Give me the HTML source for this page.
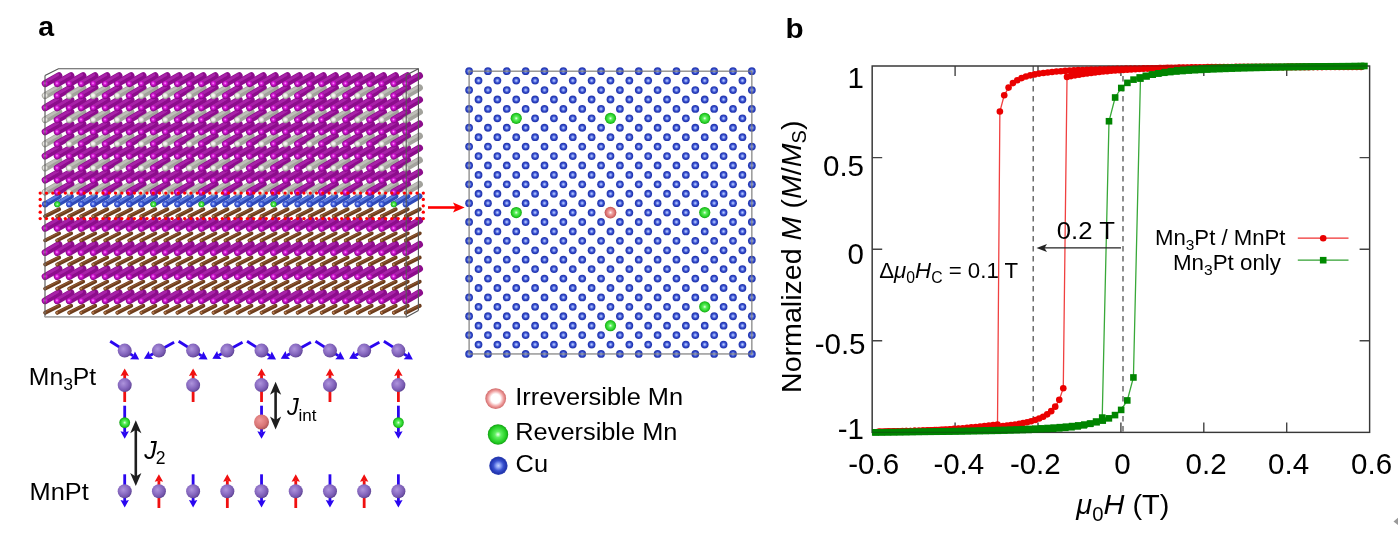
<!DOCTYPE html><html><head><meta charset="utf-8"><title>Figure</title><style>html,body{margin:0;padding:0;background:#fff;width:1398px;height:544px;overflow:hidden}svg{display:block;will-change:transform}text{font-family:"Liberation Sans",Arial,sans-serif}</style></head><body><svg width="1398" height="544" viewBox="0 0 1398 544" font-family="Liberation Sans, Arial, sans-serif"><defs>
<radialGradient id="gMn" cx="0.45" cy="0.45" r="0.6"><stop offset="0" stop-color="#ffa8ff"/><stop offset="0.4" stop-color="#d81cd8"/><stop offset="1" stop-color="#960096"/></radialGradient>
<radialGradient id="gPt" cx="0.45" cy="0.45" r="0.6"><stop offset="0" stop-color="#ffffff"/><stop offset="0.5" stop-color="#e6e6e0"/><stop offset="1" stop-color="#a0a098"/></radialGradient>
<radialGradient id="gCuR" cx="0.45" cy="0.45" r="0.6"><stop offset="0" stop-color="#c8d4ff"/><stop offset="0.45" stop-color="#4060e0"/><stop offset="1" stop-color="#2030a0"/></radialGradient>
<radialGradient id="gBr" cx="0.45" cy="0.45" r="0.6"><stop offset="0" stop-color="#d09060"/><stop offset="1" stop-color="#5a3010"/></radialGradient>
<radialGradient id="gCu" cx="0.5" cy="0.5" r="0.5"><stop offset="0" stop-color="#c4d4ff"/><stop offset="0.25" stop-color="#8aa0f4"/><stop offset="0.55" stop-color="#3a52d0"/><stop offset="0.85" stop-color="#2236b0"/><stop offset="1" stop-color="#3446b4"/></radialGradient>
<radialGradient id="gGr" cx="0.5" cy="0.5" r="0.5"><stop offset="0" stop-color="#f0fff0"/><stop offset="0.3" stop-color="#60f060"/><stop offset="0.8" stop-color="#22cc22"/><stop offset="1" stop-color="#14a014"/></radialGradient>
<radialGradient id="gPk" cx="0.5" cy="0.5" r="0.5"><stop offset="0" stop-color="#ffffff"/><stop offset="0.3" stop-color="#f0a8a8"/><stop offset="0.8" stop-color="#d86a6a"/><stop offset="1" stop-color="#b85050"/></radialGradient>
<radialGradient id="gPkL" cx="0.5" cy="0.5" r="0.5"><stop offset="0" stop-color="#ffffff"/><stop offset="0.45" stop-color="#ffffff"/><stop offset="0.75" stop-color="#f0a0a0"/><stop offset="1" stop-color="#d06868"/></radialGradient>
<radialGradient id="gSp" cx="0.4" cy="0.38" r="0.62"><stop offset="0" stop-color="#ae94dc"/><stop offset="0.55" stop-color="#8a6cc2"/><stop offset="0.85" stop-color="#7456ac"/><stop offset="1" stop-color="#5e4494"/></radialGradient>
<radialGradient id="gSpk" cx="0.4" cy="0.38" r="0.62"><stop offset="0" stop-color="#f09a9a"/><stop offset="0.7" stop-color="#d87474"/><stop offset="1" stop-color="#b05858"/></radialGradient>
<filter id="bl" x="-2%" y="-2%" width="104%" height="104%"><feGaussianBlur stdDeviation="0.5"/></filter>
</defs><text transform="matrix(1 0 0 1 38.2 35.9)" font-size="28.5" font-weight="bold">a</text><text transform="matrix(1.060 0 0 1 785.5 38.3)" font-size="28" font-weight="bold">b</text><g filter="url(#bl)"><g stroke-linecap="round"><line x1="45.2" y1="312.74" x2="59.2" y2="305.74" stroke="#6c3c1c" stroke-width="3.8"/><line x1="46.23" y1="311.44" x2="58.44" y2="305.34" stroke="#8c5630" stroke-width="1.4"/><line x1="57.22" y1="312.74" x2="71.22" y2="305.74" stroke="#6c3c1c" stroke-width="3.8"/><line x1="58.25" y1="311.44" x2="70.46" y2="305.34" stroke="#8c5630" stroke-width="1.4"/><line x1="69.24" y1="312.74" x2="83.24" y2="305.74" stroke="#6c3c1c" stroke-width="3.8"/><line x1="70.27" y1="311.44" x2="82.48" y2="305.34" stroke="#8c5630" stroke-width="1.4"/><line x1="81.26" y1="312.74" x2="95.26" y2="305.74" stroke="#6c3c1c" stroke-width="3.8"/><line x1="82.29" y1="311.44" x2="94.5" y2="305.34" stroke="#8c5630" stroke-width="1.4"/><line x1="93.28" y1="312.74" x2="107.28" y2="305.74" stroke="#6c3c1c" stroke-width="3.8"/><line x1="94.31" y1="311.44" x2="106.52" y2="305.34" stroke="#8c5630" stroke-width="1.4"/><line x1="105.3" y1="312.74" x2="119.3" y2="305.74" stroke="#6c3c1c" stroke-width="3.8"/><line x1="106.33" y1="311.44" x2="118.54" y2="305.34" stroke="#8c5630" stroke-width="1.4"/><line x1="117.32" y1="312.74" x2="131.32" y2="305.74" stroke="#6c3c1c" stroke-width="3.8"/><line x1="118.35" y1="311.44" x2="130.56" y2="305.34" stroke="#8c5630" stroke-width="1.4"/><line x1="129.34" y1="312.74" x2="143.34" y2="305.74" stroke="#6c3c1c" stroke-width="3.8"/><line x1="130.37" y1="311.44" x2="142.58" y2="305.34" stroke="#8c5630" stroke-width="1.4"/><line x1="141.36" y1="312.74" x2="155.36" y2="305.74" stroke="#6c3c1c" stroke-width="3.8"/><line x1="142.39" y1="311.44" x2="154.6" y2="305.34" stroke="#8c5630" stroke-width="1.4"/><line x1="153.38" y1="312.74" x2="167.38" y2="305.74" stroke="#6c3c1c" stroke-width="3.8"/><line x1="154.41" y1="311.44" x2="166.62" y2="305.34" stroke="#8c5630" stroke-width="1.4"/><line x1="165.4" y1="312.74" x2="179.4" y2="305.74" stroke="#6c3c1c" stroke-width="3.8"/><line x1="166.43" y1="311.44" x2="178.64" y2="305.34" stroke="#8c5630" stroke-width="1.4"/><line x1="177.42" y1="312.74" x2="191.42" y2="305.74" stroke="#6c3c1c" stroke-width="3.8"/><line x1="178.45" y1="311.44" x2="190.66" y2="305.34" stroke="#8c5630" stroke-width="1.4"/><line x1="189.44" y1="312.74" x2="203.44" y2="305.74" stroke="#6c3c1c" stroke-width="3.8"/><line x1="190.47" y1="311.44" x2="202.68" y2="305.34" stroke="#8c5630" stroke-width="1.4"/><line x1="201.46" y1="312.74" x2="215.46" y2="305.74" stroke="#6c3c1c" stroke-width="3.8"/><line x1="202.49" y1="311.44" x2="214.7" y2="305.34" stroke="#8c5630" stroke-width="1.4"/><line x1="213.48" y1="312.74" x2="227.48" y2="305.74" stroke="#6c3c1c" stroke-width="3.8"/><line x1="214.51" y1="311.44" x2="226.72" y2="305.34" stroke="#8c5630" stroke-width="1.4"/><line x1="225.5" y1="312.74" x2="239.5" y2="305.74" stroke="#6c3c1c" stroke-width="3.8"/><line x1="226.53" y1="311.44" x2="238.74" y2="305.34" stroke="#8c5630" stroke-width="1.4"/><line x1="237.52" y1="312.74" x2="251.52" y2="305.74" stroke="#6c3c1c" stroke-width="3.8"/><line x1="238.55" y1="311.44" x2="250.76" y2="305.34" stroke="#8c5630" stroke-width="1.4"/><line x1="249.54" y1="312.74" x2="263.54" y2="305.74" stroke="#6c3c1c" stroke-width="3.8"/><line x1="250.57" y1="311.44" x2="262.78" y2="305.34" stroke="#8c5630" stroke-width="1.4"/><line x1="261.56" y1="312.74" x2="275.56" y2="305.74" stroke="#6c3c1c" stroke-width="3.8"/><line x1="262.59" y1="311.44" x2="274.8" y2="305.34" stroke="#8c5630" stroke-width="1.4"/><line x1="273.58" y1="312.74" x2="287.58" y2="305.74" stroke="#6c3c1c" stroke-width="3.8"/><line x1="274.61" y1="311.44" x2="286.82" y2="305.34" stroke="#8c5630" stroke-width="1.4"/><line x1="285.6" y1="312.74" x2="299.6" y2="305.74" stroke="#6c3c1c" stroke-width="3.8"/><line x1="286.63" y1="311.44" x2="298.84" y2="305.34" stroke="#8c5630" stroke-width="1.4"/><line x1="297.62" y1="312.74" x2="311.62" y2="305.74" stroke="#6c3c1c" stroke-width="3.8"/><line x1="298.65" y1="311.44" x2="310.86" y2="305.34" stroke="#8c5630" stroke-width="1.4"/><line x1="309.64" y1="312.74" x2="323.64" y2="305.74" stroke="#6c3c1c" stroke-width="3.8"/><line x1="310.67" y1="311.44" x2="322.88" y2="305.34" stroke="#8c5630" stroke-width="1.4"/><line x1="321.66" y1="312.74" x2="335.66" y2="305.74" stroke="#6c3c1c" stroke-width="3.8"/><line x1="322.69" y1="311.44" x2="334.9" y2="305.34" stroke="#8c5630" stroke-width="1.4"/><line x1="333.68" y1="312.74" x2="347.68" y2="305.74" stroke="#6c3c1c" stroke-width="3.8"/><line x1="334.71" y1="311.44" x2="346.92" y2="305.34" stroke="#8c5630" stroke-width="1.4"/><line x1="345.7" y1="312.74" x2="359.7" y2="305.74" stroke="#6c3c1c" stroke-width="3.8"/><line x1="346.73" y1="311.44" x2="358.94" y2="305.34" stroke="#8c5630" stroke-width="1.4"/><line x1="357.72" y1="312.74" x2="371.72" y2="305.74" stroke="#6c3c1c" stroke-width="3.8"/><line x1="358.75" y1="311.44" x2="370.96" y2="305.34" stroke="#8c5630" stroke-width="1.4"/><line x1="369.74" y1="312.74" x2="383.74" y2="305.74" stroke="#6c3c1c" stroke-width="3.8"/><line x1="370.77" y1="311.44" x2="382.98" y2="305.34" stroke="#8c5630" stroke-width="1.4"/><line x1="381.76" y1="312.74" x2="395.76" y2="305.74" stroke="#6c3c1c" stroke-width="3.8"/><line x1="382.79" y1="311.44" x2="395" y2="305.34" stroke="#8c5630" stroke-width="1.4"/><line x1="393.78" y1="312.74" x2="407.78" y2="305.74" stroke="#6c3c1c" stroke-width="3.8"/><line x1="394.81" y1="311.44" x2="407.02" y2="305.34" stroke="#8c5630" stroke-width="1.4"/><line x1="405.8" y1="312.74" x2="419.8" y2="305.74" stroke="#6c3c1c" stroke-width="3.8"/><line x1="406.83" y1="311.44" x2="419.04" y2="305.34" stroke="#8c5630" stroke-width="1.4"/><line x1="45.2" y1="300.68" x2="58.9" y2="292.78" stroke="#8c0a8c" stroke-width="7.0"/><line x1="45.8" y1="298.72" x2="57.77" y2="291.82" stroke="#a824a8" stroke-width="2.8"/><line x1="57.22" y1="300.68" x2="70.92" y2="292.78" stroke="#8c0a8c" stroke-width="7.0"/><line x1="57.82" y1="298.72" x2="69.79" y2="291.82" stroke="#a824a8" stroke-width="2.8"/><line x1="69.24" y1="300.68" x2="82.94" y2="292.78" stroke="#8c0a8c" stroke-width="7.0"/><line x1="69.84" y1="298.72" x2="81.81" y2="291.82" stroke="#a824a8" stroke-width="2.8"/><line x1="81.26" y1="300.68" x2="94.96" y2="292.78" stroke="#8c0a8c" stroke-width="7.0"/><line x1="81.86" y1="298.72" x2="93.83" y2="291.82" stroke="#a824a8" stroke-width="2.8"/><line x1="93.28" y1="300.68" x2="106.98" y2="292.78" stroke="#8c0a8c" stroke-width="7.0"/><line x1="93.88" y1="298.72" x2="105.85" y2="291.82" stroke="#a824a8" stroke-width="2.8"/><line x1="105.3" y1="300.68" x2="119" y2="292.78" stroke="#8c0a8c" stroke-width="7.0"/><line x1="105.9" y1="298.72" x2="117.87" y2="291.82" stroke="#a824a8" stroke-width="2.8"/><line x1="117.32" y1="300.68" x2="131.02" y2="292.78" stroke="#8c0a8c" stroke-width="7.0"/><line x1="117.92" y1="298.72" x2="129.89" y2="291.82" stroke="#a824a8" stroke-width="2.8"/><line x1="129.34" y1="300.68" x2="143.04" y2="292.78" stroke="#8c0a8c" stroke-width="7.0"/><line x1="129.94" y1="298.72" x2="141.91" y2="291.82" stroke="#a824a8" stroke-width="2.8"/><line x1="141.36" y1="300.68" x2="155.06" y2="292.78" stroke="#8c0a8c" stroke-width="7.0"/><line x1="141.96" y1="298.72" x2="153.93" y2="291.82" stroke="#a824a8" stroke-width="2.8"/><line x1="153.38" y1="300.68" x2="167.08" y2="292.78" stroke="#8c0a8c" stroke-width="7.0"/><line x1="153.98" y1="298.72" x2="165.95" y2="291.82" stroke="#a824a8" stroke-width="2.8"/><line x1="165.4" y1="300.68" x2="179.1" y2="292.78" stroke="#8c0a8c" stroke-width="7.0"/><line x1="166" y1="298.72" x2="177.97" y2="291.82" stroke="#a824a8" stroke-width="2.8"/><line x1="177.42" y1="300.68" x2="191.12" y2="292.78" stroke="#8c0a8c" stroke-width="7.0"/><line x1="178.02" y1="298.72" x2="189.99" y2="291.82" stroke="#a824a8" stroke-width="2.8"/><line x1="189.44" y1="300.68" x2="203.14" y2="292.78" stroke="#8c0a8c" stroke-width="7.0"/><line x1="190.04" y1="298.72" x2="202.01" y2="291.82" stroke="#a824a8" stroke-width="2.8"/><line x1="201.46" y1="300.68" x2="215.16" y2="292.78" stroke="#8c0a8c" stroke-width="7.0"/><line x1="202.06" y1="298.72" x2="214.03" y2="291.82" stroke="#a824a8" stroke-width="2.8"/><line x1="213.48" y1="300.68" x2="227.18" y2="292.78" stroke="#8c0a8c" stroke-width="7.0"/><line x1="214.08" y1="298.72" x2="226.05" y2="291.82" stroke="#a824a8" stroke-width="2.8"/><line x1="225.5" y1="300.68" x2="239.2" y2="292.78" stroke="#8c0a8c" stroke-width="7.0"/><line x1="226.1" y1="298.72" x2="238.07" y2="291.82" stroke="#a824a8" stroke-width="2.8"/><line x1="237.52" y1="300.68" x2="251.22" y2="292.78" stroke="#8c0a8c" stroke-width="7.0"/><line x1="238.12" y1="298.72" x2="250.09" y2="291.82" stroke="#a824a8" stroke-width="2.8"/><line x1="249.54" y1="300.68" x2="263.24" y2="292.78" stroke="#8c0a8c" stroke-width="7.0"/><line x1="250.14" y1="298.72" x2="262.11" y2="291.82" stroke="#a824a8" stroke-width="2.8"/><line x1="261.56" y1="300.68" x2="275.26" y2="292.78" stroke="#8c0a8c" stroke-width="7.0"/><line x1="262.16" y1="298.72" x2="274.13" y2="291.82" stroke="#a824a8" stroke-width="2.8"/><line x1="273.58" y1="300.68" x2="287.28" y2="292.78" stroke="#8c0a8c" stroke-width="7.0"/><line x1="274.18" y1="298.72" x2="286.15" y2="291.82" stroke="#a824a8" stroke-width="2.8"/><line x1="285.6" y1="300.68" x2="299.3" y2="292.78" stroke="#8c0a8c" stroke-width="7.0"/><line x1="286.2" y1="298.72" x2="298.17" y2="291.82" stroke="#a824a8" stroke-width="2.8"/><line x1="297.62" y1="300.68" x2="311.32" y2="292.78" stroke="#8c0a8c" stroke-width="7.0"/><line x1="298.22" y1="298.72" x2="310.19" y2="291.82" stroke="#a824a8" stroke-width="2.8"/><line x1="309.64" y1="300.68" x2="323.34" y2="292.78" stroke="#8c0a8c" stroke-width="7.0"/><line x1="310.24" y1="298.72" x2="322.21" y2="291.82" stroke="#a824a8" stroke-width="2.8"/><line x1="321.66" y1="300.68" x2="335.36" y2="292.78" stroke="#8c0a8c" stroke-width="7.0"/><line x1="322.26" y1="298.72" x2="334.23" y2="291.82" stroke="#a824a8" stroke-width="2.8"/><line x1="333.68" y1="300.68" x2="347.38" y2="292.78" stroke="#8c0a8c" stroke-width="7.0"/><line x1="334.28" y1="298.72" x2="346.25" y2="291.82" stroke="#a824a8" stroke-width="2.8"/><line x1="345.7" y1="300.68" x2="359.4" y2="292.78" stroke="#8c0a8c" stroke-width="7.0"/><line x1="346.3" y1="298.72" x2="358.27" y2="291.82" stroke="#a824a8" stroke-width="2.8"/><line x1="357.72" y1="300.68" x2="371.42" y2="292.78" stroke="#8c0a8c" stroke-width="7.0"/><line x1="358.32" y1="298.72" x2="370.29" y2="291.82" stroke="#a824a8" stroke-width="2.8"/><line x1="369.74" y1="300.68" x2="383.44" y2="292.78" stroke="#8c0a8c" stroke-width="7.0"/><line x1="370.34" y1="298.72" x2="382.31" y2="291.82" stroke="#a824a8" stroke-width="2.8"/><line x1="381.76" y1="300.68" x2="395.46" y2="292.78" stroke="#8c0a8c" stroke-width="7.0"/><line x1="382.36" y1="298.72" x2="394.33" y2="291.82" stroke="#a824a8" stroke-width="2.8"/><line x1="393.78" y1="300.68" x2="407.48" y2="292.78" stroke="#8c0a8c" stroke-width="7.0"/><line x1="394.38" y1="298.72" x2="406.35" y2="291.82" stroke="#a824a8" stroke-width="2.8"/><line x1="405.8" y1="300.68" x2="419.5" y2="292.78" stroke="#8c0a8c" stroke-width="7.0"/><line x1="406.4" y1="298.72" x2="418.37" y2="291.82" stroke="#a824a8" stroke-width="2.8"/><line x1="45.2" y1="288.62" x2="59.2" y2="281.62" stroke="#6c3c1c" stroke-width="3.8"/><line x1="46.23" y1="287.32" x2="58.44" y2="281.22" stroke="#8c5630" stroke-width="1.4"/><line x1="57.22" y1="288.62" x2="71.22" y2="281.62" stroke="#6c3c1c" stroke-width="3.8"/><line x1="58.25" y1="287.32" x2="70.46" y2="281.22" stroke="#8c5630" stroke-width="1.4"/><line x1="69.24" y1="288.62" x2="83.24" y2="281.62" stroke="#6c3c1c" stroke-width="3.8"/><line x1="70.27" y1="287.32" x2="82.48" y2="281.22" stroke="#8c5630" stroke-width="1.4"/><line x1="81.26" y1="288.62" x2="95.26" y2="281.62" stroke="#6c3c1c" stroke-width="3.8"/><line x1="82.29" y1="287.32" x2="94.5" y2="281.22" stroke="#8c5630" stroke-width="1.4"/><line x1="93.28" y1="288.62" x2="107.28" y2="281.62" stroke="#6c3c1c" stroke-width="3.8"/><line x1="94.31" y1="287.32" x2="106.52" y2="281.22" stroke="#8c5630" stroke-width="1.4"/><line x1="105.3" y1="288.62" x2="119.3" y2="281.62" stroke="#6c3c1c" stroke-width="3.8"/><line x1="106.33" y1="287.32" x2="118.54" y2="281.22" stroke="#8c5630" stroke-width="1.4"/><line x1="117.32" y1="288.62" x2="131.32" y2="281.62" stroke="#6c3c1c" stroke-width="3.8"/><line x1="118.35" y1="287.32" x2="130.56" y2="281.22" stroke="#8c5630" stroke-width="1.4"/><line x1="129.34" y1="288.62" x2="143.34" y2="281.62" stroke="#6c3c1c" stroke-width="3.8"/><line x1="130.37" y1="287.32" x2="142.58" y2="281.22" stroke="#8c5630" stroke-width="1.4"/><line x1="141.36" y1="288.62" x2="155.36" y2="281.62" stroke="#6c3c1c" stroke-width="3.8"/><line x1="142.39" y1="287.32" x2="154.6" y2="281.22" stroke="#8c5630" stroke-width="1.4"/><line x1="153.38" y1="288.62" x2="167.38" y2="281.62" stroke="#6c3c1c" stroke-width="3.8"/><line x1="154.41" y1="287.32" x2="166.62" y2="281.22" stroke="#8c5630" stroke-width="1.4"/><line x1="165.4" y1="288.62" x2="179.4" y2="281.62" stroke="#6c3c1c" stroke-width="3.8"/><line x1="166.43" y1="287.32" x2="178.64" y2="281.22" stroke="#8c5630" stroke-width="1.4"/><line x1="177.42" y1="288.62" x2="191.42" y2="281.62" stroke="#6c3c1c" stroke-width="3.8"/><line x1="178.45" y1="287.32" x2="190.66" y2="281.22" stroke="#8c5630" stroke-width="1.4"/><line x1="189.44" y1="288.62" x2="203.44" y2="281.62" stroke="#6c3c1c" stroke-width="3.8"/><line x1="190.47" y1="287.32" x2="202.68" y2="281.22" stroke="#8c5630" stroke-width="1.4"/><line x1="201.46" y1="288.62" x2="215.46" y2="281.62" stroke="#6c3c1c" stroke-width="3.8"/><line x1="202.49" y1="287.32" x2="214.7" y2="281.22" stroke="#8c5630" stroke-width="1.4"/><line x1="213.48" y1="288.62" x2="227.48" y2="281.62" stroke="#6c3c1c" stroke-width="3.8"/><line x1="214.51" y1="287.32" x2="226.72" y2="281.22" stroke="#8c5630" stroke-width="1.4"/><line x1="225.5" y1="288.62" x2="239.5" y2="281.62" stroke="#6c3c1c" stroke-width="3.8"/><line x1="226.53" y1="287.32" x2="238.74" y2="281.22" stroke="#8c5630" stroke-width="1.4"/><line x1="237.52" y1="288.62" x2="251.52" y2="281.62" stroke="#6c3c1c" stroke-width="3.8"/><line x1="238.55" y1="287.32" x2="250.76" y2="281.22" stroke="#8c5630" stroke-width="1.4"/><line x1="249.54" y1="288.62" x2="263.54" y2="281.62" stroke="#6c3c1c" stroke-width="3.8"/><line x1="250.57" y1="287.32" x2="262.78" y2="281.22" stroke="#8c5630" stroke-width="1.4"/><line x1="261.56" y1="288.62" x2="275.56" y2="281.62" stroke="#6c3c1c" stroke-width="3.8"/><line x1="262.59" y1="287.32" x2="274.8" y2="281.22" stroke="#8c5630" stroke-width="1.4"/><line x1="273.58" y1="288.62" x2="287.58" y2="281.62" stroke="#6c3c1c" stroke-width="3.8"/><line x1="274.61" y1="287.32" x2="286.82" y2="281.22" stroke="#8c5630" stroke-width="1.4"/><line x1="285.6" y1="288.62" x2="299.6" y2="281.62" stroke="#6c3c1c" stroke-width="3.8"/><line x1="286.63" y1="287.32" x2="298.84" y2="281.22" stroke="#8c5630" stroke-width="1.4"/><line x1="297.62" y1="288.62" x2="311.62" y2="281.62" stroke="#6c3c1c" stroke-width="3.8"/><line x1="298.65" y1="287.32" x2="310.86" y2="281.22" stroke="#8c5630" stroke-width="1.4"/><line x1="309.64" y1="288.62" x2="323.64" y2="281.62" stroke="#6c3c1c" stroke-width="3.8"/><line x1="310.67" y1="287.32" x2="322.88" y2="281.22" stroke="#8c5630" stroke-width="1.4"/><line x1="321.66" y1="288.62" x2="335.66" y2="281.62" stroke="#6c3c1c" stroke-width="3.8"/><line x1="322.69" y1="287.32" x2="334.9" y2="281.22" stroke="#8c5630" stroke-width="1.4"/><line x1="333.68" y1="288.62" x2="347.68" y2="281.62" stroke="#6c3c1c" stroke-width="3.8"/><line x1="334.71" y1="287.32" x2="346.92" y2="281.22" stroke="#8c5630" stroke-width="1.4"/><line x1="345.7" y1="288.62" x2="359.7" y2="281.62" stroke="#6c3c1c" stroke-width="3.8"/><line x1="346.73" y1="287.32" x2="358.94" y2="281.22" stroke="#8c5630" stroke-width="1.4"/><line x1="357.72" y1="288.62" x2="371.72" y2="281.62" stroke="#6c3c1c" stroke-width="3.8"/><line x1="358.75" y1="287.32" x2="370.96" y2="281.22" stroke="#8c5630" stroke-width="1.4"/><line x1="369.74" y1="288.62" x2="383.74" y2="281.62" stroke="#6c3c1c" stroke-width="3.8"/><line x1="370.77" y1="287.32" x2="382.98" y2="281.22" stroke="#8c5630" stroke-width="1.4"/><line x1="381.76" y1="288.62" x2="395.76" y2="281.62" stroke="#6c3c1c" stroke-width="3.8"/><line x1="382.79" y1="287.32" x2="395" y2="281.22" stroke="#8c5630" stroke-width="1.4"/><line x1="393.78" y1="288.62" x2="407.78" y2="281.62" stroke="#6c3c1c" stroke-width="3.8"/><line x1="394.81" y1="287.32" x2="407.02" y2="281.22" stroke="#8c5630" stroke-width="1.4"/><line x1="405.8" y1="288.62" x2="419.8" y2="281.62" stroke="#6c3c1c" stroke-width="3.8"/><line x1="406.83" y1="287.32" x2="419.04" y2="281.22" stroke="#8c5630" stroke-width="1.4"/><line x1="45.2" y1="276.56" x2="58.9" y2="268.66" stroke="#8c0a8c" stroke-width="7.0"/><line x1="45.8" y1="274.6" x2="57.77" y2="267.7" stroke="#a824a8" stroke-width="2.8"/><line x1="57.22" y1="276.56" x2="70.92" y2="268.66" stroke="#8c0a8c" stroke-width="7.0"/><line x1="57.82" y1="274.6" x2="69.79" y2="267.7" stroke="#a824a8" stroke-width="2.8"/><line x1="69.24" y1="276.56" x2="82.94" y2="268.66" stroke="#8c0a8c" stroke-width="7.0"/><line x1="69.84" y1="274.6" x2="81.81" y2="267.7" stroke="#a824a8" stroke-width="2.8"/><line x1="81.26" y1="276.56" x2="94.96" y2="268.66" stroke="#8c0a8c" stroke-width="7.0"/><line x1="81.86" y1="274.6" x2="93.83" y2="267.7" stroke="#a824a8" stroke-width="2.8"/><line x1="93.28" y1="276.56" x2="106.98" y2="268.66" stroke="#8c0a8c" stroke-width="7.0"/><line x1="93.88" y1="274.6" x2="105.85" y2="267.7" stroke="#a824a8" stroke-width="2.8"/><line x1="105.3" y1="276.56" x2="119" y2="268.66" stroke="#8c0a8c" stroke-width="7.0"/><line x1="105.9" y1="274.6" x2="117.87" y2="267.7" stroke="#a824a8" stroke-width="2.8"/><line x1="117.32" y1="276.56" x2="131.02" y2="268.66" stroke="#8c0a8c" stroke-width="7.0"/><line x1="117.92" y1="274.6" x2="129.89" y2="267.7" stroke="#a824a8" stroke-width="2.8"/><line x1="129.34" y1="276.56" x2="143.04" y2="268.66" stroke="#8c0a8c" stroke-width="7.0"/><line x1="129.94" y1="274.6" x2="141.91" y2="267.7" stroke="#a824a8" stroke-width="2.8"/><line x1="141.36" y1="276.56" x2="155.06" y2="268.66" stroke="#8c0a8c" stroke-width="7.0"/><line x1="141.96" y1="274.6" x2="153.93" y2="267.7" stroke="#a824a8" stroke-width="2.8"/><line x1="153.38" y1="276.56" x2="167.08" y2="268.66" stroke="#8c0a8c" stroke-width="7.0"/><line x1="153.98" y1="274.6" x2="165.95" y2="267.7" stroke="#a824a8" stroke-width="2.8"/><line x1="165.4" y1="276.56" x2="179.1" y2="268.66" stroke="#8c0a8c" stroke-width="7.0"/><line x1="166" y1="274.6" x2="177.97" y2="267.7" stroke="#a824a8" stroke-width="2.8"/><line x1="177.42" y1="276.56" x2="191.12" y2="268.66" stroke="#8c0a8c" stroke-width="7.0"/><line x1="178.02" y1="274.6" x2="189.99" y2="267.7" stroke="#a824a8" stroke-width="2.8"/><line x1="189.44" y1="276.56" x2="203.14" y2="268.66" stroke="#8c0a8c" stroke-width="7.0"/><line x1="190.04" y1="274.6" x2="202.01" y2="267.7" stroke="#a824a8" stroke-width="2.8"/><line x1="201.46" y1="276.56" x2="215.16" y2="268.66" stroke="#8c0a8c" stroke-width="7.0"/><line x1="202.06" y1="274.6" x2="214.03" y2="267.7" stroke="#a824a8" stroke-width="2.8"/><line x1="213.48" y1="276.56" x2="227.18" y2="268.66" stroke="#8c0a8c" stroke-width="7.0"/><line x1="214.08" y1="274.6" x2="226.05" y2="267.7" stroke="#a824a8" stroke-width="2.8"/><line x1="225.5" y1="276.56" x2="239.2" y2="268.66" stroke="#8c0a8c" stroke-width="7.0"/><line x1="226.1" y1="274.6" x2="238.07" y2="267.7" stroke="#a824a8" stroke-width="2.8"/><line x1="237.52" y1="276.56" x2="251.22" y2="268.66" stroke="#8c0a8c" stroke-width="7.0"/><line x1="238.12" y1="274.6" x2="250.09" y2="267.7" stroke="#a824a8" stroke-width="2.8"/><line x1="249.54" y1="276.56" x2="263.24" y2="268.66" stroke="#8c0a8c" stroke-width="7.0"/><line x1="250.14" y1="274.6" x2="262.11" y2="267.7" stroke="#a824a8" stroke-width="2.8"/><line x1="261.56" y1="276.56" x2="275.26" y2="268.66" stroke="#8c0a8c" stroke-width="7.0"/><line x1="262.16" y1="274.6" x2="274.13" y2="267.7" stroke="#a824a8" stroke-width="2.8"/><line x1="273.58" y1="276.56" x2="287.28" y2="268.66" stroke="#8c0a8c" stroke-width="7.0"/><line x1="274.18" y1="274.6" x2="286.15" y2="267.7" stroke="#a824a8" stroke-width="2.8"/><line x1="285.6" y1="276.56" x2="299.3" y2="268.66" stroke="#8c0a8c" stroke-width="7.0"/><line x1="286.2" y1="274.6" x2="298.17" y2="267.7" stroke="#a824a8" stroke-width="2.8"/><line x1="297.62" y1="276.56" x2="311.32" y2="268.66" stroke="#8c0a8c" stroke-width="7.0"/><line x1="298.22" y1="274.6" x2="310.19" y2="267.7" stroke="#a824a8" stroke-width="2.8"/><line x1="309.64" y1="276.56" x2="323.34" y2="268.66" stroke="#8c0a8c" stroke-width="7.0"/><line x1="310.24" y1="274.6" x2="322.21" y2="267.7" stroke="#a824a8" stroke-width="2.8"/><line x1="321.66" y1="276.56" x2="335.36" y2="268.66" stroke="#8c0a8c" stroke-width="7.0"/><line x1="322.26" y1="274.6" x2="334.23" y2="267.7" stroke="#a824a8" stroke-width="2.8"/><line x1="333.68" y1="276.56" x2="347.38" y2="268.66" stroke="#8c0a8c" stroke-width="7.0"/><line x1="334.28" y1="274.6" x2="346.25" y2="267.7" stroke="#a824a8" stroke-width="2.8"/><line x1="345.7" y1="276.56" x2="359.4" y2="268.66" stroke="#8c0a8c" stroke-width="7.0"/><line x1="346.3" y1="274.6" x2="358.27" y2="267.7" stroke="#a824a8" stroke-width="2.8"/><line x1="357.72" y1="276.56" x2="371.42" y2="268.66" stroke="#8c0a8c" stroke-width="7.0"/><line x1="358.32" y1="274.6" x2="370.29" y2="267.7" stroke="#a824a8" stroke-width="2.8"/><line x1="369.74" y1="276.56" x2="383.44" y2="268.66" stroke="#8c0a8c" stroke-width="7.0"/><line x1="370.34" y1="274.6" x2="382.31" y2="267.7" stroke="#a824a8" stroke-width="2.8"/><line x1="381.76" y1="276.56" x2="395.46" y2="268.66" stroke="#8c0a8c" stroke-width="7.0"/><line x1="382.36" y1="274.6" x2="394.33" y2="267.7" stroke="#a824a8" stroke-width="2.8"/><line x1="393.78" y1="276.56" x2="407.48" y2="268.66" stroke="#8c0a8c" stroke-width="7.0"/><line x1="394.38" y1="274.6" x2="406.35" y2="267.7" stroke="#a824a8" stroke-width="2.8"/><line x1="405.8" y1="276.56" x2="419.5" y2="268.66" stroke="#8c0a8c" stroke-width="7.0"/><line x1="406.4" y1="274.6" x2="418.37" y2="267.7" stroke="#a824a8" stroke-width="2.8"/><line x1="45.2" y1="264.5" x2="59.2" y2="257.5" stroke="#6c3c1c" stroke-width="3.8"/><line x1="46.23" y1="263.2" x2="58.44" y2="257.1" stroke="#8c5630" stroke-width="1.4"/><line x1="57.22" y1="264.5" x2="71.22" y2="257.5" stroke="#6c3c1c" stroke-width="3.8"/><line x1="58.25" y1="263.2" x2="70.46" y2="257.1" stroke="#8c5630" stroke-width="1.4"/><line x1="69.24" y1="264.5" x2="83.24" y2="257.5" stroke="#6c3c1c" stroke-width="3.8"/><line x1="70.27" y1="263.2" x2="82.48" y2="257.1" stroke="#8c5630" stroke-width="1.4"/><line x1="81.26" y1="264.5" x2="95.26" y2="257.5" stroke="#6c3c1c" stroke-width="3.8"/><line x1="82.29" y1="263.2" x2="94.5" y2="257.1" stroke="#8c5630" stroke-width="1.4"/><line x1="93.28" y1="264.5" x2="107.28" y2="257.5" stroke="#6c3c1c" stroke-width="3.8"/><line x1="94.31" y1="263.2" x2="106.52" y2="257.1" stroke="#8c5630" stroke-width="1.4"/><line x1="105.3" y1="264.5" x2="119.3" y2="257.5" stroke="#6c3c1c" stroke-width="3.8"/><line x1="106.33" y1="263.2" x2="118.54" y2="257.1" stroke="#8c5630" stroke-width="1.4"/><line x1="117.32" y1="264.5" x2="131.32" y2="257.5" stroke="#6c3c1c" stroke-width="3.8"/><line x1="118.35" y1="263.2" x2="130.56" y2="257.1" stroke="#8c5630" stroke-width="1.4"/><line x1="129.34" y1="264.5" x2="143.34" y2="257.5" stroke="#6c3c1c" stroke-width="3.8"/><line x1="130.37" y1="263.2" x2="142.58" y2="257.1" stroke="#8c5630" stroke-width="1.4"/><line x1="141.36" y1="264.5" x2="155.36" y2="257.5" stroke="#6c3c1c" stroke-width="3.8"/><line x1="142.39" y1="263.2" x2="154.6" y2="257.1" stroke="#8c5630" stroke-width="1.4"/><line x1="153.38" y1="264.5" x2="167.38" y2="257.5" stroke="#6c3c1c" stroke-width="3.8"/><line x1="154.41" y1="263.2" x2="166.62" y2="257.1" stroke="#8c5630" stroke-width="1.4"/><line x1="165.4" y1="264.5" x2="179.4" y2="257.5" stroke="#6c3c1c" stroke-width="3.8"/><line x1="166.43" y1="263.2" x2="178.64" y2="257.1" stroke="#8c5630" stroke-width="1.4"/><line x1="177.42" y1="264.5" x2="191.42" y2="257.5" stroke="#6c3c1c" stroke-width="3.8"/><line x1="178.45" y1="263.2" x2="190.66" y2="257.1" stroke="#8c5630" stroke-width="1.4"/><line x1="189.44" y1="264.5" x2="203.44" y2="257.5" stroke="#6c3c1c" stroke-width="3.8"/><line x1="190.47" y1="263.2" x2="202.68" y2="257.1" stroke="#8c5630" stroke-width="1.4"/><line x1="201.46" y1="264.5" x2="215.46" y2="257.5" stroke="#6c3c1c" stroke-width="3.8"/><line x1="202.49" y1="263.2" x2="214.7" y2="257.1" stroke="#8c5630" stroke-width="1.4"/><line x1="213.48" y1="264.5" x2="227.48" y2="257.5" stroke="#6c3c1c" stroke-width="3.8"/><line x1="214.51" y1="263.2" x2="226.72" y2="257.1" stroke="#8c5630" stroke-width="1.4"/><line x1="225.5" y1="264.5" x2="239.5" y2="257.5" stroke="#6c3c1c" stroke-width="3.8"/><line x1="226.53" y1="263.2" x2="238.74" y2="257.1" stroke="#8c5630" stroke-width="1.4"/><line x1="237.52" y1="264.5" x2="251.52" y2="257.5" stroke="#6c3c1c" stroke-width="3.8"/><line x1="238.55" y1="263.2" x2="250.76" y2="257.1" stroke="#8c5630" stroke-width="1.4"/><line x1="249.54" y1="264.5" x2="263.54" y2="257.5" stroke="#6c3c1c" stroke-width="3.8"/><line x1="250.57" y1="263.2" x2="262.78" y2="257.1" stroke="#8c5630" stroke-width="1.4"/><line x1="261.56" y1="264.5" x2="275.56" y2="257.5" stroke="#6c3c1c" stroke-width="3.8"/><line x1="262.59" y1="263.2" x2="274.8" y2="257.1" stroke="#8c5630" stroke-width="1.4"/><line x1="273.58" y1="264.5" x2="287.58" y2="257.5" stroke="#6c3c1c" stroke-width="3.8"/><line x1="274.61" y1="263.2" x2="286.82" y2="257.1" stroke="#8c5630" stroke-width="1.4"/><line x1="285.6" y1="264.5" x2="299.6" y2="257.5" stroke="#6c3c1c" stroke-width="3.8"/><line x1="286.63" y1="263.2" x2="298.84" y2="257.1" stroke="#8c5630" stroke-width="1.4"/><line x1="297.62" y1="264.5" x2="311.62" y2="257.5" stroke="#6c3c1c" stroke-width="3.8"/><line x1="298.65" y1="263.2" x2="310.86" y2="257.1" stroke="#8c5630" stroke-width="1.4"/><line x1="309.64" y1="264.5" x2="323.64" y2="257.5" stroke="#6c3c1c" stroke-width="3.8"/><line x1="310.67" y1="263.2" x2="322.88" y2="257.1" stroke="#8c5630" stroke-width="1.4"/><line x1="321.66" y1="264.5" x2="335.66" y2="257.5" stroke="#6c3c1c" stroke-width="3.8"/><line x1="322.69" y1="263.2" x2="334.9" y2="257.1" stroke="#8c5630" stroke-width="1.4"/><line x1="333.68" y1="264.5" x2="347.68" y2="257.5" stroke="#6c3c1c" stroke-width="3.8"/><line x1="334.71" y1="263.2" x2="346.92" y2="257.1" stroke="#8c5630" stroke-width="1.4"/><line x1="345.7" y1="264.5" x2="359.7" y2="257.5" stroke="#6c3c1c" stroke-width="3.8"/><line x1="346.73" y1="263.2" x2="358.94" y2="257.1" stroke="#8c5630" stroke-width="1.4"/><line x1="357.72" y1="264.5" x2="371.72" y2="257.5" stroke="#6c3c1c" stroke-width="3.8"/><line x1="358.75" y1="263.2" x2="370.96" y2="257.1" stroke="#8c5630" stroke-width="1.4"/><line x1="369.74" y1="264.5" x2="383.74" y2="257.5" stroke="#6c3c1c" stroke-width="3.8"/><line x1="370.77" y1="263.2" x2="382.98" y2="257.1" stroke="#8c5630" stroke-width="1.4"/><line x1="381.76" y1="264.5" x2="395.76" y2="257.5" stroke="#6c3c1c" stroke-width="3.8"/><line x1="382.79" y1="263.2" x2="395" y2="257.1" stroke="#8c5630" stroke-width="1.4"/><line x1="393.78" y1="264.5" x2="407.78" y2="257.5" stroke="#6c3c1c" stroke-width="3.8"/><line x1="394.81" y1="263.2" x2="407.02" y2="257.1" stroke="#8c5630" stroke-width="1.4"/><line x1="405.8" y1="264.5" x2="419.8" y2="257.5" stroke="#6c3c1c" stroke-width="3.8"/><line x1="406.83" y1="263.2" x2="419.04" y2="257.1" stroke="#8c5630" stroke-width="1.4"/><line x1="45.2" y1="252.44" x2="58.9" y2="244.54" stroke="#8c0a8c" stroke-width="7.0"/><line x1="45.8" y1="250.48" x2="57.77" y2="243.58" stroke="#a824a8" stroke-width="2.8"/><line x1="57.22" y1="252.44" x2="70.92" y2="244.54" stroke="#8c0a8c" stroke-width="7.0"/><line x1="57.82" y1="250.48" x2="69.79" y2="243.58" stroke="#a824a8" stroke-width="2.8"/><line x1="69.24" y1="252.44" x2="82.94" y2="244.54" stroke="#8c0a8c" stroke-width="7.0"/><line x1="69.84" y1="250.48" x2="81.81" y2="243.58" stroke="#a824a8" stroke-width="2.8"/><line x1="81.26" y1="252.44" x2="94.96" y2="244.54" stroke="#8c0a8c" stroke-width="7.0"/><line x1="81.86" y1="250.48" x2="93.83" y2="243.58" stroke="#a824a8" stroke-width="2.8"/><line x1="93.28" y1="252.44" x2="106.98" y2="244.54" stroke="#8c0a8c" stroke-width="7.0"/><line x1="93.88" y1="250.48" x2="105.85" y2="243.58" stroke="#a824a8" stroke-width="2.8"/><line x1="105.3" y1="252.44" x2="119" y2="244.54" stroke="#8c0a8c" stroke-width="7.0"/><line x1="105.9" y1="250.48" x2="117.87" y2="243.58" stroke="#a824a8" stroke-width="2.8"/><line x1="117.32" y1="252.44" x2="131.02" y2="244.54" stroke="#8c0a8c" stroke-width="7.0"/><line x1="117.92" y1="250.48" x2="129.89" y2="243.58" stroke="#a824a8" stroke-width="2.8"/><line x1="129.34" y1="252.44" x2="143.04" y2="244.54" stroke="#8c0a8c" stroke-width="7.0"/><line x1="129.94" y1="250.48" x2="141.91" y2="243.58" stroke="#a824a8" stroke-width="2.8"/><line x1="141.36" y1="252.44" x2="155.06" y2="244.54" stroke="#8c0a8c" stroke-width="7.0"/><line x1="141.96" y1="250.48" x2="153.93" y2="243.58" stroke="#a824a8" stroke-width="2.8"/><line x1="153.38" y1="252.44" x2="167.08" y2="244.54" stroke="#8c0a8c" stroke-width="7.0"/><line x1="153.98" y1="250.48" x2="165.95" y2="243.58" stroke="#a824a8" stroke-width="2.8"/><line x1="165.4" y1="252.44" x2="179.1" y2="244.54" stroke="#8c0a8c" stroke-width="7.0"/><line x1="166" y1="250.48" x2="177.97" y2="243.58" stroke="#a824a8" stroke-width="2.8"/><line x1="177.42" y1="252.44" x2="191.12" y2="244.54" stroke="#8c0a8c" stroke-width="7.0"/><line x1="178.02" y1="250.48" x2="189.99" y2="243.58" stroke="#a824a8" stroke-width="2.8"/><line x1="189.44" y1="252.44" x2="203.14" y2="244.54" stroke="#8c0a8c" stroke-width="7.0"/><line x1="190.04" y1="250.48" x2="202.01" y2="243.58" stroke="#a824a8" stroke-width="2.8"/><line x1="201.46" y1="252.44" x2="215.16" y2="244.54" stroke="#8c0a8c" stroke-width="7.0"/><line x1="202.06" y1="250.48" x2="214.03" y2="243.58" stroke="#a824a8" stroke-width="2.8"/><line x1="213.48" y1="252.44" x2="227.18" y2="244.54" stroke="#8c0a8c" stroke-width="7.0"/><line x1="214.08" y1="250.48" x2="226.05" y2="243.58" stroke="#a824a8" stroke-width="2.8"/><line x1="225.5" y1="252.44" x2="239.2" y2="244.54" stroke="#8c0a8c" stroke-width="7.0"/><line x1="226.1" y1="250.48" x2="238.07" y2="243.58" stroke="#a824a8" stroke-width="2.8"/><line x1="237.52" y1="252.44" x2="251.22" y2="244.54" stroke="#8c0a8c" stroke-width="7.0"/><line x1="238.12" y1="250.48" x2="250.09" y2="243.58" stroke="#a824a8" stroke-width="2.8"/><line x1="249.54" y1="252.44" x2="263.24" y2="244.54" stroke="#8c0a8c" stroke-width="7.0"/><line x1="250.14" y1="250.48" x2="262.11" y2="243.58" stroke="#a824a8" stroke-width="2.8"/><line x1="261.56" y1="252.44" x2="275.26" y2="244.54" stroke="#8c0a8c" stroke-width="7.0"/><line x1="262.16" y1="250.48" x2="274.13" y2="243.58" stroke="#a824a8" stroke-width="2.8"/><line x1="273.58" y1="252.44" x2="287.28" y2="244.54" stroke="#8c0a8c" stroke-width="7.0"/><line x1="274.18" y1="250.48" x2="286.15" y2="243.58" stroke="#a824a8" stroke-width="2.8"/><line x1="285.6" y1="252.44" x2="299.3" y2="244.54" stroke="#8c0a8c" stroke-width="7.0"/><line x1="286.2" y1="250.48" x2="298.17" y2="243.58" stroke="#a824a8" stroke-width="2.8"/><line x1="297.62" y1="252.44" x2="311.32" y2="244.54" stroke="#8c0a8c" stroke-width="7.0"/><line x1="298.22" y1="250.48" x2="310.19" y2="243.58" stroke="#a824a8" stroke-width="2.8"/><line x1="309.64" y1="252.44" x2="323.34" y2="244.54" stroke="#8c0a8c" stroke-width="7.0"/><line x1="310.24" y1="250.48" x2="322.21" y2="243.58" stroke="#a824a8" stroke-width="2.8"/><line x1="321.66" y1="252.44" x2="335.36" y2="244.54" stroke="#8c0a8c" stroke-width="7.0"/><line x1="322.26" y1="250.48" x2="334.23" y2="243.58" stroke="#a824a8" stroke-width="2.8"/><line x1="333.68" y1="252.44" x2="347.38" y2="244.54" stroke="#8c0a8c" stroke-width="7.0"/><line x1="334.28" y1="250.48" x2="346.25" y2="243.58" stroke="#a824a8" stroke-width="2.8"/><line x1="345.7" y1="252.44" x2="359.4" y2="244.54" stroke="#8c0a8c" stroke-width="7.0"/><line x1="346.3" y1="250.48" x2="358.27" y2="243.58" stroke="#a824a8" stroke-width="2.8"/><line x1="357.72" y1="252.44" x2="371.42" y2="244.54" stroke="#8c0a8c" stroke-width="7.0"/><line x1="358.32" y1="250.48" x2="370.29" y2="243.58" stroke="#a824a8" stroke-width="2.8"/><line x1="369.74" y1="252.44" x2="383.44" y2="244.54" stroke="#8c0a8c" stroke-width="7.0"/><line x1="370.34" y1="250.48" x2="382.31" y2="243.58" stroke="#a824a8" stroke-width="2.8"/><line x1="381.76" y1="252.44" x2="395.46" y2="244.54" stroke="#8c0a8c" stroke-width="7.0"/><line x1="382.36" y1="250.48" x2="394.33" y2="243.58" stroke="#a824a8" stroke-width="2.8"/><line x1="393.78" y1="252.44" x2="407.48" y2="244.54" stroke="#8c0a8c" stroke-width="7.0"/><line x1="394.38" y1="250.48" x2="406.35" y2="243.58" stroke="#a824a8" stroke-width="2.8"/><line x1="405.8" y1="252.44" x2="419.5" y2="244.54" stroke="#8c0a8c" stroke-width="7.0"/><line x1="406.4" y1="250.48" x2="418.37" y2="243.58" stroke="#a824a8" stroke-width="2.8"/><line x1="45.2" y1="240.38" x2="59.2" y2="233.38" stroke="#6c3c1c" stroke-width="3.8"/><line x1="46.23" y1="239.08" x2="58.44" y2="232.98" stroke="#8c5630" stroke-width="1.4"/><line x1="57.22" y1="240.38" x2="71.22" y2="233.38" stroke="#6c3c1c" stroke-width="3.8"/><line x1="58.25" y1="239.08" x2="70.46" y2="232.98" stroke="#8c5630" stroke-width="1.4"/><line x1="69.24" y1="240.38" x2="83.24" y2="233.38" stroke="#6c3c1c" stroke-width="3.8"/><line x1="70.27" y1="239.08" x2="82.48" y2="232.98" stroke="#8c5630" stroke-width="1.4"/><line x1="81.26" y1="240.38" x2="95.26" y2="233.38" stroke="#6c3c1c" stroke-width="3.8"/><line x1="82.29" y1="239.08" x2="94.5" y2="232.98" stroke="#8c5630" stroke-width="1.4"/><line x1="93.28" y1="240.38" x2="107.28" y2="233.38" stroke="#6c3c1c" stroke-width="3.8"/><line x1="94.31" y1="239.08" x2="106.52" y2="232.98" stroke="#8c5630" stroke-width="1.4"/><line x1="105.3" y1="240.38" x2="119.3" y2="233.38" stroke="#6c3c1c" stroke-width="3.8"/><line x1="106.33" y1="239.08" x2="118.54" y2="232.98" stroke="#8c5630" stroke-width="1.4"/><line x1="117.32" y1="240.38" x2="131.32" y2="233.38" stroke="#6c3c1c" stroke-width="3.8"/><line x1="118.35" y1="239.08" x2="130.56" y2="232.98" stroke="#8c5630" stroke-width="1.4"/><line x1="129.34" y1="240.38" x2="143.34" y2="233.38" stroke="#6c3c1c" stroke-width="3.8"/><line x1="130.37" y1="239.08" x2="142.58" y2="232.98" stroke="#8c5630" stroke-width="1.4"/><line x1="141.36" y1="240.38" x2="155.36" y2="233.38" stroke="#6c3c1c" stroke-width="3.8"/><line x1="142.39" y1="239.08" x2="154.6" y2="232.98" stroke="#8c5630" stroke-width="1.4"/><line x1="153.38" y1="240.38" x2="167.38" y2="233.38" stroke="#6c3c1c" stroke-width="3.8"/><line x1="154.41" y1="239.08" x2="166.62" y2="232.98" stroke="#8c5630" stroke-width="1.4"/><line x1="165.4" y1="240.38" x2="179.4" y2="233.38" stroke="#6c3c1c" stroke-width="3.8"/><line x1="166.43" y1="239.08" x2="178.64" y2="232.98" stroke="#8c5630" stroke-width="1.4"/><line x1="177.42" y1="240.38" x2="191.42" y2="233.38" stroke="#6c3c1c" stroke-width="3.8"/><line x1="178.45" y1="239.08" x2="190.66" y2="232.98" stroke="#8c5630" stroke-width="1.4"/><line x1="189.44" y1="240.38" x2="203.44" y2="233.38" stroke="#6c3c1c" stroke-width="3.8"/><line x1="190.47" y1="239.08" x2="202.68" y2="232.98" stroke="#8c5630" stroke-width="1.4"/><line x1="201.46" y1="240.38" x2="215.46" y2="233.38" stroke="#6c3c1c" stroke-width="3.8"/><line x1="202.49" y1="239.08" x2="214.7" y2="232.98" stroke="#8c5630" stroke-width="1.4"/><line x1="213.48" y1="240.38" x2="227.48" y2="233.38" stroke="#6c3c1c" stroke-width="3.8"/><line x1="214.51" y1="239.08" x2="226.72" y2="232.98" stroke="#8c5630" stroke-width="1.4"/><line x1="225.5" y1="240.38" x2="239.5" y2="233.38" stroke="#6c3c1c" stroke-width="3.8"/><line x1="226.53" y1="239.08" x2="238.74" y2="232.98" stroke="#8c5630" stroke-width="1.4"/><line x1="237.52" y1="240.38" x2="251.52" y2="233.38" stroke="#6c3c1c" stroke-width="3.8"/><line x1="238.55" y1="239.08" x2="250.76" y2="232.98" stroke="#8c5630" stroke-width="1.4"/><line x1="249.54" y1="240.38" x2="263.54" y2="233.38" stroke="#6c3c1c" stroke-width="3.8"/><line x1="250.57" y1="239.08" x2="262.78" y2="232.98" stroke="#8c5630" stroke-width="1.4"/><line x1="261.56" y1="240.38" x2="275.56" y2="233.38" stroke="#6c3c1c" stroke-width="3.8"/><line x1="262.59" y1="239.08" x2="274.8" y2="232.98" stroke="#8c5630" stroke-width="1.4"/><line x1="273.58" y1="240.38" x2="287.58" y2="233.38" stroke="#6c3c1c" stroke-width="3.8"/><line x1="274.61" y1="239.08" x2="286.82" y2="232.98" stroke="#8c5630" stroke-width="1.4"/><line x1="285.6" y1="240.38" x2="299.6" y2="233.38" stroke="#6c3c1c" stroke-width="3.8"/><line x1="286.63" y1="239.08" x2="298.84" y2="232.98" stroke="#8c5630" stroke-width="1.4"/><line x1="297.62" y1="240.38" x2="311.62" y2="233.38" stroke="#6c3c1c" stroke-width="3.8"/><line x1="298.65" y1="239.08" x2="310.86" y2="232.98" stroke="#8c5630" stroke-width="1.4"/><line x1="309.64" y1="240.38" x2="323.64" y2="233.38" stroke="#6c3c1c" stroke-width="3.8"/><line x1="310.67" y1="239.08" x2="322.88" y2="232.98" stroke="#8c5630" stroke-width="1.4"/><line x1="321.66" y1="240.38" x2="335.66" y2="233.38" stroke="#6c3c1c" stroke-width="3.8"/><line x1="322.69" y1="239.08" x2="334.9" y2="232.98" stroke="#8c5630" stroke-width="1.4"/><line x1="333.68" y1="240.38" x2="347.68" y2="233.38" stroke="#6c3c1c" stroke-width="3.8"/><line x1="334.71" y1="239.08" x2="346.92" y2="232.98" stroke="#8c5630" stroke-width="1.4"/><line x1="345.7" y1="240.38" x2="359.7" y2="233.38" stroke="#6c3c1c" stroke-width="3.8"/><line x1="346.73" y1="239.08" x2="358.94" y2="232.98" stroke="#8c5630" stroke-width="1.4"/><line x1="357.72" y1="240.38" x2="371.72" y2="233.38" stroke="#6c3c1c" stroke-width="3.8"/><line x1="358.75" y1="239.08" x2="370.96" y2="232.98" stroke="#8c5630" stroke-width="1.4"/><line x1="369.74" y1="240.38" x2="383.74" y2="233.38" stroke="#6c3c1c" stroke-width="3.8"/><line x1="370.77" y1="239.08" x2="382.98" y2="232.98" stroke="#8c5630" stroke-width="1.4"/><line x1="381.76" y1="240.38" x2="395.76" y2="233.38" stroke="#6c3c1c" stroke-width="3.8"/><line x1="382.79" y1="239.08" x2="395" y2="232.98" stroke="#8c5630" stroke-width="1.4"/><line x1="393.78" y1="240.38" x2="407.78" y2="233.38" stroke="#6c3c1c" stroke-width="3.8"/><line x1="394.81" y1="239.08" x2="407.02" y2="232.98" stroke="#8c5630" stroke-width="1.4"/><line x1="405.8" y1="240.38" x2="419.8" y2="233.38" stroke="#6c3c1c" stroke-width="3.8"/><line x1="406.83" y1="239.08" x2="419.04" y2="232.98" stroke="#8c5630" stroke-width="1.4"/><line x1="45.2" y1="228.32" x2="58.9" y2="220.42" stroke="#8c0a8c" stroke-width="7.0"/><line x1="45.8" y1="226.36" x2="57.77" y2="219.46" stroke="#a824a8" stroke-width="2.8"/><line x1="57.22" y1="228.32" x2="70.92" y2="220.42" stroke="#8c0a8c" stroke-width="7.0"/><line x1="57.82" y1="226.36" x2="69.79" y2="219.46" stroke="#a824a8" stroke-width="2.8"/><line x1="69.24" y1="228.32" x2="82.94" y2="220.42" stroke="#8c0a8c" stroke-width="7.0"/><line x1="69.84" y1="226.36" x2="81.81" y2="219.46" stroke="#a824a8" stroke-width="2.8"/><line x1="81.26" y1="228.32" x2="94.96" y2="220.42" stroke="#8c0a8c" stroke-width="7.0"/><line x1="81.86" y1="226.36" x2="93.83" y2="219.46" stroke="#a824a8" stroke-width="2.8"/><line x1="93.28" y1="228.32" x2="106.98" y2="220.42" stroke="#8c0a8c" stroke-width="7.0"/><line x1="93.88" y1="226.36" x2="105.85" y2="219.46" stroke="#a824a8" stroke-width="2.8"/><line x1="105.3" y1="228.32" x2="119" y2="220.42" stroke="#8c0a8c" stroke-width="7.0"/><line x1="105.9" y1="226.36" x2="117.87" y2="219.46" stroke="#a824a8" stroke-width="2.8"/><line x1="117.32" y1="228.32" x2="131.02" y2="220.42" stroke="#8c0a8c" stroke-width="7.0"/><line x1="117.92" y1="226.36" x2="129.89" y2="219.46" stroke="#a824a8" stroke-width="2.8"/><line x1="129.34" y1="228.32" x2="143.04" y2="220.42" stroke="#8c0a8c" stroke-width="7.0"/><line x1="129.94" y1="226.36" x2="141.91" y2="219.46" stroke="#a824a8" stroke-width="2.8"/><line x1="141.36" y1="228.32" x2="155.06" y2="220.42" stroke="#8c0a8c" stroke-width="7.0"/><line x1="141.96" y1="226.36" x2="153.93" y2="219.46" stroke="#a824a8" stroke-width="2.8"/><line x1="153.38" y1="228.32" x2="167.08" y2="220.42" stroke="#8c0a8c" stroke-width="7.0"/><line x1="153.98" y1="226.36" x2="165.95" y2="219.46" stroke="#a824a8" stroke-width="2.8"/><line x1="165.4" y1="228.32" x2="179.1" y2="220.42" stroke="#8c0a8c" stroke-width="7.0"/><line x1="166" y1="226.36" x2="177.97" y2="219.46" stroke="#a824a8" stroke-width="2.8"/><line x1="177.42" y1="228.32" x2="191.12" y2="220.42" stroke="#8c0a8c" stroke-width="7.0"/><line x1="178.02" y1="226.36" x2="189.99" y2="219.46" stroke="#a824a8" stroke-width="2.8"/><line x1="189.44" y1="228.32" x2="203.14" y2="220.42" stroke="#8c0a8c" stroke-width="7.0"/><line x1="190.04" y1="226.36" x2="202.01" y2="219.46" stroke="#a824a8" stroke-width="2.8"/><line x1="201.46" y1="228.32" x2="215.16" y2="220.42" stroke="#8c0a8c" stroke-width="7.0"/><line x1="202.06" y1="226.36" x2="214.03" y2="219.46" stroke="#a824a8" stroke-width="2.8"/><line x1="213.48" y1="228.32" x2="227.18" y2="220.42" stroke="#8c0a8c" stroke-width="7.0"/><line x1="214.08" y1="226.36" x2="226.05" y2="219.46" stroke="#a824a8" stroke-width="2.8"/><line x1="225.5" y1="228.32" x2="239.2" y2="220.42" stroke="#8c0a8c" stroke-width="7.0"/><line x1="226.1" y1="226.36" x2="238.07" y2="219.46" stroke="#a824a8" stroke-width="2.8"/><line x1="237.52" y1="228.32" x2="251.22" y2="220.42" stroke="#8c0a8c" stroke-width="7.0"/><line x1="238.12" y1="226.36" x2="250.09" y2="219.46" stroke="#a824a8" stroke-width="2.8"/><line x1="249.54" y1="228.32" x2="263.24" y2="220.42" stroke="#8c0a8c" stroke-width="7.0"/><line x1="250.14" y1="226.36" x2="262.11" y2="219.46" stroke="#a824a8" stroke-width="2.8"/><line x1="261.56" y1="228.32" x2="275.26" y2="220.42" stroke="#8c0a8c" stroke-width="7.0"/><line x1="262.16" y1="226.36" x2="274.13" y2="219.46" stroke="#a824a8" stroke-width="2.8"/><line x1="273.58" y1="228.32" x2="287.28" y2="220.42" stroke="#8c0a8c" stroke-width="7.0"/><line x1="274.18" y1="226.36" x2="286.15" y2="219.46" stroke="#a824a8" stroke-width="2.8"/><line x1="285.6" y1="228.32" x2="299.3" y2="220.42" stroke="#8c0a8c" stroke-width="7.0"/><line x1="286.2" y1="226.36" x2="298.17" y2="219.46" stroke="#a824a8" stroke-width="2.8"/><line x1="297.62" y1="228.32" x2="311.32" y2="220.42" stroke="#8c0a8c" stroke-width="7.0"/><line x1="298.22" y1="226.36" x2="310.19" y2="219.46" stroke="#a824a8" stroke-width="2.8"/><line x1="309.64" y1="228.32" x2="323.34" y2="220.42" stroke="#8c0a8c" stroke-width="7.0"/><line x1="310.24" y1="226.36" x2="322.21" y2="219.46" stroke="#a824a8" stroke-width="2.8"/><line x1="321.66" y1="228.32" x2="335.36" y2="220.42" stroke="#8c0a8c" stroke-width="7.0"/><line x1="322.26" y1="226.36" x2="334.23" y2="219.46" stroke="#a824a8" stroke-width="2.8"/><line x1="333.68" y1="228.32" x2="347.38" y2="220.42" stroke="#8c0a8c" stroke-width="7.0"/><line x1="334.28" y1="226.36" x2="346.25" y2="219.46" stroke="#a824a8" stroke-width="2.8"/><line x1="345.7" y1="228.32" x2="359.4" y2="220.42" stroke="#8c0a8c" stroke-width="7.0"/><line x1="346.3" y1="226.36" x2="358.27" y2="219.46" stroke="#a824a8" stroke-width="2.8"/><line x1="357.72" y1="228.32" x2="371.42" y2="220.42" stroke="#8c0a8c" stroke-width="7.0"/><line x1="358.32" y1="226.36" x2="370.29" y2="219.46" stroke="#a824a8" stroke-width="2.8"/><line x1="369.74" y1="228.32" x2="383.44" y2="220.42" stroke="#8c0a8c" stroke-width="7.0"/><line x1="370.34" y1="226.36" x2="382.31" y2="219.46" stroke="#a824a8" stroke-width="2.8"/><line x1="381.76" y1="228.32" x2="395.46" y2="220.42" stroke="#8c0a8c" stroke-width="7.0"/><line x1="382.36" y1="226.36" x2="394.33" y2="219.46" stroke="#a824a8" stroke-width="2.8"/><line x1="393.78" y1="228.32" x2="407.48" y2="220.42" stroke="#8c0a8c" stroke-width="7.0"/><line x1="394.38" y1="226.36" x2="406.35" y2="219.46" stroke="#a824a8" stroke-width="2.8"/><line x1="405.8" y1="228.32" x2="419.5" y2="220.42" stroke="#8c0a8c" stroke-width="7.0"/><line x1="406.4" y1="226.36" x2="418.37" y2="219.46" stroke="#a824a8" stroke-width="2.8"/><line x1="45.2" y1="216.26" x2="59.2" y2="209.26" stroke="#6c3c1c" stroke-width="3.8"/><line x1="46.23" y1="214.96" x2="58.44" y2="208.86" stroke="#8c5630" stroke-width="1.4"/><line x1="57.22" y1="216.26" x2="71.22" y2="209.26" stroke="#6c3c1c" stroke-width="3.8"/><line x1="58.25" y1="214.96" x2="70.46" y2="208.86" stroke="#8c5630" stroke-width="1.4"/><line x1="69.24" y1="216.26" x2="83.24" y2="209.26" stroke="#6c3c1c" stroke-width="3.8"/><line x1="70.27" y1="214.96" x2="82.48" y2="208.86" stroke="#8c5630" stroke-width="1.4"/><line x1="81.26" y1="216.26" x2="95.26" y2="209.26" stroke="#6c3c1c" stroke-width="3.8"/><line x1="82.29" y1="214.96" x2="94.5" y2="208.86" stroke="#8c5630" stroke-width="1.4"/><line x1="93.28" y1="216.26" x2="107.28" y2="209.26" stroke="#6c3c1c" stroke-width="3.8"/><line x1="94.31" y1="214.96" x2="106.52" y2="208.86" stroke="#8c5630" stroke-width="1.4"/><line x1="105.3" y1="216.26" x2="119.3" y2="209.26" stroke="#6c3c1c" stroke-width="3.8"/><line x1="106.33" y1="214.96" x2="118.54" y2="208.86" stroke="#8c5630" stroke-width="1.4"/><line x1="117.32" y1="216.26" x2="131.32" y2="209.26" stroke="#6c3c1c" stroke-width="3.8"/><line x1="118.35" y1="214.96" x2="130.56" y2="208.86" stroke="#8c5630" stroke-width="1.4"/><line x1="129.34" y1="216.26" x2="143.34" y2="209.26" stroke="#6c3c1c" stroke-width="3.8"/><line x1="130.37" y1="214.96" x2="142.58" y2="208.86" stroke="#8c5630" stroke-width="1.4"/><line x1="141.36" y1="216.26" x2="155.36" y2="209.26" stroke="#6c3c1c" stroke-width="3.8"/><line x1="142.39" y1="214.96" x2="154.6" y2="208.86" stroke="#8c5630" stroke-width="1.4"/><line x1="153.38" y1="216.26" x2="167.38" y2="209.26" stroke="#6c3c1c" stroke-width="3.8"/><line x1="154.41" y1="214.96" x2="166.62" y2="208.86" stroke="#8c5630" stroke-width="1.4"/><line x1="165.4" y1="216.26" x2="179.4" y2="209.26" stroke="#6c3c1c" stroke-width="3.8"/><line x1="166.43" y1="214.96" x2="178.64" y2="208.86" stroke="#8c5630" stroke-width="1.4"/><line x1="177.42" y1="216.26" x2="191.42" y2="209.26" stroke="#6c3c1c" stroke-width="3.8"/><line x1="178.45" y1="214.96" x2="190.66" y2="208.86" stroke="#8c5630" stroke-width="1.4"/><line x1="189.44" y1="216.26" x2="203.44" y2="209.26" stroke="#6c3c1c" stroke-width="3.8"/><line x1="190.47" y1="214.96" x2="202.68" y2="208.86" stroke="#8c5630" stroke-width="1.4"/><line x1="201.46" y1="216.26" x2="215.46" y2="209.26" stroke="#6c3c1c" stroke-width="3.8"/><line x1="202.49" y1="214.96" x2="214.7" y2="208.86" stroke="#8c5630" stroke-width="1.4"/><line x1="213.48" y1="216.26" x2="227.48" y2="209.26" stroke="#6c3c1c" stroke-width="3.8"/><line x1="214.51" y1="214.96" x2="226.72" y2="208.86" stroke="#8c5630" stroke-width="1.4"/><line x1="225.5" y1="216.26" x2="239.5" y2="209.26" stroke="#6c3c1c" stroke-width="3.8"/><line x1="226.53" y1="214.96" x2="238.74" y2="208.86" stroke="#8c5630" stroke-width="1.4"/><line x1="237.52" y1="216.26" x2="251.52" y2="209.26" stroke="#6c3c1c" stroke-width="3.8"/><line x1="238.55" y1="214.96" x2="250.76" y2="208.86" stroke="#8c5630" stroke-width="1.4"/><line x1="249.54" y1="216.26" x2="263.54" y2="209.26" stroke="#6c3c1c" stroke-width="3.8"/><line x1="250.57" y1="214.96" x2="262.78" y2="208.86" stroke="#8c5630" stroke-width="1.4"/><line x1="261.56" y1="216.26" x2="275.56" y2="209.26" stroke="#6c3c1c" stroke-width="3.8"/><line x1="262.59" y1="214.96" x2="274.8" y2="208.86" stroke="#8c5630" stroke-width="1.4"/><line x1="273.58" y1="216.26" x2="287.58" y2="209.26" stroke="#6c3c1c" stroke-width="3.8"/><line x1="274.61" y1="214.96" x2="286.82" y2="208.86" stroke="#8c5630" stroke-width="1.4"/><line x1="285.6" y1="216.26" x2="299.6" y2="209.26" stroke="#6c3c1c" stroke-width="3.8"/><line x1="286.63" y1="214.96" x2="298.84" y2="208.86" stroke="#8c5630" stroke-width="1.4"/><line x1="297.62" y1="216.26" x2="311.62" y2="209.26" stroke="#6c3c1c" stroke-width="3.8"/><line x1="298.65" y1="214.96" x2="310.86" y2="208.86" stroke="#8c5630" stroke-width="1.4"/><line x1="309.64" y1="216.26" x2="323.64" y2="209.26" stroke="#6c3c1c" stroke-width="3.8"/><line x1="310.67" y1="214.96" x2="322.88" y2="208.86" stroke="#8c5630" stroke-width="1.4"/><line x1="321.66" y1="216.26" x2="335.66" y2="209.26" stroke="#6c3c1c" stroke-width="3.8"/><line x1="322.69" y1="214.96" x2="334.9" y2="208.86" stroke="#8c5630" stroke-width="1.4"/><line x1="333.68" y1="216.26" x2="347.68" y2="209.26" stroke="#6c3c1c" stroke-width="3.8"/><line x1="334.71" y1="214.96" x2="346.92" y2="208.86" stroke="#8c5630" stroke-width="1.4"/><line x1="345.7" y1="216.26" x2="359.7" y2="209.26" stroke="#6c3c1c" stroke-width="3.8"/><line x1="346.73" y1="214.96" x2="358.94" y2="208.86" stroke="#8c5630" stroke-width="1.4"/><line x1="357.72" y1="216.26" x2="371.72" y2="209.26" stroke="#6c3c1c" stroke-width="3.8"/><line x1="358.75" y1="214.96" x2="370.96" y2="208.86" stroke="#8c5630" stroke-width="1.4"/><line x1="369.74" y1="216.26" x2="383.74" y2="209.26" stroke="#6c3c1c" stroke-width="3.8"/><line x1="370.77" y1="214.96" x2="382.98" y2="208.86" stroke="#8c5630" stroke-width="1.4"/><line x1="381.76" y1="216.26" x2="395.76" y2="209.26" stroke="#6c3c1c" stroke-width="3.8"/><line x1="382.79" y1="214.96" x2="395" y2="208.86" stroke="#8c5630" stroke-width="1.4"/><line x1="393.78" y1="216.26" x2="407.78" y2="209.26" stroke="#6c3c1c" stroke-width="3.8"/><line x1="394.81" y1="214.96" x2="407.02" y2="208.86" stroke="#8c5630" stroke-width="1.4"/><line x1="405.8" y1="216.26" x2="419.8" y2="209.26" stroke="#6c3c1c" stroke-width="3.8"/><line x1="406.83" y1="214.96" x2="419.04" y2="208.86" stroke="#8c5630" stroke-width="1.4"/><line x1="45.2" y1="204.2" x2="58.9" y2="196.3" stroke="#2e4ab8" stroke-width="5.8"/><line x1="45.9" y1="202.41" x2="57.87" y2="195.51" stroke="#5c7ade" stroke-width="2.4"/><line x1="57.22" y1="204.2" x2="70.92" y2="196.3" stroke="#2e4ab8" stroke-width="5.8"/><line x1="57.92" y1="202.41" x2="69.89" y2="195.51" stroke="#5c7ade" stroke-width="2.4"/><line x1="69.24" y1="204.2" x2="82.94" y2="196.3" stroke="#2e4ab8" stroke-width="5.8"/><line x1="69.94" y1="202.41" x2="81.91" y2="195.51" stroke="#5c7ade" stroke-width="2.4"/><line x1="81.26" y1="204.2" x2="94.96" y2="196.3" stroke="#2e4ab8" stroke-width="5.8"/><line x1="81.96" y1="202.41" x2="93.93" y2="195.51" stroke="#5c7ade" stroke-width="2.4"/><line x1="93.28" y1="204.2" x2="106.98" y2="196.3" stroke="#2e4ab8" stroke-width="5.8"/><line x1="93.98" y1="202.41" x2="105.95" y2="195.51" stroke="#5c7ade" stroke-width="2.4"/><line x1="105.3" y1="204.2" x2="119" y2="196.3" stroke="#2e4ab8" stroke-width="5.8"/><line x1="106" y1="202.41" x2="117.97" y2="195.51" stroke="#5c7ade" stroke-width="2.4"/><line x1="117.32" y1="204.2" x2="131.02" y2="196.3" stroke="#2e4ab8" stroke-width="5.8"/><line x1="118.02" y1="202.41" x2="129.99" y2="195.51" stroke="#5c7ade" stroke-width="2.4"/><line x1="129.34" y1="204.2" x2="143.04" y2="196.3" stroke="#2e4ab8" stroke-width="5.8"/><line x1="130.04" y1="202.41" x2="142.01" y2="195.51" stroke="#5c7ade" stroke-width="2.4"/><line x1="141.36" y1="204.2" x2="155.06" y2="196.3" stroke="#2e4ab8" stroke-width="5.8"/><line x1="142.06" y1="202.41" x2="154.03" y2="195.51" stroke="#5c7ade" stroke-width="2.4"/><line x1="153.38" y1="204.2" x2="167.08" y2="196.3" stroke="#2e4ab8" stroke-width="5.8"/><line x1="154.08" y1="202.41" x2="166.05" y2="195.51" stroke="#5c7ade" stroke-width="2.4"/><line x1="165.4" y1="204.2" x2="179.1" y2="196.3" stroke="#2e4ab8" stroke-width="5.8"/><line x1="166.1" y1="202.41" x2="178.07" y2="195.51" stroke="#5c7ade" stroke-width="2.4"/><line x1="177.42" y1="204.2" x2="191.12" y2="196.3" stroke="#2e4ab8" stroke-width="5.8"/><line x1="178.12" y1="202.41" x2="190.09" y2="195.51" stroke="#5c7ade" stroke-width="2.4"/><line x1="189.44" y1="204.2" x2="203.14" y2="196.3" stroke="#2e4ab8" stroke-width="5.8"/><line x1="190.14" y1="202.41" x2="202.11" y2="195.51" stroke="#5c7ade" stroke-width="2.4"/><line x1="201.46" y1="204.2" x2="215.16" y2="196.3" stroke="#2e4ab8" stroke-width="5.8"/><line x1="202.16" y1="202.41" x2="214.13" y2="195.51" stroke="#5c7ade" stroke-width="2.4"/><line x1="213.48" y1="204.2" x2="227.18" y2="196.3" stroke="#2e4ab8" stroke-width="5.8"/><line x1="214.18" y1="202.41" x2="226.15" y2="195.51" stroke="#5c7ade" stroke-width="2.4"/><line x1="225.5" y1="204.2" x2="239.2" y2="196.3" stroke="#2e4ab8" stroke-width="5.8"/><line x1="226.2" y1="202.41" x2="238.17" y2="195.51" stroke="#5c7ade" stroke-width="2.4"/><line x1="237.52" y1="204.2" x2="251.22" y2="196.3" stroke="#2e4ab8" stroke-width="5.8"/><line x1="238.22" y1="202.41" x2="250.19" y2="195.51" stroke="#5c7ade" stroke-width="2.4"/><line x1="249.54" y1="204.2" x2="263.24" y2="196.3" stroke="#2e4ab8" stroke-width="5.8"/><line x1="250.24" y1="202.41" x2="262.21" y2="195.51" stroke="#5c7ade" stroke-width="2.4"/><line x1="261.56" y1="204.2" x2="275.26" y2="196.3" stroke="#2e4ab8" stroke-width="5.8"/><line x1="262.26" y1="202.41" x2="274.23" y2="195.51" stroke="#5c7ade" stroke-width="2.4"/><line x1="273.58" y1="204.2" x2="287.28" y2="196.3" stroke="#2e4ab8" stroke-width="5.8"/><line x1="274.28" y1="202.41" x2="286.25" y2="195.51" stroke="#5c7ade" stroke-width="2.4"/><line x1="285.6" y1="204.2" x2="299.3" y2="196.3" stroke="#2e4ab8" stroke-width="5.8"/><line x1="286.3" y1="202.41" x2="298.27" y2="195.51" stroke="#5c7ade" stroke-width="2.4"/><line x1="297.62" y1="204.2" x2="311.32" y2="196.3" stroke="#2e4ab8" stroke-width="5.8"/><line x1="298.32" y1="202.41" x2="310.29" y2="195.51" stroke="#5c7ade" stroke-width="2.4"/><line x1="309.64" y1="204.2" x2="323.34" y2="196.3" stroke="#2e4ab8" stroke-width="5.8"/><line x1="310.34" y1="202.41" x2="322.31" y2="195.51" stroke="#5c7ade" stroke-width="2.4"/><line x1="321.66" y1="204.2" x2="335.36" y2="196.3" stroke="#2e4ab8" stroke-width="5.8"/><line x1="322.36" y1="202.41" x2="334.33" y2="195.51" stroke="#5c7ade" stroke-width="2.4"/><line x1="333.68" y1="204.2" x2="347.38" y2="196.3" stroke="#2e4ab8" stroke-width="5.8"/><line x1="334.38" y1="202.41" x2="346.35" y2="195.51" stroke="#5c7ade" stroke-width="2.4"/><line x1="345.7" y1="204.2" x2="359.4" y2="196.3" stroke="#2e4ab8" stroke-width="5.8"/><line x1="346.4" y1="202.41" x2="358.37" y2="195.51" stroke="#5c7ade" stroke-width="2.4"/><line x1="357.72" y1="204.2" x2="371.42" y2="196.3" stroke="#2e4ab8" stroke-width="5.8"/><line x1="358.42" y1="202.41" x2="370.39" y2="195.51" stroke="#5c7ade" stroke-width="2.4"/><line x1="369.74" y1="204.2" x2="383.44" y2="196.3" stroke="#2e4ab8" stroke-width="5.8"/><line x1="370.44" y1="202.41" x2="382.41" y2="195.51" stroke="#5c7ade" stroke-width="2.4"/><line x1="381.76" y1="204.2" x2="395.46" y2="196.3" stroke="#2e4ab8" stroke-width="5.8"/><line x1="382.46" y1="202.41" x2="394.43" y2="195.51" stroke="#5c7ade" stroke-width="2.4"/><line x1="393.78" y1="204.2" x2="407.48" y2="196.3" stroke="#2e4ab8" stroke-width="5.8"/><line x1="394.48" y1="202.41" x2="406.45" y2="195.51" stroke="#5c7ade" stroke-width="2.4"/><line x1="405.8" y1="204.2" x2="419.5" y2="196.3" stroke="#2e4ab8" stroke-width="5.8"/><line x1="406.5" y1="202.41" x2="418.47" y2="195.51" stroke="#5c7ade" stroke-width="2.4"/><line x1="45.2" y1="192.14" x2="58.9" y2="184.24" stroke="#a2a29c" stroke-width="6.8"/><line x1="45.8" y1="190.18" x2="57.77" y2="183.28" stroke="#bebeb8" stroke-width="2.6"/><line x1="57.22" y1="192.14" x2="70.92" y2="184.24" stroke="#8c0a8c" stroke-width="7.0"/><line x1="57.82" y1="190.18" x2="69.79" y2="183.28" stroke="#a824a8" stroke-width="2.8"/><line x1="69.24" y1="192.14" x2="82.94" y2="184.24" stroke="#a2a29c" stroke-width="6.8"/><line x1="69.84" y1="190.18" x2="81.81" y2="183.28" stroke="#bebeb8" stroke-width="2.6"/><line x1="81.26" y1="192.14" x2="94.96" y2="184.24" stroke="#8c0a8c" stroke-width="7.0"/><line x1="81.86" y1="190.18" x2="93.83" y2="183.28" stroke="#a824a8" stroke-width="2.8"/><line x1="93.28" y1="192.14" x2="106.98" y2="184.24" stroke="#a2a29c" stroke-width="6.8"/><line x1="93.88" y1="190.18" x2="105.85" y2="183.28" stroke="#bebeb8" stroke-width="2.6"/><line x1="105.3" y1="192.14" x2="119" y2="184.24" stroke="#8c0a8c" stroke-width="7.0"/><line x1="105.9" y1="190.18" x2="117.87" y2="183.28" stroke="#a824a8" stroke-width="2.8"/><line x1="117.32" y1="192.14" x2="131.02" y2="184.24" stroke="#a2a29c" stroke-width="6.8"/><line x1="117.92" y1="190.18" x2="129.89" y2="183.28" stroke="#bebeb8" stroke-width="2.6"/><line x1="129.34" y1="192.14" x2="143.04" y2="184.24" stroke="#8c0a8c" stroke-width="7.0"/><line x1="129.94" y1="190.18" x2="141.91" y2="183.28" stroke="#a824a8" stroke-width="2.8"/><line x1="141.36" y1="192.14" x2="155.06" y2="184.24" stroke="#a2a29c" stroke-width="6.8"/><line x1="141.96" y1="190.18" x2="153.93" y2="183.28" stroke="#bebeb8" stroke-width="2.6"/><line x1="153.38" y1="192.14" x2="167.08" y2="184.24" stroke="#8c0a8c" stroke-width="7.0"/><line x1="153.98" y1="190.18" x2="165.95" y2="183.28" stroke="#a824a8" stroke-width="2.8"/><line x1="165.4" y1="192.14" x2="179.1" y2="184.24" stroke="#a2a29c" stroke-width="6.8"/><line x1="166" y1="190.18" x2="177.97" y2="183.28" stroke="#bebeb8" stroke-width="2.6"/><line x1="177.42" y1="192.14" x2="191.12" y2="184.24" stroke="#8c0a8c" stroke-width="7.0"/><line x1="178.02" y1="190.18" x2="189.99" y2="183.28" stroke="#a824a8" stroke-width="2.8"/><line x1="189.44" y1="192.14" x2="203.14" y2="184.24" stroke="#a2a29c" stroke-width="6.8"/><line x1="190.04" y1="190.18" x2="202.01" y2="183.28" stroke="#bebeb8" stroke-width="2.6"/><line x1="201.46" y1="192.14" x2="215.16" y2="184.24" stroke="#8c0a8c" stroke-width="7.0"/><line x1="202.06" y1="190.18" x2="214.03" y2="183.28" stroke="#a824a8" stroke-width="2.8"/><line x1="213.48" y1="192.14" x2="227.18" y2="184.24" stroke="#a2a29c" stroke-width="6.8"/><line x1="214.08" y1="190.18" x2="226.05" y2="183.28" stroke="#bebeb8" stroke-width="2.6"/><line x1="225.5" y1="192.14" x2="239.2" y2="184.24" stroke="#8c0a8c" stroke-width="7.0"/><line x1="226.1" y1="190.18" x2="238.07" y2="183.28" stroke="#a824a8" stroke-width="2.8"/><line x1="237.52" y1="192.14" x2="251.22" y2="184.24" stroke="#a2a29c" stroke-width="6.8"/><line x1="238.12" y1="190.18" x2="250.09" y2="183.28" stroke="#bebeb8" stroke-width="2.6"/><line x1="249.54" y1="192.14" x2="263.24" y2="184.24" stroke="#8c0a8c" stroke-width="7.0"/><line x1="250.14" y1="190.18" x2="262.11" y2="183.28" stroke="#a824a8" stroke-width="2.8"/><line x1="261.56" y1="192.14" x2="275.26" y2="184.24" stroke="#a2a29c" stroke-width="6.8"/><line x1="262.16" y1="190.18" x2="274.13" y2="183.28" stroke="#bebeb8" stroke-width="2.6"/><line x1="273.58" y1="192.14" x2="287.28" y2="184.24" stroke="#8c0a8c" stroke-width="7.0"/><line x1="274.18" y1="190.18" x2="286.15" y2="183.28" stroke="#a824a8" stroke-width="2.8"/><line x1="285.6" y1="192.14" x2="299.3" y2="184.24" stroke="#a2a29c" stroke-width="6.8"/><line x1="286.2" y1="190.18" x2="298.17" y2="183.28" stroke="#bebeb8" stroke-width="2.6"/><line x1="297.62" y1="192.14" x2="311.32" y2="184.24" stroke="#8c0a8c" stroke-width="7.0"/><line x1="298.22" y1="190.18" x2="310.19" y2="183.28" stroke="#a824a8" stroke-width="2.8"/><line x1="309.64" y1="192.14" x2="323.34" y2="184.24" stroke="#a2a29c" stroke-width="6.8"/><line x1="310.24" y1="190.18" x2="322.21" y2="183.28" stroke="#bebeb8" stroke-width="2.6"/><line x1="321.66" y1="192.14" x2="335.36" y2="184.24" stroke="#8c0a8c" stroke-width="7.0"/><line x1="322.26" y1="190.18" x2="334.23" y2="183.28" stroke="#a824a8" stroke-width="2.8"/><line x1="333.68" y1="192.14" x2="347.38" y2="184.24" stroke="#a2a29c" stroke-width="6.8"/><line x1="334.28" y1="190.18" x2="346.25" y2="183.28" stroke="#bebeb8" stroke-width="2.6"/><line x1="345.7" y1="192.14" x2="359.4" y2="184.24" stroke="#8c0a8c" stroke-width="7.0"/><line x1="346.3" y1="190.18" x2="358.27" y2="183.28" stroke="#a824a8" stroke-width="2.8"/><line x1="357.72" y1="192.14" x2="371.42" y2="184.24" stroke="#a2a29c" stroke-width="6.8"/><line x1="358.32" y1="190.18" x2="370.29" y2="183.28" stroke="#bebeb8" stroke-width="2.6"/><line x1="369.74" y1="192.14" x2="383.44" y2="184.24" stroke="#8c0a8c" stroke-width="7.0"/><line x1="370.34" y1="190.18" x2="382.31" y2="183.28" stroke="#a824a8" stroke-width="2.8"/><line x1="381.76" y1="192.14" x2="395.46" y2="184.24" stroke="#a2a29c" stroke-width="6.8"/><line x1="382.36" y1="190.18" x2="394.33" y2="183.28" stroke="#bebeb8" stroke-width="2.6"/><line x1="393.78" y1="192.14" x2="407.48" y2="184.24" stroke="#8c0a8c" stroke-width="7.0"/><line x1="394.38" y1="190.18" x2="406.35" y2="183.28" stroke="#a824a8" stroke-width="2.8"/><line x1="405.8" y1="192.14" x2="419.5" y2="184.24" stroke="#a2a29c" stroke-width="6.8"/><line x1="406.4" y1="190.18" x2="418.37" y2="183.28" stroke="#bebeb8" stroke-width="2.6"/><line x1="45.2" y1="180.08" x2="58.9" y2="172.18" stroke="#8c0a8c" stroke-width="7.0"/><line x1="45.8" y1="178.12" x2="57.77" y2="171.22" stroke="#a824a8" stroke-width="2.8"/><line x1="57.22" y1="180.08" x2="70.92" y2="172.18" stroke="#8c0a8c" stroke-width="7.0"/><line x1="57.82" y1="178.12" x2="69.79" y2="171.22" stroke="#a824a8" stroke-width="2.8"/><line x1="69.24" y1="180.08" x2="82.94" y2="172.18" stroke="#8c0a8c" stroke-width="7.0"/><line x1="69.84" y1="178.12" x2="81.81" y2="171.22" stroke="#a824a8" stroke-width="2.8"/><line x1="81.26" y1="180.08" x2="94.96" y2="172.18" stroke="#8c0a8c" stroke-width="7.0"/><line x1="81.86" y1="178.12" x2="93.83" y2="171.22" stroke="#a824a8" stroke-width="2.8"/><line x1="93.28" y1="180.08" x2="106.98" y2="172.18" stroke="#8c0a8c" stroke-width="7.0"/><line x1="93.88" y1="178.12" x2="105.85" y2="171.22" stroke="#a824a8" stroke-width="2.8"/><line x1="105.3" y1="180.08" x2="119" y2="172.18" stroke="#8c0a8c" stroke-width="7.0"/><line x1="105.9" y1="178.12" x2="117.87" y2="171.22" stroke="#a824a8" stroke-width="2.8"/><line x1="117.32" y1="180.08" x2="131.02" y2="172.18" stroke="#8c0a8c" stroke-width="7.0"/><line x1="117.92" y1="178.12" x2="129.89" y2="171.22" stroke="#a824a8" stroke-width="2.8"/><line x1="129.34" y1="180.08" x2="143.04" y2="172.18" stroke="#8c0a8c" stroke-width="7.0"/><line x1="129.94" y1="178.12" x2="141.91" y2="171.22" stroke="#a824a8" stroke-width="2.8"/><line x1="141.36" y1="180.08" x2="155.06" y2="172.18" stroke="#8c0a8c" stroke-width="7.0"/><line x1="141.96" y1="178.12" x2="153.93" y2="171.22" stroke="#a824a8" stroke-width="2.8"/><line x1="153.38" y1="180.08" x2="167.08" y2="172.18" stroke="#8c0a8c" stroke-width="7.0"/><line x1="153.98" y1="178.12" x2="165.95" y2="171.22" stroke="#a824a8" stroke-width="2.8"/><line x1="165.4" y1="180.08" x2="179.1" y2="172.18" stroke="#8c0a8c" stroke-width="7.0"/><line x1="166" y1="178.12" x2="177.97" y2="171.22" stroke="#a824a8" stroke-width="2.8"/><line x1="177.42" y1="180.08" x2="191.12" y2="172.18" stroke="#8c0a8c" stroke-width="7.0"/><line x1="178.02" y1="178.12" x2="189.99" y2="171.22" stroke="#a824a8" stroke-width="2.8"/><line x1="189.44" y1="180.08" x2="203.14" y2="172.18" stroke="#8c0a8c" stroke-width="7.0"/><line x1="190.04" y1="178.12" x2="202.01" y2="171.22" stroke="#a824a8" stroke-width="2.8"/><line x1="201.46" y1="180.08" x2="215.16" y2="172.18" stroke="#8c0a8c" stroke-width="7.0"/><line x1="202.06" y1="178.12" x2="214.03" y2="171.22" stroke="#a824a8" stroke-width="2.8"/><line x1="213.48" y1="180.08" x2="227.18" y2="172.18" stroke="#8c0a8c" stroke-width="7.0"/><line x1="214.08" y1="178.12" x2="226.05" y2="171.22" stroke="#a824a8" stroke-width="2.8"/><line x1="225.5" y1="180.08" x2="239.2" y2="172.18" stroke="#8c0a8c" stroke-width="7.0"/><line x1="226.1" y1="178.12" x2="238.07" y2="171.22" stroke="#a824a8" stroke-width="2.8"/><line x1="237.52" y1="180.08" x2="251.22" y2="172.18" stroke="#8c0a8c" stroke-width="7.0"/><line x1="238.12" y1="178.12" x2="250.09" y2="171.22" stroke="#a824a8" stroke-width="2.8"/><line x1="249.54" y1="180.08" x2="263.24" y2="172.18" stroke="#8c0a8c" stroke-width="7.0"/><line x1="250.14" y1="178.12" x2="262.11" y2="171.22" stroke="#a824a8" stroke-width="2.8"/><line x1="261.56" y1="180.08" x2="275.26" y2="172.18" stroke="#8c0a8c" stroke-width="7.0"/><line x1="262.16" y1="178.12" x2="274.13" y2="171.22" stroke="#a824a8" stroke-width="2.8"/><line x1="273.58" y1="180.08" x2="287.28" y2="172.18" stroke="#8c0a8c" stroke-width="7.0"/><line x1="274.18" y1="178.12" x2="286.15" y2="171.22" stroke="#a824a8" stroke-width="2.8"/><line x1="285.6" y1="180.08" x2="299.3" y2="172.18" stroke="#8c0a8c" stroke-width="7.0"/><line x1="286.2" y1="178.12" x2="298.17" y2="171.22" stroke="#a824a8" stroke-width="2.8"/><line x1="297.62" y1="180.08" x2="311.32" y2="172.18" stroke="#8c0a8c" stroke-width="7.0"/><line x1="298.22" y1="178.12" x2="310.19" y2="171.22" stroke="#a824a8" stroke-width="2.8"/><line x1="309.64" y1="180.08" x2="323.34" y2="172.18" stroke="#8c0a8c" stroke-width="7.0"/><line x1="310.24" y1="178.12" x2="322.21" y2="171.22" stroke="#a824a8" stroke-width="2.8"/><line x1="321.66" y1="180.08" x2="335.36" y2="172.18" stroke="#8c0a8c" stroke-width="7.0"/><line x1="322.26" y1="178.12" x2="334.23" y2="171.22" stroke="#a824a8" stroke-width="2.8"/><line x1="333.68" y1="180.08" x2="347.38" y2="172.18" stroke="#8c0a8c" stroke-width="7.0"/><line x1="334.28" y1="178.12" x2="346.25" y2="171.22" stroke="#a824a8" stroke-width="2.8"/><line x1="345.7" y1="180.08" x2="359.4" y2="172.18" stroke="#8c0a8c" stroke-width="7.0"/><line x1="346.3" y1="178.12" x2="358.27" y2="171.22" stroke="#a824a8" stroke-width="2.8"/><line x1="357.72" y1="180.08" x2="371.42" y2="172.18" stroke="#8c0a8c" stroke-width="7.0"/><line x1="358.32" y1="178.12" x2="370.29" y2="171.22" stroke="#a824a8" stroke-width="2.8"/><line x1="369.74" y1="180.08" x2="383.44" y2="172.18" stroke="#8c0a8c" stroke-width="7.0"/><line x1="370.34" y1="178.12" x2="382.31" y2="171.22" stroke="#a824a8" stroke-width="2.8"/><line x1="381.76" y1="180.08" x2="395.46" y2="172.18" stroke="#8c0a8c" stroke-width="7.0"/><line x1="382.36" y1="178.12" x2="394.33" y2="171.22" stroke="#a824a8" stroke-width="2.8"/><line x1="393.78" y1="180.08" x2="407.48" y2="172.18" stroke="#8c0a8c" stroke-width="7.0"/><line x1="394.38" y1="178.12" x2="406.35" y2="171.22" stroke="#a824a8" stroke-width="2.8"/><line x1="405.8" y1="180.08" x2="419.5" y2="172.18" stroke="#8c0a8c" stroke-width="7.0"/><line x1="406.4" y1="178.12" x2="418.37" y2="171.22" stroke="#a824a8" stroke-width="2.8"/><line x1="45.2" y1="168.02" x2="58.9" y2="160.12" stroke="#a2a29c" stroke-width="6.8"/><line x1="45.8" y1="166.06" x2="57.77" y2="159.16" stroke="#bebeb8" stroke-width="2.6"/><line x1="57.22" y1="168.02" x2="70.92" y2="160.12" stroke="#8c0a8c" stroke-width="7.0"/><line x1="57.82" y1="166.06" x2="69.79" y2="159.16" stroke="#a824a8" stroke-width="2.8"/><line x1="69.24" y1="168.02" x2="82.94" y2="160.12" stroke="#a2a29c" stroke-width="6.8"/><line x1="69.84" y1="166.06" x2="81.81" y2="159.16" stroke="#bebeb8" stroke-width="2.6"/><line x1="81.26" y1="168.02" x2="94.96" y2="160.12" stroke="#8c0a8c" stroke-width="7.0"/><line x1="81.86" y1="166.06" x2="93.83" y2="159.16" stroke="#a824a8" stroke-width="2.8"/><line x1="93.28" y1="168.02" x2="106.98" y2="160.12" stroke="#a2a29c" stroke-width="6.8"/><line x1="93.88" y1="166.06" x2="105.85" y2="159.16" stroke="#bebeb8" stroke-width="2.6"/><line x1="105.3" y1="168.02" x2="119" y2="160.12" stroke="#8c0a8c" stroke-width="7.0"/><line x1="105.9" y1="166.06" x2="117.87" y2="159.16" stroke="#a824a8" stroke-width="2.8"/><line x1="117.32" y1="168.02" x2="131.02" y2="160.12" stroke="#a2a29c" stroke-width="6.8"/><line x1="117.92" y1="166.06" x2="129.89" y2="159.16" stroke="#bebeb8" stroke-width="2.6"/><line x1="129.34" y1="168.02" x2="143.04" y2="160.12" stroke="#8c0a8c" stroke-width="7.0"/><line x1="129.94" y1="166.06" x2="141.91" y2="159.16" stroke="#a824a8" stroke-width="2.8"/><line x1="141.36" y1="168.02" x2="155.06" y2="160.12" stroke="#a2a29c" stroke-width="6.8"/><line x1="141.96" y1="166.06" x2="153.93" y2="159.16" stroke="#bebeb8" stroke-width="2.6"/><line x1="153.38" y1="168.02" x2="167.08" y2="160.12" stroke="#8c0a8c" stroke-width="7.0"/><line x1="153.98" y1="166.06" x2="165.95" y2="159.16" stroke="#a824a8" stroke-width="2.8"/><line x1="165.4" y1="168.02" x2="179.1" y2="160.12" stroke="#a2a29c" stroke-width="6.8"/><line x1="166" y1="166.06" x2="177.97" y2="159.16" stroke="#bebeb8" stroke-width="2.6"/><line x1="177.42" y1="168.02" x2="191.12" y2="160.12" stroke="#8c0a8c" stroke-width="7.0"/><line x1="178.02" y1="166.06" x2="189.99" y2="159.16" stroke="#a824a8" stroke-width="2.8"/><line x1="189.44" y1="168.02" x2="203.14" y2="160.12" stroke="#a2a29c" stroke-width="6.8"/><line x1="190.04" y1="166.06" x2="202.01" y2="159.16" stroke="#bebeb8" stroke-width="2.6"/><line x1="201.46" y1="168.02" x2="215.16" y2="160.12" stroke="#8c0a8c" stroke-width="7.0"/><line x1="202.06" y1="166.06" x2="214.03" y2="159.16" stroke="#a824a8" stroke-width="2.8"/><line x1="213.48" y1="168.02" x2="227.18" y2="160.12" stroke="#a2a29c" stroke-width="6.8"/><line x1="214.08" y1="166.06" x2="226.05" y2="159.16" stroke="#bebeb8" stroke-width="2.6"/><line x1="225.5" y1="168.02" x2="239.2" y2="160.12" stroke="#8c0a8c" stroke-width="7.0"/><line x1="226.1" y1="166.06" x2="238.07" y2="159.16" stroke="#a824a8" stroke-width="2.8"/><line x1="237.52" y1="168.02" x2="251.22" y2="160.12" stroke="#a2a29c" stroke-width="6.8"/><line x1="238.12" y1="166.06" x2="250.09" y2="159.16" stroke="#bebeb8" stroke-width="2.6"/><line x1="249.54" y1="168.02" x2="263.24" y2="160.12" stroke="#8c0a8c" stroke-width="7.0"/><line x1="250.14" y1="166.06" x2="262.11" y2="159.16" stroke="#a824a8" stroke-width="2.8"/><line x1="261.56" y1="168.02" x2="275.26" y2="160.12" stroke="#a2a29c" stroke-width="6.8"/><line x1="262.16" y1="166.06" x2="274.13" y2="159.16" stroke="#bebeb8" stroke-width="2.6"/><line x1="273.58" y1="168.02" x2="287.28" y2="160.12" stroke="#8c0a8c" stroke-width="7.0"/><line x1="274.18" y1="166.06" x2="286.15" y2="159.16" stroke="#a824a8" stroke-width="2.8"/><line x1="285.6" y1="168.02" x2="299.3" y2="160.12" stroke="#a2a29c" stroke-width="6.8"/><line x1="286.2" y1="166.06" x2="298.17" y2="159.16" stroke="#bebeb8" stroke-width="2.6"/><line x1="297.62" y1="168.02" x2="311.32" y2="160.12" stroke="#8c0a8c" stroke-width="7.0"/><line x1="298.22" y1="166.06" x2="310.19" y2="159.16" stroke="#a824a8" stroke-width="2.8"/><line x1="309.64" y1="168.02" x2="323.34" y2="160.12" stroke="#a2a29c" stroke-width="6.8"/><line x1="310.24" y1="166.06" x2="322.21" y2="159.16" stroke="#bebeb8" stroke-width="2.6"/><line x1="321.66" y1="168.02" x2="335.36" y2="160.12" stroke="#8c0a8c" stroke-width="7.0"/><line x1="322.26" y1="166.06" x2="334.23" y2="159.16" stroke="#a824a8" stroke-width="2.8"/><line x1="333.68" y1="168.02" x2="347.38" y2="160.12" stroke="#a2a29c" stroke-width="6.8"/><line x1="334.28" y1="166.06" x2="346.25" y2="159.16" stroke="#bebeb8" stroke-width="2.6"/><line x1="345.7" y1="168.02" x2="359.4" y2="160.12" stroke="#8c0a8c" stroke-width="7.0"/><line x1="346.3" y1="166.06" x2="358.27" y2="159.16" stroke="#a824a8" stroke-width="2.8"/><line x1="357.72" y1="168.02" x2="371.42" y2="160.12" stroke="#a2a29c" stroke-width="6.8"/><line x1="358.32" y1="166.06" x2="370.29" y2="159.16" stroke="#bebeb8" stroke-width="2.6"/><line x1="369.74" y1="168.02" x2="383.44" y2="160.12" stroke="#8c0a8c" stroke-width="7.0"/><line x1="370.34" y1="166.06" x2="382.31" y2="159.16" stroke="#a824a8" stroke-width="2.8"/><line x1="381.76" y1="168.02" x2="395.46" y2="160.12" stroke="#a2a29c" stroke-width="6.8"/><line x1="382.36" y1="166.06" x2="394.33" y2="159.16" stroke="#bebeb8" stroke-width="2.6"/><line x1="393.78" y1="168.02" x2="407.48" y2="160.12" stroke="#8c0a8c" stroke-width="7.0"/><line x1="394.38" y1="166.06" x2="406.35" y2="159.16" stroke="#a824a8" stroke-width="2.8"/><line x1="405.8" y1="168.02" x2="419.5" y2="160.12" stroke="#a2a29c" stroke-width="6.8"/><line x1="406.4" y1="166.06" x2="418.37" y2="159.16" stroke="#bebeb8" stroke-width="2.6"/><line x1="45.2" y1="155.96" x2="58.9" y2="148.06" stroke="#8c0a8c" stroke-width="7.0"/><line x1="45.8" y1="154" x2="57.77" y2="147.1" stroke="#a824a8" stroke-width="2.8"/><line x1="57.22" y1="155.96" x2="70.92" y2="148.06" stroke="#8c0a8c" stroke-width="7.0"/><line x1="57.82" y1="154" x2="69.79" y2="147.1" stroke="#a824a8" stroke-width="2.8"/><line x1="69.24" y1="155.96" x2="82.94" y2="148.06" stroke="#8c0a8c" stroke-width="7.0"/><line x1="69.84" y1="154" x2="81.81" y2="147.1" stroke="#a824a8" stroke-width="2.8"/><line x1="81.26" y1="155.96" x2="94.96" y2="148.06" stroke="#8c0a8c" stroke-width="7.0"/><line x1="81.86" y1="154" x2="93.83" y2="147.1" stroke="#a824a8" stroke-width="2.8"/><line x1="93.28" y1="155.96" x2="106.98" y2="148.06" stroke="#8c0a8c" stroke-width="7.0"/><line x1="93.88" y1="154" x2="105.85" y2="147.1" stroke="#a824a8" stroke-width="2.8"/><line x1="105.3" y1="155.96" x2="119" y2="148.06" stroke="#8c0a8c" stroke-width="7.0"/><line x1="105.9" y1="154" x2="117.87" y2="147.1" stroke="#a824a8" stroke-width="2.8"/><line x1="117.32" y1="155.96" x2="131.02" y2="148.06" stroke="#8c0a8c" stroke-width="7.0"/><line x1="117.92" y1="154" x2="129.89" y2="147.1" stroke="#a824a8" stroke-width="2.8"/><line x1="129.34" y1="155.96" x2="143.04" y2="148.06" stroke="#8c0a8c" stroke-width="7.0"/><line x1="129.94" y1="154" x2="141.91" y2="147.1" stroke="#a824a8" stroke-width="2.8"/><line x1="141.36" y1="155.96" x2="155.06" y2="148.06" stroke="#8c0a8c" stroke-width="7.0"/><line x1="141.96" y1="154" x2="153.93" y2="147.1" stroke="#a824a8" stroke-width="2.8"/><line x1="153.38" y1="155.96" x2="167.08" y2="148.06" stroke="#8c0a8c" stroke-width="7.0"/><line x1="153.98" y1="154" x2="165.95" y2="147.1" stroke="#a824a8" stroke-width="2.8"/><line x1="165.4" y1="155.96" x2="179.1" y2="148.06" stroke="#8c0a8c" stroke-width="7.0"/><line x1="166" y1="154" x2="177.97" y2="147.1" stroke="#a824a8" stroke-width="2.8"/><line x1="177.42" y1="155.96" x2="191.12" y2="148.06" stroke="#8c0a8c" stroke-width="7.0"/><line x1="178.02" y1="154" x2="189.99" y2="147.1" stroke="#a824a8" stroke-width="2.8"/><line x1="189.44" y1="155.96" x2="203.14" y2="148.06" stroke="#8c0a8c" stroke-width="7.0"/><line x1="190.04" y1="154" x2="202.01" y2="147.1" stroke="#a824a8" stroke-width="2.8"/><line x1="201.46" y1="155.96" x2="215.16" y2="148.06" stroke="#8c0a8c" stroke-width="7.0"/><line x1="202.06" y1="154" x2="214.03" y2="147.1" stroke="#a824a8" stroke-width="2.8"/><line x1="213.48" y1="155.96" x2="227.18" y2="148.06" stroke="#8c0a8c" stroke-width="7.0"/><line x1="214.08" y1="154" x2="226.05" y2="147.1" stroke="#a824a8" stroke-width="2.8"/><line x1="225.5" y1="155.96" x2="239.2" y2="148.06" stroke="#8c0a8c" stroke-width="7.0"/><line x1="226.1" y1="154" x2="238.07" y2="147.1" stroke="#a824a8" stroke-width="2.8"/><line x1="237.52" y1="155.96" x2="251.22" y2="148.06" stroke="#8c0a8c" stroke-width="7.0"/><line x1="238.12" y1="154" x2="250.09" y2="147.1" stroke="#a824a8" stroke-width="2.8"/><line x1="249.54" y1="155.96" x2="263.24" y2="148.06" stroke="#8c0a8c" stroke-width="7.0"/><line x1="250.14" y1="154" x2="262.11" y2="147.1" stroke="#a824a8" stroke-width="2.8"/><line x1="261.56" y1="155.96" x2="275.26" y2="148.06" stroke="#8c0a8c" stroke-width="7.0"/><line x1="262.16" y1="154" x2="274.13" y2="147.1" stroke="#a824a8" stroke-width="2.8"/><line x1="273.58" y1="155.96" x2="287.28" y2="148.06" stroke="#8c0a8c" stroke-width="7.0"/><line x1="274.18" y1="154" x2="286.15" y2="147.1" stroke="#a824a8" stroke-width="2.8"/><line x1="285.6" y1="155.96" x2="299.3" y2="148.06" stroke="#8c0a8c" stroke-width="7.0"/><line x1="286.2" y1="154" x2="298.17" y2="147.1" stroke="#a824a8" stroke-width="2.8"/><line x1="297.62" y1="155.96" x2="311.32" y2="148.06" stroke="#8c0a8c" stroke-width="7.0"/><line x1="298.22" y1="154" x2="310.19" y2="147.1" stroke="#a824a8" stroke-width="2.8"/><line x1="309.64" y1="155.96" x2="323.34" y2="148.06" stroke="#8c0a8c" stroke-width="7.0"/><line x1="310.24" y1="154" x2="322.21" y2="147.1" stroke="#a824a8" stroke-width="2.8"/><line x1="321.66" y1="155.96" x2="335.36" y2="148.06" stroke="#8c0a8c" stroke-width="7.0"/><line x1="322.26" y1="154" x2="334.23" y2="147.1" stroke="#a824a8" stroke-width="2.8"/><line x1="333.68" y1="155.96" x2="347.38" y2="148.06" stroke="#8c0a8c" stroke-width="7.0"/><line x1="334.28" y1="154" x2="346.25" y2="147.1" stroke="#a824a8" stroke-width="2.8"/><line x1="345.7" y1="155.96" x2="359.4" y2="148.06" stroke="#8c0a8c" stroke-width="7.0"/><line x1="346.3" y1="154" x2="358.27" y2="147.1" stroke="#a824a8" stroke-width="2.8"/><line x1="357.72" y1="155.96" x2="371.42" y2="148.06" stroke="#8c0a8c" stroke-width="7.0"/><line x1="358.32" y1="154" x2="370.29" y2="147.1" stroke="#a824a8" stroke-width="2.8"/><line x1="369.74" y1="155.96" x2="383.44" y2="148.06" stroke="#8c0a8c" stroke-width="7.0"/><line x1="370.34" y1="154" x2="382.31" y2="147.1" stroke="#a824a8" stroke-width="2.8"/><line x1="381.76" y1="155.96" x2="395.46" y2="148.06" stroke="#8c0a8c" stroke-width="7.0"/><line x1="382.36" y1="154" x2="394.33" y2="147.1" stroke="#a824a8" stroke-width="2.8"/><line x1="393.78" y1="155.96" x2="407.48" y2="148.06" stroke="#8c0a8c" stroke-width="7.0"/><line x1="394.38" y1="154" x2="406.35" y2="147.1" stroke="#a824a8" stroke-width="2.8"/><line x1="405.8" y1="155.96" x2="419.5" y2="148.06" stroke="#8c0a8c" stroke-width="7.0"/><line x1="406.4" y1="154" x2="418.37" y2="147.1" stroke="#a824a8" stroke-width="2.8"/><line x1="45.2" y1="143.9" x2="58.9" y2="136" stroke="#a2a29c" stroke-width="6.8"/><line x1="45.8" y1="141.94" x2="57.77" y2="135.04" stroke="#bebeb8" stroke-width="2.6"/><line x1="57.22" y1="143.9" x2="70.92" y2="136" stroke="#8c0a8c" stroke-width="7.0"/><line x1="57.82" y1="141.94" x2="69.79" y2="135.04" stroke="#a824a8" stroke-width="2.8"/><line x1="69.24" y1="143.9" x2="82.94" y2="136" stroke="#a2a29c" stroke-width="6.8"/><line x1="69.84" y1="141.94" x2="81.81" y2="135.04" stroke="#bebeb8" stroke-width="2.6"/><line x1="81.26" y1="143.9" x2="94.96" y2="136" stroke="#8c0a8c" stroke-width="7.0"/><line x1="81.86" y1="141.94" x2="93.83" y2="135.04" stroke="#a824a8" stroke-width="2.8"/><line x1="93.28" y1="143.9" x2="106.98" y2="136" stroke="#a2a29c" stroke-width="6.8"/><line x1="93.88" y1="141.94" x2="105.85" y2="135.04" stroke="#bebeb8" stroke-width="2.6"/><line x1="105.3" y1="143.9" x2="119" y2="136" stroke="#8c0a8c" stroke-width="7.0"/><line x1="105.9" y1="141.94" x2="117.87" y2="135.04" stroke="#a824a8" stroke-width="2.8"/><line x1="117.32" y1="143.9" x2="131.02" y2="136" stroke="#a2a29c" stroke-width="6.8"/><line x1="117.92" y1="141.94" x2="129.89" y2="135.04" stroke="#bebeb8" stroke-width="2.6"/><line x1="129.34" y1="143.9" x2="143.04" y2="136" stroke="#8c0a8c" stroke-width="7.0"/><line x1="129.94" y1="141.94" x2="141.91" y2="135.04" stroke="#a824a8" stroke-width="2.8"/><line x1="141.36" y1="143.9" x2="155.06" y2="136" stroke="#a2a29c" stroke-width="6.8"/><line x1="141.96" y1="141.94" x2="153.93" y2="135.04" stroke="#bebeb8" stroke-width="2.6"/><line x1="153.38" y1="143.9" x2="167.08" y2="136" stroke="#8c0a8c" stroke-width="7.0"/><line x1="153.98" y1="141.94" x2="165.95" y2="135.04" stroke="#a824a8" stroke-width="2.8"/><line x1="165.4" y1="143.9" x2="179.1" y2="136" stroke="#a2a29c" stroke-width="6.8"/><line x1="166" y1="141.94" x2="177.97" y2="135.04" stroke="#bebeb8" stroke-width="2.6"/><line x1="177.42" y1="143.9" x2="191.12" y2="136" stroke="#8c0a8c" stroke-width="7.0"/><line x1="178.02" y1="141.94" x2="189.99" y2="135.04" stroke="#a824a8" stroke-width="2.8"/><line x1="189.44" y1="143.9" x2="203.14" y2="136" stroke="#a2a29c" stroke-width="6.8"/><line x1="190.04" y1="141.94" x2="202.01" y2="135.04" stroke="#bebeb8" stroke-width="2.6"/><line x1="201.46" y1="143.9" x2="215.16" y2="136" stroke="#8c0a8c" stroke-width="7.0"/><line x1="202.06" y1="141.94" x2="214.03" y2="135.04" stroke="#a824a8" stroke-width="2.8"/><line x1="213.48" y1="143.9" x2="227.18" y2="136" stroke="#a2a29c" stroke-width="6.8"/><line x1="214.08" y1="141.94" x2="226.05" y2="135.04" stroke="#bebeb8" stroke-width="2.6"/><line x1="225.5" y1="143.9" x2="239.2" y2="136" stroke="#8c0a8c" stroke-width="7.0"/><line x1="226.1" y1="141.94" x2="238.07" y2="135.04" stroke="#a824a8" stroke-width="2.8"/><line x1="237.52" y1="143.9" x2="251.22" y2="136" stroke="#a2a29c" stroke-width="6.8"/><line x1="238.12" y1="141.94" x2="250.09" y2="135.04" stroke="#bebeb8" stroke-width="2.6"/><line x1="249.54" y1="143.9" x2="263.24" y2="136" stroke="#8c0a8c" stroke-width="7.0"/><line x1="250.14" y1="141.94" x2="262.11" y2="135.04" stroke="#a824a8" stroke-width="2.8"/><line x1="261.56" y1="143.9" x2="275.26" y2="136" stroke="#a2a29c" stroke-width="6.8"/><line x1="262.16" y1="141.94" x2="274.13" y2="135.04" stroke="#bebeb8" stroke-width="2.6"/><line x1="273.58" y1="143.9" x2="287.28" y2="136" stroke="#8c0a8c" stroke-width="7.0"/><line x1="274.18" y1="141.94" x2="286.15" y2="135.04" stroke="#a824a8" stroke-width="2.8"/><line x1="285.6" y1="143.9" x2="299.3" y2="136" stroke="#a2a29c" stroke-width="6.8"/><line x1="286.2" y1="141.94" x2="298.17" y2="135.04" stroke="#bebeb8" stroke-width="2.6"/><line x1="297.62" y1="143.9" x2="311.32" y2="136" stroke="#8c0a8c" stroke-width="7.0"/><line x1="298.22" y1="141.94" x2="310.19" y2="135.04" stroke="#a824a8" stroke-width="2.8"/><line x1="309.64" y1="143.9" x2="323.34" y2="136" stroke="#a2a29c" stroke-width="6.8"/><line x1="310.24" y1="141.94" x2="322.21" y2="135.04" stroke="#bebeb8" stroke-width="2.6"/><line x1="321.66" y1="143.9" x2="335.36" y2="136" stroke="#8c0a8c" stroke-width="7.0"/><line x1="322.26" y1="141.94" x2="334.23" y2="135.04" stroke="#a824a8" stroke-width="2.8"/><line x1="333.68" y1="143.9" x2="347.38" y2="136" stroke="#a2a29c" stroke-width="6.8"/><line x1="334.28" y1="141.94" x2="346.25" y2="135.04" stroke="#bebeb8" stroke-width="2.6"/><line x1="345.7" y1="143.9" x2="359.4" y2="136" stroke="#8c0a8c" stroke-width="7.0"/><line x1="346.3" y1="141.94" x2="358.27" y2="135.04" stroke="#a824a8" stroke-width="2.8"/><line x1="357.72" y1="143.9" x2="371.42" y2="136" stroke="#a2a29c" stroke-width="6.8"/><line x1="358.32" y1="141.94" x2="370.29" y2="135.04" stroke="#bebeb8" stroke-width="2.6"/><line x1="369.74" y1="143.9" x2="383.44" y2="136" stroke="#8c0a8c" stroke-width="7.0"/><line x1="370.34" y1="141.94" x2="382.31" y2="135.04" stroke="#a824a8" stroke-width="2.8"/><line x1="381.76" y1="143.9" x2="395.46" y2="136" stroke="#a2a29c" stroke-width="6.8"/><line x1="382.36" y1="141.94" x2="394.33" y2="135.04" stroke="#bebeb8" stroke-width="2.6"/><line x1="393.78" y1="143.9" x2="407.48" y2="136" stroke="#8c0a8c" stroke-width="7.0"/><line x1="394.38" y1="141.94" x2="406.35" y2="135.04" stroke="#a824a8" stroke-width="2.8"/><line x1="405.8" y1="143.9" x2="419.5" y2="136" stroke="#a2a29c" stroke-width="6.8"/><line x1="406.4" y1="141.94" x2="418.37" y2="135.04" stroke="#bebeb8" stroke-width="2.6"/><line x1="45.2" y1="131.84" x2="58.9" y2="123.94" stroke="#8c0a8c" stroke-width="7.0"/><line x1="45.8" y1="129.88" x2="57.77" y2="122.98" stroke="#a824a8" stroke-width="2.8"/><line x1="57.22" y1="131.84" x2="70.92" y2="123.94" stroke="#8c0a8c" stroke-width="7.0"/><line x1="57.82" y1="129.88" x2="69.79" y2="122.98" stroke="#a824a8" stroke-width="2.8"/><line x1="69.24" y1="131.84" x2="82.94" y2="123.94" stroke="#8c0a8c" stroke-width="7.0"/><line x1="69.84" y1="129.88" x2="81.81" y2="122.98" stroke="#a824a8" stroke-width="2.8"/><line x1="81.26" y1="131.84" x2="94.96" y2="123.94" stroke="#8c0a8c" stroke-width="7.0"/><line x1="81.86" y1="129.88" x2="93.83" y2="122.98" stroke="#a824a8" stroke-width="2.8"/><line x1="93.28" y1="131.84" x2="106.98" y2="123.94" stroke="#8c0a8c" stroke-width="7.0"/><line x1="93.88" y1="129.88" x2="105.85" y2="122.98" stroke="#a824a8" stroke-width="2.8"/><line x1="105.3" y1="131.84" x2="119" y2="123.94" stroke="#8c0a8c" stroke-width="7.0"/><line x1="105.9" y1="129.88" x2="117.87" y2="122.98" stroke="#a824a8" stroke-width="2.8"/><line x1="117.32" y1="131.84" x2="131.02" y2="123.94" stroke="#8c0a8c" stroke-width="7.0"/><line x1="117.92" y1="129.88" x2="129.89" y2="122.98" stroke="#a824a8" stroke-width="2.8"/><line x1="129.34" y1="131.84" x2="143.04" y2="123.94" stroke="#8c0a8c" stroke-width="7.0"/><line x1="129.94" y1="129.88" x2="141.91" y2="122.98" stroke="#a824a8" stroke-width="2.8"/><line x1="141.36" y1="131.84" x2="155.06" y2="123.94" stroke="#8c0a8c" stroke-width="7.0"/><line x1="141.96" y1="129.88" x2="153.93" y2="122.98" stroke="#a824a8" stroke-width="2.8"/><line x1="153.38" y1="131.84" x2="167.08" y2="123.94" stroke="#8c0a8c" stroke-width="7.0"/><line x1="153.98" y1="129.88" x2="165.95" y2="122.98" stroke="#a824a8" stroke-width="2.8"/><line x1="165.4" y1="131.84" x2="179.1" y2="123.94" stroke="#8c0a8c" stroke-width="7.0"/><line x1="166" y1="129.88" x2="177.97" y2="122.98" stroke="#a824a8" stroke-width="2.8"/><line x1="177.42" y1="131.84" x2="191.12" y2="123.94" stroke="#8c0a8c" stroke-width="7.0"/><line x1="178.02" y1="129.88" x2="189.99" y2="122.98" stroke="#a824a8" stroke-width="2.8"/><line x1="189.44" y1="131.84" x2="203.14" y2="123.94" stroke="#8c0a8c" stroke-width="7.0"/><line x1="190.04" y1="129.88" x2="202.01" y2="122.98" stroke="#a824a8" stroke-width="2.8"/><line x1="201.46" y1="131.84" x2="215.16" y2="123.94" stroke="#8c0a8c" stroke-width="7.0"/><line x1="202.06" y1="129.88" x2="214.03" y2="122.98" stroke="#a824a8" stroke-width="2.8"/><line x1="213.48" y1="131.84" x2="227.18" y2="123.94" stroke="#8c0a8c" stroke-width="7.0"/><line x1="214.08" y1="129.88" x2="226.05" y2="122.98" stroke="#a824a8" stroke-width="2.8"/><line x1="225.5" y1="131.84" x2="239.2" y2="123.94" stroke="#8c0a8c" stroke-width="7.0"/><line x1="226.1" y1="129.88" x2="238.07" y2="122.98" stroke="#a824a8" stroke-width="2.8"/><line x1="237.52" y1="131.84" x2="251.22" y2="123.94" stroke="#8c0a8c" stroke-width="7.0"/><line x1="238.12" y1="129.88" x2="250.09" y2="122.98" stroke="#a824a8" stroke-width="2.8"/><line x1="249.54" y1="131.84" x2="263.24" y2="123.94" stroke="#8c0a8c" stroke-width="7.0"/><line x1="250.14" y1="129.88" x2="262.11" y2="122.98" stroke="#a824a8" stroke-width="2.8"/><line x1="261.56" y1="131.84" x2="275.26" y2="123.94" stroke="#8c0a8c" stroke-width="7.0"/><line x1="262.16" y1="129.88" x2="274.13" y2="122.98" stroke="#a824a8" stroke-width="2.8"/><line x1="273.58" y1="131.84" x2="287.28" y2="123.94" stroke="#8c0a8c" stroke-width="7.0"/><line x1="274.18" y1="129.88" x2="286.15" y2="122.98" stroke="#a824a8" stroke-width="2.8"/><line x1="285.6" y1="131.84" x2="299.3" y2="123.94" stroke="#8c0a8c" stroke-width="7.0"/><line x1="286.2" y1="129.88" x2="298.17" y2="122.98" stroke="#a824a8" stroke-width="2.8"/><line x1="297.62" y1="131.84" x2="311.32" y2="123.94" stroke="#8c0a8c" stroke-width="7.0"/><line x1="298.22" y1="129.88" x2="310.19" y2="122.98" stroke="#a824a8" stroke-width="2.8"/><line x1="309.64" y1="131.84" x2="323.34" y2="123.94" stroke="#8c0a8c" stroke-width="7.0"/><line x1="310.24" y1="129.88" x2="322.21" y2="122.98" stroke="#a824a8" stroke-width="2.8"/><line x1="321.66" y1="131.84" x2="335.36" y2="123.94" stroke="#8c0a8c" stroke-width="7.0"/><line x1="322.26" y1="129.88" x2="334.23" y2="122.98" stroke="#a824a8" stroke-width="2.8"/><line x1="333.68" y1="131.84" x2="347.38" y2="123.94" stroke="#8c0a8c" stroke-width="7.0"/><line x1="334.28" y1="129.88" x2="346.25" y2="122.98" stroke="#a824a8" stroke-width="2.8"/><line x1="345.7" y1="131.84" x2="359.4" y2="123.94" stroke="#8c0a8c" stroke-width="7.0"/><line x1="346.3" y1="129.88" x2="358.27" y2="122.98" stroke="#a824a8" stroke-width="2.8"/><line x1="357.72" y1="131.84" x2="371.42" y2="123.94" stroke="#8c0a8c" stroke-width="7.0"/><line x1="358.32" y1="129.88" x2="370.29" y2="122.98" stroke="#a824a8" stroke-width="2.8"/><line x1="369.74" y1="131.84" x2="383.44" y2="123.94" stroke="#8c0a8c" stroke-width="7.0"/><line x1="370.34" y1="129.88" x2="382.31" y2="122.98" stroke="#a824a8" stroke-width="2.8"/><line x1="381.76" y1="131.84" x2="395.46" y2="123.94" stroke="#8c0a8c" stroke-width="7.0"/><line x1="382.36" y1="129.88" x2="394.33" y2="122.98" stroke="#a824a8" stroke-width="2.8"/><line x1="393.78" y1="131.84" x2="407.48" y2="123.94" stroke="#8c0a8c" stroke-width="7.0"/><line x1="394.38" y1="129.88" x2="406.35" y2="122.98" stroke="#a824a8" stroke-width="2.8"/><line x1="405.8" y1="131.84" x2="419.5" y2="123.94" stroke="#8c0a8c" stroke-width="7.0"/><line x1="406.4" y1="129.88" x2="418.37" y2="122.98" stroke="#a824a8" stroke-width="2.8"/><line x1="45.2" y1="119.78" x2="58.9" y2="111.88" stroke="#a2a29c" stroke-width="6.8"/><line x1="45.8" y1="117.82" x2="57.77" y2="110.92" stroke="#bebeb8" stroke-width="2.6"/><line x1="57.22" y1="119.78" x2="70.92" y2="111.88" stroke="#8c0a8c" stroke-width="7.0"/><line x1="57.82" y1="117.82" x2="69.79" y2="110.92" stroke="#a824a8" stroke-width="2.8"/><line x1="69.24" y1="119.78" x2="82.94" y2="111.88" stroke="#a2a29c" stroke-width="6.8"/><line x1="69.84" y1="117.82" x2="81.81" y2="110.92" stroke="#bebeb8" stroke-width="2.6"/><line x1="81.26" y1="119.78" x2="94.96" y2="111.88" stroke="#8c0a8c" stroke-width="7.0"/><line x1="81.86" y1="117.82" x2="93.83" y2="110.92" stroke="#a824a8" stroke-width="2.8"/><line x1="93.28" y1="119.78" x2="106.98" y2="111.88" stroke="#a2a29c" stroke-width="6.8"/><line x1="93.88" y1="117.82" x2="105.85" y2="110.92" stroke="#bebeb8" stroke-width="2.6"/><line x1="105.3" y1="119.78" x2="119" y2="111.88" stroke="#8c0a8c" stroke-width="7.0"/><line x1="105.9" y1="117.82" x2="117.87" y2="110.92" stroke="#a824a8" stroke-width="2.8"/><line x1="117.32" y1="119.78" x2="131.02" y2="111.88" stroke="#a2a29c" stroke-width="6.8"/><line x1="117.92" y1="117.82" x2="129.89" y2="110.92" stroke="#bebeb8" stroke-width="2.6"/><line x1="129.34" y1="119.78" x2="143.04" y2="111.88" stroke="#8c0a8c" stroke-width="7.0"/><line x1="129.94" y1="117.82" x2="141.91" y2="110.92" stroke="#a824a8" stroke-width="2.8"/><line x1="141.36" y1="119.78" x2="155.06" y2="111.88" stroke="#a2a29c" stroke-width="6.8"/><line x1="141.96" y1="117.82" x2="153.93" y2="110.92" stroke="#bebeb8" stroke-width="2.6"/><line x1="153.38" y1="119.78" x2="167.08" y2="111.88" stroke="#8c0a8c" stroke-width="7.0"/><line x1="153.98" y1="117.82" x2="165.95" y2="110.92" stroke="#a824a8" stroke-width="2.8"/><line x1="165.4" y1="119.78" x2="179.1" y2="111.88" stroke="#a2a29c" stroke-width="6.8"/><line x1="166" y1="117.82" x2="177.97" y2="110.92" stroke="#bebeb8" stroke-width="2.6"/><line x1="177.42" y1="119.78" x2="191.12" y2="111.88" stroke="#8c0a8c" stroke-width="7.0"/><line x1="178.02" y1="117.82" x2="189.99" y2="110.92" stroke="#a824a8" stroke-width="2.8"/><line x1="189.44" y1="119.78" x2="203.14" y2="111.88" stroke="#a2a29c" stroke-width="6.8"/><line x1="190.04" y1="117.82" x2="202.01" y2="110.92" stroke="#bebeb8" stroke-width="2.6"/><line x1="201.46" y1="119.78" x2="215.16" y2="111.88" stroke="#8c0a8c" stroke-width="7.0"/><line x1="202.06" y1="117.82" x2="214.03" y2="110.92" stroke="#a824a8" stroke-width="2.8"/><line x1="213.48" y1="119.78" x2="227.18" y2="111.88" stroke="#a2a29c" stroke-width="6.8"/><line x1="214.08" y1="117.82" x2="226.05" y2="110.92" stroke="#bebeb8" stroke-width="2.6"/><line x1="225.5" y1="119.78" x2="239.2" y2="111.88" stroke="#8c0a8c" stroke-width="7.0"/><line x1="226.1" y1="117.82" x2="238.07" y2="110.92" stroke="#a824a8" stroke-width="2.8"/><line x1="237.52" y1="119.78" x2="251.22" y2="111.88" stroke="#a2a29c" stroke-width="6.8"/><line x1="238.12" y1="117.82" x2="250.09" y2="110.92" stroke="#bebeb8" stroke-width="2.6"/><line x1="249.54" y1="119.78" x2="263.24" y2="111.88" stroke="#8c0a8c" stroke-width="7.0"/><line x1="250.14" y1="117.82" x2="262.11" y2="110.92" stroke="#a824a8" stroke-width="2.8"/><line x1="261.56" y1="119.78" x2="275.26" y2="111.88" stroke="#a2a29c" stroke-width="6.8"/><line x1="262.16" y1="117.82" x2="274.13" y2="110.92" stroke="#bebeb8" stroke-width="2.6"/><line x1="273.58" y1="119.78" x2="287.28" y2="111.88" stroke="#8c0a8c" stroke-width="7.0"/><line x1="274.18" y1="117.82" x2="286.15" y2="110.92" stroke="#a824a8" stroke-width="2.8"/><line x1="285.6" y1="119.78" x2="299.3" y2="111.88" stroke="#a2a29c" stroke-width="6.8"/><line x1="286.2" y1="117.82" x2="298.17" y2="110.92" stroke="#bebeb8" stroke-width="2.6"/><line x1="297.62" y1="119.78" x2="311.32" y2="111.88" stroke="#8c0a8c" stroke-width="7.0"/><line x1="298.22" y1="117.82" x2="310.19" y2="110.92" stroke="#a824a8" stroke-width="2.8"/><line x1="309.64" y1="119.78" x2="323.34" y2="111.88" stroke="#a2a29c" stroke-width="6.8"/><line x1="310.24" y1="117.82" x2="322.21" y2="110.92" stroke="#bebeb8" stroke-width="2.6"/><line x1="321.66" y1="119.78" x2="335.36" y2="111.88" stroke="#8c0a8c" stroke-width="7.0"/><line x1="322.26" y1="117.82" x2="334.23" y2="110.92" stroke="#a824a8" stroke-width="2.8"/><line x1="333.68" y1="119.78" x2="347.38" y2="111.88" stroke="#a2a29c" stroke-width="6.8"/><line x1="334.28" y1="117.82" x2="346.25" y2="110.92" stroke="#bebeb8" stroke-width="2.6"/><line x1="345.7" y1="119.78" x2="359.4" y2="111.88" stroke="#8c0a8c" stroke-width="7.0"/><line x1="346.3" y1="117.82" x2="358.27" y2="110.92" stroke="#a824a8" stroke-width="2.8"/><line x1="357.72" y1="119.78" x2="371.42" y2="111.88" stroke="#a2a29c" stroke-width="6.8"/><line x1="358.32" y1="117.82" x2="370.29" y2="110.92" stroke="#bebeb8" stroke-width="2.6"/><line x1="369.74" y1="119.78" x2="383.44" y2="111.88" stroke="#8c0a8c" stroke-width="7.0"/><line x1="370.34" y1="117.82" x2="382.31" y2="110.92" stroke="#a824a8" stroke-width="2.8"/><line x1="381.76" y1="119.78" x2="395.46" y2="111.88" stroke="#a2a29c" stroke-width="6.8"/><line x1="382.36" y1="117.82" x2="394.33" y2="110.92" stroke="#bebeb8" stroke-width="2.6"/><line x1="393.78" y1="119.78" x2="407.48" y2="111.88" stroke="#8c0a8c" stroke-width="7.0"/><line x1="394.38" y1="117.82" x2="406.35" y2="110.92" stroke="#a824a8" stroke-width="2.8"/><line x1="405.8" y1="119.78" x2="419.5" y2="111.88" stroke="#a2a29c" stroke-width="6.8"/><line x1="406.4" y1="117.82" x2="418.37" y2="110.92" stroke="#bebeb8" stroke-width="2.6"/><line x1="45.2" y1="107.72" x2="58.9" y2="99.82" stroke="#8c0a8c" stroke-width="7.0"/><line x1="45.8" y1="105.76" x2="57.77" y2="98.86" stroke="#a824a8" stroke-width="2.8"/><line x1="57.22" y1="107.72" x2="70.92" y2="99.82" stroke="#8c0a8c" stroke-width="7.0"/><line x1="57.82" y1="105.76" x2="69.79" y2="98.86" stroke="#a824a8" stroke-width="2.8"/><line x1="69.24" y1="107.72" x2="82.94" y2="99.82" stroke="#8c0a8c" stroke-width="7.0"/><line x1="69.84" y1="105.76" x2="81.81" y2="98.86" stroke="#a824a8" stroke-width="2.8"/><line x1="81.26" y1="107.72" x2="94.96" y2="99.82" stroke="#8c0a8c" stroke-width="7.0"/><line x1="81.86" y1="105.76" x2="93.83" y2="98.86" stroke="#a824a8" stroke-width="2.8"/><line x1="93.28" y1="107.72" x2="106.98" y2="99.82" stroke="#8c0a8c" stroke-width="7.0"/><line x1="93.88" y1="105.76" x2="105.85" y2="98.86" stroke="#a824a8" stroke-width="2.8"/><line x1="105.3" y1="107.72" x2="119" y2="99.82" stroke="#8c0a8c" stroke-width="7.0"/><line x1="105.9" y1="105.76" x2="117.87" y2="98.86" stroke="#a824a8" stroke-width="2.8"/><line x1="117.32" y1="107.72" x2="131.02" y2="99.82" stroke="#8c0a8c" stroke-width="7.0"/><line x1="117.92" y1="105.76" x2="129.89" y2="98.86" stroke="#a824a8" stroke-width="2.8"/><line x1="129.34" y1="107.72" x2="143.04" y2="99.82" stroke="#8c0a8c" stroke-width="7.0"/><line x1="129.94" y1="105.76" x2="141.91" y2="98.86" stroke="#a824a8" stroke-width="2.8"/><line x1="141.36" y1="107.72" x2="155.06" y2="99.82" stroke="#8c0a8c" stroke-width="7.0"/><line x1="141.96" y1="105.76" x2="153.93" y2="98.86" stroke="#a824a8" stroke-width="2.8"/><line x1="153.38" y1="107.72" x2="167.08" y2="99.82" stroke="#8c0a8c" stroke-width="7.0"/><line x1="153.98" y1="105.76" x2="165.95" y2="98.86" stroke="#a824a8" stroke-width="2.8"/><line x1="165.4" y1="107.72" x2="179.1" y2="99.82" stroke="#8c0a8c" stroke-width="7.0"/><line x1="166" y1="105.76" x2="177.97" y2="98.86" stroke="#a824a8" stroke-width="2.8"/><line x1="177.42" y1="107.72" x2="191.12" y2="99.82" stroke="#8c0a8c" stroke-width="7.0"/><line x1="178.02" y1="105.76" x2="189.99" y2="98.86" stroke="#a824a8" stroke-width="2.8"/><line x1="189.44" y1="107.72" x2="203.14" y2="99.82" stroke="#8c0a8c" stroke-width="7.0"/><line x1="190.04" y1="105.76" x2="202.01" y2="98.86" stroke="#a824a8" stroke-width="2.8"/><line x1="201.46" y1="107.72" x2="215.16" y2="99.82" stroke="#8c0a8c" stroke-width="7.0"/><line x1="202.06" y1="105.76" x2="214.03" y2="98.86" stroke="#a824a8" stroke-width="2.8"/><line x1="213.48" y1="107.72" x2="227.18" y2="99.82" stroke="#8c0a8c" stroke-width="7.0"/><line x1="214.08" y1="105.76" x2="226.05" y2="98.86" stroke="#a824a8" stroke-width="2.8"/><line x1="225.5" y1="107.72" x2="239.2" y2="99.82" stroke="#8c0a8c" stroke-width="7.0"/><line x1="226.1" y1="105.76" x2="238.07" y2="98.86" stroke="#a824a8" stroke-width="2.8"/><line x1="237.52" y1="107.72" x2="251.22" y2="99.82" stroke="#8c0a8c" stroke-width="7.0"/><line x1="238.12" y1="105.76" x2="250.09" y2="98.86" stroke="#a824a8" stroke-width="2.8"/><line x1="249.54" y1="107.72" x2="263.24" y2="99.82" stroke="#8c0a8c" stroke-width="7.0"/><line x1="250.14" y1="105.76" x2="262.11" y2="98.86" stroke="#a824a8" stroke-width="2.8"/><line x1="261.56" y1="107.72" x2="275.26" y2="99.82" stroke="#8c0a8c" stroke-width="7.0"/><line x1="262.16" y1="105.76" x2="274.13" y2="98.86" stroke="#a824a8" stroke-width="2.8"/><line x1="273.58" y1="107.72" x2="287.28" y2="99.82" stroke="#8c0a8c" stroke-width="7.0"/><line x1="274.18" y1="105.76" x2="286.15" y2="98.86" stroke="#a824a8" stroke-width="2.8"/><line x1="285.6" y1="107.72" x2="299.3" y2="99.82" stroke="#8c0a8c" stroke-width="7.0"/><line x1="286.2" y1="105.76" x2="298.17" y2="98.86" stroke="#a824a8" stroke-width="2.8"/><line x1="297.62" y1="107.72" x2="311.32" y2="99.82" stroke="#8c0a8c" stroke-width="7.0"/><line x1="298.22" y1="105.76" x2="310.19" y2="98.86" stroke="#a824a8" stroke-width="2.8"/><line x1="309.64" y1="107.72" x2="323.34" y2="99.82" stroke="#8c0a8c" stroke-width="7.0"/><line x1="310.24" y1="105.76" x2="322.21" y2="98.86" stroke="#a824a8" stroke-width="2.8"/><line x1="321.66" y1="107.72" x2="335.36" y2="99.82" stroke="#8c0a8c" stroke-width="7.0"/><line x1="322.26" y1="105.76" x2="334.23" y2="98.86" stroke="#a824a8" stroke-width="2.8"/><line x1="333.68" y1="107.72" x2="347.38" y2="99.82" stroke="#8c0a8c" stroke-width="7.0"/><line x1="334.28" y1="105.76" x2="346.25" y2="98.86" stroke="#a824a8" stroke-width="2.8"/><line x1="345.7" y1="107.72" x2="359.4" y2="99.82" stroke="#8c0a8c" stroke-width="7.0"/><line x1="346.3" y1="105.76" x2="358.27" y2="98.86" stroke="#a824a8" stroke-width="2.8"/><line x1="357.72" y1="107.72" x2="371.42" y2="99.82" stroke="#8c0a8c" stroke-width="7.0"/><line x1="358.32" y1="105.76" x2="370.29" y2="98.86" stroke="#a824a8" stroke-width="2.8"/><line x1="369.74" y1="107.72" x2="383.44" y2="99.82" stroke="#8c0a8c" stroke-width="7.0"/><line x1="370.34" y1="105.76" x2="382.31" y2="98.86" stroke="#a824a8" stroke-width="2.8"/><line x1="381.76" y1="107.72" x2="395.46" y2="99.82" stroke="#8c0a8c" stroke-width="7.0"/><line x1="382.36" y1="105.76" x2="394.33" y2="98.86" stroke="#a824a8" stroke-width="2.8"/><line x1="393.78" y1="107.72" x2="407.48" y2="99.82" stroke="#8c0a8c" stroke-width="7.0"/><line x1="394.38" y1="105.76" x2="406.35" y2="98.86" stroke="#a824a8" stroke-width="2.8"/><line x1="405.8" y1="107.72" x2="419.5" y2="99.82" stroke="#8c0a8c" stroke-width="7.0"/><line x1="406.4" y1="105.76" x2="418.37" y2="98.86" stroke="#a824a8" stroke-width="2.8"/><line x1="45.2" y1="95.66" x2="58.9" y2="87.76" stroke="#a2a29c" stroke-width="6.8"/><line x1="45.8" y1="93.7" x2="57.77" y2="86.8" stroke="#bebeb8" stroke-width="2.6"/><line x1="57.22" y1="95.66" x2="70.92" y2="87.76" stroke="#8c0a8c" stroke-width="7.0"/><line x1="57.82" y1="93.7" x2="69.79" y2="86.8" stroke="#a824a8" stroke-width="2.8"/><line x1="69.24" y1="95.66" x2="82.94" y2="87.76" stroke="#a2a29c" stroke-width="6.8"/><line x1="69.84" y1="93.7" x2="81.81" y2="86.8" stroke="#bebeb8" stroke-width="2.6"/><line x1="81.26" y1="95.66" x2="94.96" y2="87.76" stroke="#8c0a8c" stroke-width="7.0"/><line x1="81.86" y1="93.7" x2="93.83" y2="86.8" stroke="#a824a8" stroke-width="2.8"/><line x1="93.28" y1="95.66" x2="106.98" y2="87.76" stroke="#a2a29c" stroke-width="6.8"/><line x1="93.88" y1="93.7" x2="105.85" y2="86.8" stroke="#bebeb8" stroke-width="2.6"/><line x1="105.3" y1="95.66" x2="119" y2="87.76" stroke="#8c0a8c" stroke-width="7.0"/><line x1="105.9" y1="93.7" x2="117.87" y2="86.8" stroke="#a824a8" stroke-width="2.8"/><line x1="117.32" y1="95.66" x2="131.02" y2="87.76" stroke="#a2a29c" stroke-width="6.8"/><line x1="117.92" y1="93.7" x2="129.89" y2="86.8" stroke="#bebeb8" stroke-width="2.6"/><line x1="129.34" y1="95.66" x2="143.04" y2="87.76" stroke="#8c0a8c" stroke-width="7.0"/><line x1="129.94" y1="93.7" x2="141.91" y2="86.8" stroke="#a824a8" stroke-width="2.8"/><line x1="141.36" y1="95.66" x2="155.06" y2="87.76" stroke="#a2a29c" stroke-width="6.8"/><line x1="141.96" y1="93.7" x2="153.93" y2="86.8" stroke="#bebeb8" stroke-width="2.6"/><line x1="153.38" y1="95.66" x2="167.08" y2="87.76" stroke="#8c0a8c" stroke-width="7.0"/><line x1="153.98" y1="93.7" x2="165.95" y2="86.8" stroke="#a824a8" stroke-width="2.8"/><line x1="165.4" y1="95.66" x2="179.1" y2="87.76" stroke="#a2a29c" stroke-width="6.8"/><line x1="166" y1="93.7" x2="177.97" y2="86.8" stroke="#bebeb8" stroke-width="2.6"/><line x1="177.42" y1="95.66" x2="191.12" y2="87.76" stroke="#8c0a8c" stroke-width="7.0"/><line x1="178.02" y1="93.7" x2="189.99" y2="86.8" stroke="#a824a8" stroke-width="2.8"/><line x1="189.44" y1="95.66" x2="203.14" y2="87.76" stroke="#a2a29c" stroke-width="6.8"/><line x1="190.04" y1="93.7" x2="202.01" y2="86.8" stroke="#bebeb8" stroke-width="2.6"/><line x1="201.46" y1="95.66" x2="215.16" y2="87.76" stroke="#8c0a8c" stroke-width="7.0"/><line x1="202.06" y1="93.7" x2="214.03" y2="86.8" stroke="#a824a8" stroke-width="2.8"/><line x1="213.48" y1="95.66" x2="227.18" y2="87.76" stroke="#a2a29c" stroke-width="6.8"/><line x1="214.08" y1="93.7" x2="226.05" y2="86.8" stroke="#bebeb8" stroke-width="2.6"/><line x1="225.5" y1="95.66" x2="239.2" y2="87.76" stroke="#8c0a8c" stroke-width="7.0"/><line x1="226.1" y1="93.7" x2="238.07" y2="86.8" stroke="#a824a8" stroke-width="2.8"/><line x1="237.52" y1="95.66" x2="251.22" y2="87.76" stroke="#a2a29c" stroke-width="6.8"/><line x1="238.12" y1="93.7" x2="250.09" y2="86.8" stroke="#bebeb8" stroke-width="2.6"/><line x1="249.54" y1="95.66" x2="263.24" y2="87.76" stroke="#8c0a8c" stroke-width="7.0"/><line x1="250.14" y1="93.7" x2="262.11" y2="86.8" stroke="#a824a8" stroke-width="2.8"/><line x1="261.56" y1="95.66" x2="275.26" y2="87.76" stroke="#a2a29c" stroke-width="6.8"/><line x1="262.16" y1="93.7" x2="274.13" y2="86.8" stroke="#bebeb8" stroke-width="2.6"/><line x1="273.58" y1="95.66" x2="287.28" y2="87.76" stroke="#8c0a8c" stroke-width="7.0"/><line x1="274.18" y1="93.7" x2="286.15" y2="86.8" stroke="#a824a8" stroke-width="2.8"/><line x1="285.6" y1="95.66" x2="299.3" y2="87.76" stroke="#a2a29c" stroke-width="6.8"/><line x1="286.2" y1="93.7" x2="298.17" y2="86.8" stroke="#bebeb8" stroke-width="2.6"/><line x1="297.62" y1="95.66" x2="311.32" y2="87.76" stroke="#8c0a8c" stroke-width="7.0"/><line x1="298.22" y1="93.7" x2="310.19" y2="86.8" stroke="#a824a8" stroke-width="2.8"/><line x1="309.64" y1="95.66" x2="323.34" y2="87.76" stroke="#a2a29c" stroke-width="6.8"/><line x1="310.24" y1="93.7" x2="322.21" y2="86.8" stroke="#bebeb8" stroke-width="2.6"/><line x1="321.66" y1="95.66" x2="335.36" y2="87.76" stroke="#8c0a8c" stroke-width="7.0"/><line x1="322.26" y1="93.7" x2="334.23" y2="86.8" stroke="#a824a8" stroke-width="2.8"/><line x1="333.68" y1="95.66" x2="347.38" y2="87.76" stroke="#a2a29c" stroke-width="6.8"/><line x1="334.28" y1="93.7" x2="346.25" y2="86.8" stroke="#bebeb8" stroke-width="2.6"/><line x1="345.7" y1="95.66" x2="359.4" y2="87.76" stroke="#8c0a8c" stroke-width="7.0"/><line x1="346.3" y1="93.7" x2="358.27" y2="86.8" stroke="#a824a8" stroke-width="2.8"/><line x1="357.72" y1="95.66" x2="371.42" y2="87.76" stroke="#a2a29c" stroke-width="6.8"/><line x1="358.32" y1="93.7" x2="370.29" y2="86.8" stroke="#bebeb8" stroke-width="2.6"/><line x1="369.74" y1="95.66" x2="383.44" y2="87.76" stroke="#8c0a8c" stroke-width="7.0"/><line x1="370.34" y1="93.7" x2="382.31" y2="86.8" stroke="#a824a8" stroke-width="2.8"/><line x1="381.76" y1="95.66" x2="395.46" y2="87.76" stroke="#a2a29c" stroke-width="6.8"/><line x1="382.36" y1="93.7" x2="394.33" y2="86.8" stroke="#bebeb8" stroke-width="2.6"/><line x1="393.78" y1="95.66" x2="407.48" y2="87.76" stroke="#8c0a8c" stroke-width="7.0"/><line x1="394.38" y1="93.7" x2="406.35" y2="86.8" stroke="#a824a8" stroke-width="2.8"/><line x1="405.8" y1="95.66" x2="419.5" y2="87.76" stroke="#a2a29c" stroke-width="6.8"/><line x1="406.4" y1="93.7" x2="418.37" y2="86.8" stroke="#bebeb8" stroke-width="2.6"/><line x1="45.2" y1="83.6" x2="58.9" y2="75.7" stroke="#8c0a8c" stroke-width="7.0"/><line x1="45.8" y1="81.64" x2="57.77" y2="74.74" stroke="#a824a8" stroke-width="2.8"/><line x1="57.22" y1="83.6" x2="70.92" y2="75.7" stroke="#8c0a8c" stroke-width="7.0"/><line x1="57.82" y1="81.64" x2="69.79" y2="74.74" stroke="#a824a8" stroke-width="2.8"/><line x1="69.24" y1="83.6" x2="82.94" y2="75.7" stroke="#8c0a8c" stroke-width="7.0"/><line x1="69.84" y1="81.64" x2="81.81" y2="74.74" stroke="#a824a8" stroke-width="2.8"/><line x1="81.26" y1="83.6" x2="94.96" y2="75.7" stroke="#8c0a8c" stroke-width="7.0"/><line x1="81.86" y1="81.64" x2="93.83" y2="74.74" stroke="#a824a8" stroke-width="2.8"/><line x1="93.28" y1="83.6" x2="106.98" y2="75.7" stroke="#8c0a8c" stroke-width="7.0"/><line x1="93.88" y1="81.64" x2="105.85" y2="74.74" stroke="#a824a8" stroke-width="2.8"/><line x1="105.3" y1="83.6" x2="119" y2="75.7" stroke="#8c0a8c" stroke-width="7.0"/><line x1="105.9" y1="81.64" x2="117.87" y2="74.74" stroke="#a824a8" stroke-width="2.8"/><line x1="117.32" y1="83.6" x2="131.02" y2="75.7" stroke="#8c0a8c" stroke-width="7.0"/><line x1="117.92" y1="81.64" x2="129.89" y2="74.74" stroke="#a824a8" stroke-width="2.8"/><line x1="129.34" y1="83.6" x2="143.04" y2="75.7" stroke="#8c0a8c" stroke-width="7.0"/><line x1="129.94" y1="81.64" x2="141.91" y2="74.74" stroke="#a824a8" stroke-width="2.8"/><line x1="141.36" y1="83.6" x2="155.06" y2="75.7" stroke="#8c0a8c" stroke-width="7.0"/><line x1="141.96" y1="81.64" x2="153.93" y2="74.74" stroke="#a824a8" stroke-width="2.8"/><line x1="153.38" y1="83.6" x2="167.08" y2="75.7" stroke="#8c0a8c" stroke-width="7.0"/><line x1="153.98" y1="81.64" x2="165.95" y2="74.74" stroke="#a824a8" stroke-width="2.8"/><line x1="165.4" y1="83.6" x2="179.1" y2="75.7" stroke="#8c0a8c" stroke-width="7.0"/><line x1="166" y1="81.64" x2="177.97" y2="74.74" stroke="#a824a8" stroke-width="2.8"/><line x1="177.42" y1="83.6" x2="191.12" y2="75.7" stroke="#8c0a8c" stroke-width="7.0"/><line x1="178.02" y1="81.64" x2="189.99" y2="74.74" stroke="#a824a8" stroke-width="2.8"/><line x1="189.44" y1="83.6" x2="203.14" y2="75.7" stroke="#8c0a8c" stroke-width="7.0"/><line x1="190.04" y1="81.64" x2="202.01" y2="74.74" stroke="#a824a8" stroke-width="2.8"/><line x1="201.46" y1="83.6" x2="215.16" y2="75.7" stroke="#8c0a8c" stroke-width="7.0"/><line x1="202.06" y1="81.64" x2="214.03" y2="74.74" stroke="#a824a8" stroke-width="2.8"/><line x1="213.48" y1="83.6" x2="227.18" y2="75.7" stroke="#8c0a8c" stroke-width="7.0"/><line x1="214.08" y1="81.64" x2="226.05" y2="74.74" stroke="#a824a8" stroke-width="2.8"/><line x1="225.5" y1="83.6" x2="239.2" y2="75.7" stroke="#8c0a8c" stroke-width="7.0"/><line x1="226.1" y1="81.64" x2="238.07" y2="74.74" stroke="#a824a8" stroke-width="2.8"/><line x1="237.52" y1="83.6" x2="251.22" y2="75.7" stroke="#8c0a8c" stroke-width="7.0"/><line x1="238.12" y1="81.64" x2="250.09" y2="74.74" stroke="#a824a8" stroke-width="2.8"/><line x1="249.54" y1="83.6" x2="263.24" y2="75.7" stroke="#8c0a8c" stroke-width="7.0"/><line x1="250.14" y1="81.64" x2="262.11" y2="74.74" stroke="#a824a8" stroke-width="2.8"/><line x1="261.56" y1="83.6" x2="275.26" y2="75.7" stroke="#8c0a8c" stroke-width="7.0"/><line x1="262.16" y1="81.64" x2="274.13" y2="74.74" stroke="#a824a8" stroke-width="2.8"/><line x1="273.58" y1="83.6" x2="287.28" y2="75.7" stroke="#8c0a8c" stroke-width="7.0"/><line x1="274.18" y1="81.64" x2="286.15" y2="74.74" stroke="#a824a8" stroke-width="2.8"/><line x1="285.6" y1="83.6" x2="299.3" y2="75.7" stroke="#8c0a8c" stroke-width="7.0"/><line x1="286.2" y1="81.64" x2="298.17" y2="74.74" stroke="#a824a8" stroke-width="2.8"/><line x1="297.62" y1="83.6" x2="311.32" y2="75.7" stroke="#8c0a8c" stroke-width="7.0"/><line x1="298.22" y1="81.64" x2="310.19" y2="74.74" stroke="#a824a8" stroke-width="2.8"/><line x1="309.64" y1="83.6" x2="323.34" y2="75.7" stroke="#8c0a8c" stroke-width="7.0"/><line x1="310.24" y1="81.64" x2="322.21" y2="74.74" stroke="#a824a8" stroke-width="2.8"/><line x1="321.66" y1="83.6" x2="335.36" y2="75.7" stroke="#8c0a8c" stroke-width="7.0"/><line x1="322.26" y1="81.64" x2="334.23" y2="74.74" stroke="#a824a8" stroke-width="2.8"/><line x1="333.68" y1="83.6" x2="347.38" y2="75.7" stroke="#8c0a8c" stroke-width="7.0"/><line x1="334.28" y1="81.64" x2="346.25" y2="74.74" stroke="#a824a8" stroke-width="2.8"/><line x1="345.7" y1="83.6" x2="359.4" y2="75.7" stroke="#8c0a8c" stroke-width="7.0"/><line x1="346.3" y1="81.64" x2="358.27" y2="74.74" stroke="#a824a8" stroke-width="2.8"/><line x1="357.72" y1="83.6" x2="371.42" y2="75.7" stroke="#8c0a8c" stroke-width="7.0"/><line x1="358.32" y1="81.64" x2="370.29" y2="74.74" stroke="#a824a8" stroke-width="2.8"/><line x1="369.74" y1="83.6" x2="383.44" y2="75.7" stroke="#8c0a8c" stroke-width="7.0"/><line x1="370.34" y1="81.64" x2="382.31" y2="74.74" stroke="#a824a8" stroke-width="2.8"/><line x1="381.76" y1="83.6" x2="395.46" y2="75.7" stroke="#8c0a8c" stroke-width="7.0"/><line x1="382.36" y1="81.64" x2="394.33" y2="74.74" stroke="#a824a8" stroke-width="2.8"/><line x1="393.78" y1="83.6" x2="407.48" y2="75.7" stroke="#8c0a8c" stroke-width="7.0"/><line x1="394.38" y1="81.64" x2="406.35" y2="74.74" stroke="#a824a8" stroke-width="2.8"/><line x1="405.8" y1="83.6" x2="419.5" y2="75.7" stroke="#8c0a8c" stroke-width="7.0"/><line x1="406.4" y1="81.64" x2="418.37" y2="74.74" stroke="#a824a8" stroke-width="2.8"/></g><g><circle cx="45.2" cy="83.6" r="2.8" fill="url(#gMn)"/><circle cx="57.22" cy="83.6" r="2.8" fill="url(#gMn)"/><circle cx="69.24" cy="83.6" r="2.8" fill="url(#gMn)"/><circle cx="81.26" cy="83.6" r="2.8" fill="url(#gMn)"/><circle cx="93.28" cy="83.6" r="2.8" fill="url(#gMn)"/><circle cx="105.3" cy="83.6" r="2.8" fill="url(#gMn)"/><circle cx="117.32" cy="83.6" r="2.8" fill="url(#gMn)"/><circle cx="129.34" cy="83.6" r="2.8" fill="url(#gMn)"/><circle cx="141.36" cy="83.6" r="2.8" fill="url(#gMn)"/><circle cx="153.38" cy="83.6" r="2.8" fill="url(#gMn)"/><circle cx="165.4" cy="83.6" r="2.8" fill="url(#gMn)"/><circle cx="177.42" cy="83.6" r="2.8" fill="url(#gMn)"/><circle cx="189.44" cy="83.6" r="2.8" fill="url(#gMn)"/><circle cx="201.46" cy="83.6" r="2.8" fill="url(#gMn)"/><circle cx="213.48" cy="83.6" r="2.8" fill="url(#gMn)"/><circle cx="225.5" cy="83.6" r="2.8" fill="url(#gMn)"/><circle cx="237.52" cy="83.6" r="2.8" fill="url(#gMn)"/><circle cx="249.54" cy="83.6" r="2.8" fill="url(#gMn)"/><circle cx="261.56" cy="83.6" r="2.8" fill="url(#gMn)"/><circle cx="273.58" cy="83.6" r="2.8" fill="url(#gMn)"/><circle cx="285.6" cy="83.6" r="2.8" fill="url(#gMn)"/><circle cx="297.62" cy="83.6" r="2.8" fill="url(#gMn)"/><circle cx="309.64" cy="83.6" r="2.8" fill="url(#gMn)"/><circle cx="321.66" cy="83.6" r="2.8" fill="url(#gMn)"/><circle cx="333.68" cy="83.6" r="2.8" fill="url(#gMn)"/><circle cx="345.7" cy="83.6" r="2.8" fill="url(#gMn)"/><circle cx="357.72" cy="83.6" r="2.8" fill="url(#gMn)"/><circle cx="369.74" cy="83.6" r="2.8" fill="url(#gMn)"/><circle cx="381.76" cy="83.6" r="2.8" fill="url(#gMn)"/><circle cx="393.78" cy="83.6" r="2.8" fill="url(#gMn)"/><circle cx="405.8" cy="83.6" r="2.8" fill="url(#gMn)"/><circle cx="45.2" cy="95.66" r="2.8" fill="url(#gPt)"/><circle cx="57.22" cy="95.66" r="2.8" fill="url(#gMn)"/><circle cx="69.24" cy="95.66" r="2.8" fill="url(#gPt)"/><circle cx="81.26" cy="95.66" r="2.8" fill="url(#gMn)"/><circle cx="93.28" cy="95.66" r="2.8" fill="url(#gPt)"/><circle cx="105.3" cy="95.66" r="2.8" fill="url(#gMn)"/><circle cx="117.32" cy="95.66" r="2.8" fill="url(#gPt)"/><circle cx="129.34" cy="95.66" r="2.8" fill="url(#gMn)"/><circle cx="141.36" cy="95.66" r="2.8" fill="url(#gPt)"/><circle cx="153.38" cy="95.66" r="2.8" fill="url(#gMn)"/><circle cx="165.4" cy="95.66" r="2.8" fill="url(#gPt)"/><circle cx="177.42" cy="95.66" r="2.8" fill="url(#gMn)"/><circle cx="189.44" cy="95.66" r="2.8" fill="url(#gPt)"/><circle cx="201.46" cy="95.66" r="2.8" fill="url(#gMn)"/><circle cx="213.48" cy="95.66" r="2.8" fill="url(#gPt)"/><circle cx="225.5" cy="95.66" r="2.8" fill="url(#gMn)"/><circle cx="237.52" cy="95.66" r="2.8" fill="url(#gPt)"/><circle cx="249.54" cy="95.66" r="2.8" fill="url(#gMn)"/><circle cx="261.56" cy="95.66" r="2.8" fill="url(#gPt)"/><circle cx="273.58" cy="95.66" r="2.8" fill="url(#gMn)"/><circle cx="285.6" cy="95.66" r="2.8" fill="url(#gPt)"/><circle cx="297.62" cy="95.66" r="2.8" fill="url(#gMn)"/><circle cx="309.64" cy="95.66" r="2.8" fill="url(#gPt)"/><circle cx="321.66" cy="95.66" r="2.8" fill="url(#gMn)"/><circle cx="333.68" cy="95.66" r="2.8" fill="url(#gPt)"/><circle cx="345.7" cy="95.66" r="2.8" fill="url(#gMn)"/><circle cx="357.72" cy="95.66" r="2.8" fill="url(#gPt)"/><circle cx="369.74" cy="95.66" r="2.8" fill="url(#gMn)"/><circle cx="381.76" cy="95.66" r="2.8" fill="url(#gPt)"/><circle cx="393.78" cy="95.66" r="2.8" fill="url(#gMn)"/><circle cx="405.8" cy="95.66" r="2.8" fill="url(#gPt)"/><circle cx="45.2" cy="107.72" r="2.8" fill="url(#gMn)"/><circle cx="57.22" cy="107.72" r="2.8" fill="url(#gMn)"/><circle cx="69.24" cy="107.72" r="2.8" fill="url(#gMn)"/><circle cx="81.26" cy="107.72" r="2.8" fill="url(#gMn)"/><circle cx="93.28" cy="107.72" r="2.8" fill="url(#gMn)"/><circle cx="105.3" cy="107.72" r="2.8" fill="url(#gMn)"/><circle cx="117.32" cy="107.72" r="2.8" fill="url(#gMn)"/><circle cx="129.34" cy="107.72" r="2.8" fill="url(#gMn)"/><circle cx="141.36" cy="107.72" r="2.8" fill="url(#gMn)"/><circle cx="153.38" cy="107.72" r="2.8" fill="url(#gMn)"/><circle cx="165.4" cy="107.72" r="2.8" fill="url(#gMn)"/><circle cx="177.42" cy="107.72" r="2.8" fill="url(#gMn)"/><circle cx="189.44" cy="107.72" r="2.8" fill="url(#gMn)"/><circle cx="201.46" cy="107.72" r="2.8" fill="url(#gMn)"/><circle cx="213.48" cy="107.72" r="2.8" fill="url(#gMn)"/><circle cx="225.5" cy="107.72" r="2.8" fill="url(#gMn)"/><circle cx="237.52" cy="107.72" r="2.8" fill="url(#gMn)"/><circle cx="249.54" cy="107.72" r="2.8" fill="url(#gMn)"/><circle cx="261.56" cy="107.72" r="2.8" fill="url(#gMn)"/><circle cx="273.58" cy="107.72" r="2.8" fill="url(#gMn)"/><circle cx="285.6" cy="107.72" r="2.8" fill="url(#gMn)"/><circle cx="297.62" cy="107.72" r="2.8" fill="url(#gMn)"/><circle cx="309.64" cy="107.72" r="2.8" fill="url(#gMn)"/><circle cx="321.66" cy="107.72" r="2.8" fill="url(#gMn)"/><circle cx="333.68" cy="107.72" r="2.8" fill="url(#gMn)"/><circle cx="345.7" cy="107.72" r="2.8" fill="url(#gMn)"/><circle cx="357.72" cy="107.72" r="2.8" fill="url(#gMn)"/><circle cx="369.74" cy="107.72" r="2.8" fill="url(#gMn)"/><circle cx="381.76" cy="107.72" r="2.8" fill="url(#gMn)"/><circle cx="393.78" cy="107.72" r="2.8" fill="url(#gMn)"/><circle cx="405.8" cy="107.72" r="2.8" fill="url(#gMn)"/><circle cx="45.2" cy="119.78" r="2.8" fill="url(#gPt)"/><circle cx="57.22" cy="119.78" r="2.8" fill="url(#gMn)"/><circle cx="69.24" cy="119.78" r="2.8" fill="url(#gPt)"/><circle cx="81.26" cy="119.78" r="2.8" fill="url(#gMn)"/><circle cx="93.28" cy="119.78" r="2.8" fill="url(#gPt)"/><circle cx="105.3" cy="119.78" r="2.8" fill="url(#gMn)"/><circle cx="117.32" cy="119.78" r="2.8" fill="url(#gPt)"/><circle cx="129.34" cy="119.78" r="2.8" fill="url(#gMn)"/><circle cx="141.36" cy="119.78" r="2.8" fill="url(#gPt)"/><circle cx="153.38" cy="119.78" r="2.8" fill="url(#gMn)"/><circle cx="165.4" cy="119.78" r="2.8" fill="url(#gPt)"/><circle cx="177.42" cy="119.78" r="2.8" fill="url(#gMn)"/><circle cx="189.44" cy="119.78" r="2.8" fill="url(#gPt)"/><circle cx="201.46" cy="119.78" r="2.8" fill="url(#gMn)"/><circle cx="213.48" cy="119.78" r="2.8" fill="url(#gPt)"/><circle cx="225.5" cy="119.78" r="2.8" fill="url(#gMn)"/><circle cx="237.52" cy="119.78" r="2.8" fill="url(#gPt)"/><circle cx="249.54" cy="119.78" r="2.8" fill="url(#gMn)"/><circle cx="261.56" cy="119.78" r="2.8" fill="url(#gPt)"/><circle cx="273.58" cy="119.78" r="2.8" fill="url(#gMn)"/><circle cx="285.6" cy="119.78" r="2.8" fill="url(#gPt)"/><circle cx="297.62" cy="119.78" r="2.8" fill="url(#gMn)"/><circle cx="309.64" cy="119.78" r="2.8" fill="url(#gPt)"/><circle cx="321.66" cy="119.78" r="2.8" fill="url(#gMn)"/><circle cx="333.68" cy="119.78" r="2.8" fill="url(#gPt)"/><circle cx="345.7" cy="119.78" r="2.8" fill="url(#gMn)"/><circle cx="357.72" cy="119.78" r="2.8" fill="url(#gPt)"/><circle cx="369.74" cy="119.78" r="2.8" fill="url(#gMn)"/><circle cx="381.76" cy="119.78" r="2.8" fill="url(#gPt)"/><circle cx="393.78" cy="119.78" r="2.8" fill="url(#gMn)"/><circle cx="405.8" cy="119.78" r="2.8" fill="url(#gPt)"/><circle cx="45.2" cy="131.84" r="2.8" fill="url(#gMn)"/><circle cx="57.22" cy="131.84" r="2.8" fill="url(#gMn)"/><circle cx="69.24" cy="131.84" r="2.8" fill="url(#gMn)"/><circle cx="81.26" cy="131.84" r="2.8" fill="url(#gMn)"/><circle cx="93.28" cy="131.84" r="2.8" fill="url(#gMn)"/><circle cx="105.3" cy="131.84" r="2.8" fill="url(#gMn)"/><circle cx="117.32" cy="131.84" r="2.8" fill="url(#gMn)"/><circle cx="129.34" cy="131.84" r="2.8" fill="url(#gMn)"/><circle cx="141.36" cy="131.84" r="2.8" fill="url(#gMn)"/><circle cx="153.38" cy="131.84" r="2.8" fill="url(#gMn)"/><circle cx="165.4" cy="131.84" r="2.8" fill="url(#gMn)"/><circle cx="177.42" cy="131.84" r="2.8" fill="url(#gMn)"/><circle cx="189.44" cy="131.84" r="2.8" fill="url(#gMn)"/><circle cx="201.46" cy="131.84" r="2.8" fill="url(#gMn)"/><circle cx="213.48" cy="131.84" r="2.8" fill="url(#gMn)"/><circle cx="225.5" cy="131.84" r="2.8" fill="url(#gMn)"/><circle cx="237.52" cy="131.84" r="2.8" fill="url(#gMn)"/><circle cx="249.54" cy="131.84" r="2.8" fill="url(#gMn)"/><circle cx="261.56" cy="131.84" r="2.8" fill="url(#gMn)"/><circle cx="273.58" cy="131.84" r="2.8" fill="url(#gMn)"/><circle cx="285.6" cy="131.84" r="2.8" fill="url(#gMn)"/><circle cx="297.62" cy="131.84" r="2.8" fill="url(#gMn)"/><circle cx="309.64" cy="131.84" r="2.8" fill="url(#gMn)"/><circle cx="321.66" cy="131.84" r="2.8" fill="url(#gMn)"/><circle cx="333.68" cy="131.84" r="2.8" fill="url(#gMn)"/><circle cx="345.7" cy="131.84" r="2.8" fill="url(#gMn)"/><circle cx="357.72" cy="131.84" r="2.8" fill="url(#gMn)"/><circle cx="369.74" cy="131.84" r="2.8" fill="url(#gMn)"/><circle cx="381.76" cy="131.84" r="2.8" fill="url(#gMn)"/><circle cx="393.78" cy="131.84" r="2.8" fill="url(#gMn)"/><circle cx="405.8" cy="131.84" r="2.8" fill="url(#gMn)"/><circle cx="45.2" cy="143.9" r="2.8" fill="url(#gPt)"/><circle cx="57.22" cy="143.9" r="2.8" fill="url(#gMn)"/><circle cx="69.24" cy="143.9" r="2.8" fill="url(#gPt)"/><circle cx="81.26" cy="143.9" r="2.8" fill="url(#gMn)"/><circle cx="93.28" cy="143.9" r="2.8" fill="url(#gPt)"/><circle cx="105.3" cy="143.9" r="2.8" fill="url(#gMn)"/><circle cx="117.32" cy="143.9" r="2.8" fill="url(#gPt)"/><circle cx="129.34" cy="143.9" r="2.8" fill="url(#gMn)"/><circle cx="141.36" cy="143.9" r="2.8" fill="url(#gPt)"/><circle cx="153.38" cy="143.9" r="2.8" fill="url(#gMn)"/><circle cx="165.4" cy="143.9" r="2.8" fill="url(#gPt)"/><circle cx="177.42" cy="143.9" r="2.8" fill="url(#gMn)"/><circle cx="189.44" cy="143.9" r="2.8" fill="url(#gPt)"/><circle cx="201.46" cy="143.9" r="2.8" fill="url(#gMn)"/><circle cx="213.48" cy="143.9" r="2.8" fill="url(#gPt)"/><circle cx="225.5" cy="143.9" r="2.8" fill="url(#gMn)"/><circle cx="237.52" cy="143.9" r="2.8" fill="url(#gPt)"/><circle cx="249.54" cy="143.9" r="2.8" fill="url(#gMn)"/><circle cx="261.56" cy="143.9" r="2.8" fill="url(#gPt)"/><circle cx="273.58" cy="143.9" r="2.8" fill="url(#gMn)"/><circle cx="285.6" cy="143.9" r="2.8" fill="url(#gPt)"/><circle cx="297.62" cy="143.9" r="2.8" fill="url(#gMn)"/><circle cx="309.64" cy="143.9" r="2.8" fill="url(#gPt)"/><circle cx="321.66" cy="143.9" r="2.8" fill="url(#gMn)"/><circle cx="333.68" cy="143.9" r="2.8" fill="url(#gPt)"/><circle cx="345.7" cy="143.9" r="2.8" fill="url(#gMn)"/><circle cx="357.72" cy="143.9" r="2.8" fill="url(#gPt)"/><circle cx="369.74" cy="143.9" r="2.8" fill="url(#gMn)"/><circle cx="381.76" cy="143.9" r="2.8" fill="url(#gPt)"/><circle cx="393.78" cy="143.9" r="2.8" fill="url(#gMn)"/><circle cx="405.8" cy="143.9" r="2.8" fill="url(#gPt)"/><circle cx="45.2" cy="155.96" r="2.8" fill="url(#gMn)"/><circle cx="57.22" cy="155.96" r="2.8" fill="url(#gMn)"/><circle cx="69.24" cy="155.96" r="2.8" fill="url(#gMn)"/><circle cx="81.26" cy="155.96" r="2.8" fill="url(#gMn)"/><circle cx="93.28" cy="155.96" r="2.8" fill="url(#gMn)"/><circle cx="105.3" cy="155.96" r="2.8" fill="url(#gMn)"/><circle cx="117.32" cy="155.96" r="2.8" fill="url(#gMn)"/><circle cx="129.34" cy="155.96" r="2.8" fill="url(#gMn)"/><circle cx="141.36" cy="155.96" r="2.8" fill="url(#gMn)"/><circle cx="153.38" cy="155.96" r="2.8" fill="url(#gMn)"/><circle cx="165.4" cy="155.96" r="2.8" fill="url(#gMn)"/><circle cx="177.42" cy="155.96" r="2.8" fill="url(#gMn)"/><circle cx="189.44" cy="155.96" r="2.8" fill="url(#gMn)"/><circle cx="201.46" cy="155.96" r="2.8" fill="url(#gMn)"/><circle cx="213.48" cy="155.96" r="2.8" fill="url(#gMn)"/><circle cx="225.5" cy="155.96" r="2.8" fill="url(#gMn)"/><circle cx="237.52" cy="155.96" r="2.8" fill="url(#gMn)"/><circle cx="249.54" cy="155.96" r="2.8" fill="url(#gMn)"/><circle cx="261.56" cy="155.96" r="2.8" fill="url(#gMn)"/><circle cx="273.58" cy="155.96" r="2.8" fill="url(#gMn)"/><circle cx="285.6" cy="155.96" r="2.8" fill="url(#gMn)"/><circle cx="297.62" cy="155.96" r="2.8" fill="url(#gMn)"/><circle cx="309.64" cy="155.96" r="2.8" fill="url(#gMn)"/><circle cx="321.66" cy="155.96" r="2.8" fill="url(#gMn)"/><circle cx="333.68" cy="155.96" r="2.8" fill="url(#gMn)"/><circle cx="345.7" cy="155.96" r="2.8" fill="url(#gMn)"/><circle cx="357.72" cy="155.96" r="2.8" fill="url(#gMn)"/><circle cx="369.74" cy="155.96" r="2.8" fill="url(#gMn)"/><circle cx="381.76" cy="155.96" r="2.8" fill="url(#gMn)"/><circle cx="393.78" cy="155.96" r="2.8" fill="url(#gMn)"/><circle cx="405.8" cy="155.96" r="2.8" fill="url(#gMn)"/><circle cx="45.2" cy="168.02" r="2.8" fill="url(#gPt)"/><circle cx="57.22" cy="168.02" r="2.8" fill="url(#gMn)"/><circle cx="69.24" cy="168.02" r="2.8" fill="url(#gPt)"/><circle cx="81.26" cy="168.02" r="2.8" fill="url(#gMn)"/><circle cx="93.28" cy="168.02" r="2.8" fill="url(#gPt)"/><circle cx="105.3" cy="168.02" r="2.8" fill="url(#gMn)"/><circle cx="117.32" cy="168.02" r="2.8" fill="url(#gPt)"/><circle cx="129.34" cy="168.02" r="2.8" fill="url(#gMn)"/><circle cx="141.36" cy="168.02" r="2.8" fill="url(#gPt)"/><circle cx="153.38" cy="168.02" r="2.8" fill="url(#gMn)"/><circle cx="165.4" cy="168.02" r="2.8" fill="url(#gPt)"/><circle cx="177.42" cy="168.02" r="2.8" fill="url(#gMn)"/><circle cx="189.44" cy="168.02" r="2.8" fill="url(#gPt)"/><circle cx="201.46" cy="168.02" r="2.8" fill="url(#gMn)"/><circle cx="213.48" cy="168.02" r="2.8" fill="url(#gPt)"/><circle cx="225.5" cy="168.02" r="2.8" fill="url(#gMn)"/><circle cx="237.52" cy="168.02" r="2.8" fill="url(#gPt)"/><circle cx="249.54" cy="168.02" r="2.8" fill="url(#gMn)"/><circle cx="261.56" cy="168.02" r="2.8" fill="url(#gPt)"/><circle cx="273.58" cy="168.02" r="2.8" fill="url(#gMn)"/><circle cx="285.6" cy="168.02" r="2.8" fill="url(#gPt)"/><circle cx="297.62" cy="168.02" r="2.8" fill="url(#gMn)"/><circle cx="309.64" cy="168.02" r="2.8" fill="url(#gPt)"/><circle cx="321.66" cy="168.02" r="2.8" fill="url(#gMn)"/><circle cx="333.68" cy="168.02" r="2.8" fill="url(#gPt)"/><circle cx="345.7" cy="168.02" r="2.8" fill="url(#gMn)"/><circle cx="357.72" cy="168.02" r="2.8" fill="url(#gPt)"/><circle cx="369.74" cy="168.02" r="2.8" fill="url(#gMn)"/><circle cx="381.76" cy="168.02" r="2.8" fill="url(#gPt)"/><circle cx="393.78" cy="168.02" r="2.8" fill="url(#gMn)"/><circle cx="405.8" cy="168.02" r="2.8" fill="url(#gPt)"/><circle cx="45.2" cy="180.08" r="2.8" fill="url(#gMn)"/><circle cx="57.22" cy="180.08" r="2.8" fill="url(#gMn)"/><circle cx="69.24" cy="180.08" r="2.8" fill="url(#gMn)"/><circle cx="81.26" cy="180.08" r="2.8" fill="url(#gMn)"/><circle cx="93.28" cy="180.08" r="2.8" fill="url(#gMn)"/><circle cx="105.3" cy="180.08" r="2.8" fill="url(#gMn)"/><circle cx="117.32" cy="180.08" r="2.8" fill="url(#gMn)"/><circle cx="129.34" cy="180.08" r="2.8" fill="url(#gMn)"/><circle cx="141.36" cy="180.08" r="2.8" fill="url(#gMn)"/><circle cx="153.38" cy="180.08" r="2.8" fill="url(#gMn)"/><circle cx="165.4" cy="180.08" r="2.8" fill="url(#gMn)"/><circle cx="177.42" cy="180.08" r="2.8" fill="url(#gMn)"/><circle cx="189.44" cy="180.08" r="2.8" fill="url(#gMn)"/><circle cx="201.46" cy="180.08" r="2.8" fill="url(#gMn)"/><circle cx="213.48" cy="180.08" r="2.8" fill="url(#gMn)"/><circle cx="225.5" cy="180.08" r="2.8" fill="url(#gMn)"/><circle cx="237.52" cy="180.08" r="2.8" fill="url(#gMn)"/><circle cx="249.54" cy="180.08" r="2.8" fill="url(#gMn)"/><circle cx="261.56" cy="180.08" r="2.8" fill="url(#gMn)"/><circle cx="273.58" cy="180.08" r="2.8" fill="url(#gMn)"/><circle cx="285.6" cy="180.08" r="2.8" fill="url(#gMn)"/><circle cx="297.62" cy="180.08" r="2.8" fill="url(#gMn)"/><circle cx="309.64" cy="180.08" r="2.8" fill="url(#gMn)"/><circle cx="321.66" cy="180.08" r="2.8" fill="url(#gMn)"/><circle cx="333.68" cy="180.08" r="2.8" fill="url(#gMn)"/><circle cx="345.7" cy="180.08" r="2.8" fill="url(#gMn)"/><circle cx="357.72" cy="180.08" r="2.8" fill="url(#gMn)"/><circle cx="369.74" cy="180.08" r="2.8" fill="url(#gMn)"/><circle cx="381.76" cy="180.08" r="2.8" fill="url(#gMn)"/><circle cx="393.78" cy="180.08" r="2.8" fill="url(#gMn)"/><circle cx="405.8" cy="180.08" r="2.8" fill="url(#gMn)"/><circle cx="45.2" cy="192.14" r="2.8" fill="url(#gPt)"/><circle cx="57.22" cy="192.14" r="2.8" fill="url(#gMn)"/><circle cx="69.24" cy="192.14" r="2.8" fill="url(#gPt)"/><circle cx="81.26" cy="192.14" r="2.8" fill="url(#gMn)"/><circle cx="93.28" cy="192.14" r="2.8" fill="url(#gPt)"/><circle cx="105.3" cy="192.14" r="2.8" fill="url(#gMn)"/><circle cx="117.32" cy="192.14" r="2.8" fill="url(#gPt)"/><circle cx="129.34" cy="192.14" r="2.8" fill="url(#gMn)"/><circle cx="141.36" cy="192.14" r="2.8" fill="url(#gPt)"/><circle cx="153.38" cy="192.14" r="2.8" fill="url(#gMn)"/><circle cx="165.4" cy="192.14" r="2.8" fill="url(#gPt)"/><circle cx="177.42" cy="192.14" r="2.8" fill="url(#gMn)"/><circle cx="189.44" cy="192.14" r="2.8" fill="url(#gPt)"/><circle cx="201.46" cy="192.14" r="2.8" fill="url(#gMn)"/><circle cx="213.48" cy="192.14" r="2.8" fill="url(#gPt)"/><circle cx="225.5" cy="192.14" r="2.8" fill="url(#gMn)"/><circle cx="237.52" cy="192.14" r="2.8" fill="url(#gPt)"/><circle cx="249.54" cy="192.14" r="2.8" fill="url(#gMn)"/><circle cx="261.56" cy="192.14" r="2.8" fill="url(#gPt)"/><circle cx="273.58" cy="192.14" r="2.8" fill="url(#gMn)"/><circle cx="285.6" cy="192.14" r="2.8" fill="url(#gPt)"/><circle cx="297.62" cy="192.14" r="2.8" fill="url(#gMn)"/><circle cx="309.64" cy="192.14" r="2.8" fill="url(#gPt)"/><circle cx="321.66" cy="192.14" r="2.8" fill="url(#gMn)"/><circle cx="333.68" cy="192.14" r="2.8" fill="url(#gPt)"/><circle cx="345.7" cy="192.14" r="2.8" fill="url(#gMn)"/><circle cx="357.72" cy="192.14" r="2.8" fill="url(#gPt)"/><circle cx="369.74" cy="192.14" r="2.8" fill="url(#gMn)"/><circle cx="381.76" cy="192.14" r="2.8" fill="url(#gPt)"/><circle cx="393.78" cy="192.14" r="2.8" fill="url(#gMn)"/><circle cx="405.8" cy="192.14" r="2.8" fill="url(#gPt)"/><circle cx="45.2" cy="204.2" r="3.1" fill="url(#gCuR)"/><circle cx="57.22" cy="204.2" r="3" fill="url(#gGr)"/><circle cx="69.24" cy="204.2" r="3.1" fill="url(#gCuR)"/><circle cx="81.26" cy="204.2" r="3.1" fill="url(#gCuR)"/><circle cx="93.28" cy="204.2" r="3.1" fill="url(#gCuR)"/><circle cx="105.3" cy="204.2" r="3.1" fill="url(#gCuR)"/><circle cx="117.32" cy="204.2" r="3.1" fill="url(#gCuR)"/><circle cx="129.34" cy="204.2" r="3.1" fill="url(#gCuR)"/><circle cx="141.36" cy="204.2" r="3.1" fill="url(#gCuR)"/><circle cx="153.38" cy="204.2" r="3" fill="url(#gGr)"/><circle cx="165.4" cy="204.2" r="3.1" fill="url(#gCuR)"/><circle cx="177.42" cy="204.2" r="3.1" fill="url(#gCuR)"/><circle cx="189.44" cy="204.2" r="3.1" fill="url(#gCuR)"/><circle cx="201.46" cy="204.2" r="3" fill="url(#gGr)"/><circle cx="213.48" cy="204.2" r="3.1" fill="url(#gCuR)"/><circle cx="225.5" cy="204.2" r="3.1" fill="url(#gCuR)"/><circle cx="237.52" cy="204.2" r="3.1" fill="url(#gCuR)"/><circle cx="249.54" cy="204.2" r="3.1" fill="url(#gCuR)"/><circle cx="261.56" cy="204.2" r="3.1" fill="url(#gCuR)"/><circle cx="273.58" cy="204.2" r="3" fill="url(#gGr)"/><circle cx="285.6" cy="204.2" r="3.1" fill="url(#gCuR)"/><circle cx="297.62" cy="204.2" r="3.1" fill="url(#gCuR)"/><circle cx="309.64" cy="204.2" r="3.1" fill="url(#gCuR)"/><circle cx="321.66" cy="204.2" r="3.1" fill="url(#gCuR)"/><circle cx="333.68" cy="204.2" r="3.1" fill="url(#gCuR)"/><circle cx="345.7" cy="204.2" r="3.1" fill="url(#gCuR)"/><circle cx="357.72" cy="204.2" r="3.1" fill="url(#gCuR)"/><circle cx="369.74" cy="204.2" r="3.1" fill="url(#gCuR)"/><circle cx="381.76" cy="204.2" r="3.1" fill="url(#gCuR)"/><circle cx="393.78" cy="204.2" r="3" fill="url(#gGr)"/><circle cx="405.8" cy="204.2" r="3.1" fill="url(#gCuR)"/><circle cx="45.2" cy="216.26" r="1.7" fill="url(#gBr)"/><circle cx="57.22" cy="216.26" r="1.7" fill="url(#gBr)"/><circle cx="69.24" cy="216.26" r="1.7" fill="url(#gBr)"/><circle cx="81.26" cy="216.26" r="1.7" fill="url(#gBr)"/><circle cx="93.28" cy="216.26" r="1.7" fill="url(#gBr)"/><circle cx="105.3" cy="216.26" r="1.7" fill="url(#gBr)"/><circle cx="117.32" cy="216.26" r="1.7" fill="url(#gBr)"/><circle cx="129.34" cy="216.26" r="1.7" fill="url(#gBr)"/><circle cx="141.36" cy="216.26" r="1.7" fill="url(#gBr)"/><circle cx="153.38" cy="216.26" r="1.7" fill="url(#gBr)"/><circle cx="165.4" cy="216.26" r="1.7" fill="url(#gBr)"/><circle cx="177.42" cy="216.26" r="1.7" fill="url(#gBr)"/><circle cx="189.44" cy="216.26" r="1.7" fill="url(#gBr)"/><circle cx="201.46" cy="216.26" r="1.7" fill="url(#gBr)"/><circle cx="213.48" cy="216.26" r="1.7" fill="url(#gBr)"/><circle cx="225.5" cy="216.26" r="1.7" fill="url(#gBr)"/><circle cx="237.52" cy="216.26" r="1.7" fill="url(#gBr)"/><circle cx="249.54" cy="216.26" r="1.7" fill="url(#gBr)"/><circle cx="261.56" cy="216.26" r="1.7" fill="url(#gBr)"/><circle cx="273.58" cy="216.26" r="1.7" fill="url(#gBr)"/><circle cx="285.6" cy="216.26" r="1.7" fill="url(#gBr)"/><circle cx="297.62" cy="216.26" r="1.7" fill="url(#gBr)"/><circle cx="309.64" cy="216.26" r="1.7" fill="url(#gBr)"/><circle cx="321.66" cy="216.26" r="1.7" fill="url(#gBr)"/><circle cx="333.68" cy="216.26" r="1.7" fill="url(#gBr)"/><circle cx="345.7" cy="216.26" r="1.7" fill="url(#gBr)"/><circle cx="357.72" cy="216.26" r="1.7" fill="url(#gBr)"/><circle cx="369.74" cy="216.26" r="1.7" fill="url(#gBr)"/><circle cx="381.76" cy="216.26" r="1.7" fill="url(#gBr)"/><circle cx="393.78" cy="216.26" r="1.7" fill="url(#gBr)"/><circle cx="405.8" cy="216.26" r="1.7" fill="url(#gBr)"/><circle cx="45.2" cy="228.32" r="2.8" fill="url(#gMn)"/><circle cx="57.22" cy="228.32" r="2.8" fill="url(#gMn)"/><circle cx="69.24" cy="228.32" r="2.8" fill="url(#gMn)"/><circle cx="81.26" cy="228.32" r="2.8" fill="url(#gMn)"/><circle cx="93.28" cy="228.32" r="2.8" fill="url(#gMn)"/><circle cx="105.3" cy="228.32" r="2.8" fill="url(#gMn)"/><circle cx="117.32" cy="228.32" r="2.8" fill="url(#gMn)"/><circle cx="129.34" cy="228.32" r="2.8" fill="url(#gMn)"/><circle cx="141.36" cy="228.32" r="2.8" fill="url(#gMn)"/><circle cx="153.38" cy="228.32" r="2.8" fill="url(#gMn)"/><circle cx="165.4" cy="228.32" r="2.8" fill="url(#gMn)"/><circle cx="177.42" cy="228.32" r="2.8" fill="url(#gMn)"/><circle cx="189.44" cy="228.32" r="2.8" fill="url(#gMn)"/><circle cx="201.46" cy="228.32" r="2.8" fill="url(#gMn)"/><circle cx="213.48" cy="228.32" r="2.8" fill="url(#gMn)"/><circle cx="225.5" cy="228.32" r="2.8" fill="url(#gMn)"/><circle cx="237.52" cy="228.32" r="2.8" fill="url(#gMn)"/><circle cx="249.54" cy="228.32" r="2.8" fill="url(#gMn)"/><circle cx="261.56" cy="228.32" r="2.8" fill="url(#gMn)"/><circle cx="273.58" cy="228.32" r="2.8" fill="url(#gMn)"/><circle cx="285.6" cy="228.32" r="2.8" fill="url(#gMn)"/><circle cx="297.62" cy="228.32" r="2.8" fill="url(#gMn)"/><circle cx="309.64" cy="228.32" r="2.8" fill="url(#gMn)"/><circle cx="321.66" cy="228.32" r="2.8" fill="url(#gMn)"/><circle cx="333.68" cy="228.32" r="2.8" fill="url(#gMn)"/><circle cx="345.7" cy="228.32" r="2.8" fill="url(#gMn)"/><circle cx="357.72" cy="228.32" r="2.8" fill="url(#gMn)"/><circle cx="369.74" cy="228.32" r="2.8" fill="url(#gMn)"/><circle cx="381.76" cy="228.32" r="2.8" fill="url(#gMn)"/><circle cx="393.78" cy="228.32" r="2.8" fill="url(#gMn)"/><circle cx="405.8" cy="228.32" r="2.8" fill="url(#gMn)"/><circle cx="45.2" cy="240.38" r="1.7" fill="url(#gBr)"/><circle cx="57.22" cy="240.38" r="1.7" fill="url(#gBr)"/><circle cx="69.24" cy="240.38" r="1.7" fill="url(#gBr)"/><circle cx="81.26" cy="240.38" r="1.7" fill="url(#gBr)"/><circle cx="93.28" cy="240.38" r="1.7" fill="url(#gBr)"/><circle cx="105.3" cy="240.38" r="1.7" fill="url(#gBr)"/><circle cx="117.32" cy="240.38" r="1.7" fill="url(#gBr)"/><circle cx="129.34" cy="240.38" r="1.7" fill="url(#gBr)"/><circle cx="141.36" cy="240.38" r="1.7" fill="url(#gBr)"/><circle cx="153.38" cy="240.38" r="1.7" fill="url(#gBr)"/><circle cx="165.4" cy="240.38" r="1.7" fill="url(#gBr)"/><circle cx="177.42" cy="240.38" r="1.7" fill="url(#gBr)"/><circle cx="189.44" cy="240.38" r="1.7" fill="url(#gBr)"/><circle cx="201.46" cy="240.38" r="1.7" fill="url(#gBr)"/><circle cx="213.48" cy="240.38" r="1.7" fill="url(#gBr)"/><circle cx="225.5" cy="240.38" r="1.7" fill="url(#gBr)"/><circle cx="237.52" cy="240.38" r="1.7" fill="url(#gBr)"/><circle cx="249.54" cy="240.38" r="1.7" fill="url(#gBr)"/><circle cx="261.56" cy="240.38" r="1.7" fill="url(#gBr)"/><circle cx="273.58" cy="240.38" r="1.7" fill="url(#gBr)"/><circle cx="285.6" cy="240.38" r="1.7" fill="url(#gBr)"/><circle cx="297.62" cy="240.38" r="1.7" fill="url(#gBr)"/><circle cx="309.64" cy="240.38" r="1.7" fill="url(#gBr)"/><circle cx="321.66" cy="240.38" r="1.7" fill="url(#gBr)"/><circle cx="333.68" cy="240.38" r="1.7" fill="url(#gBr)"/><circle cx="345.7" cy="240.38" r="1.7" fill="url(#gBr)"/><circle cx="357.72" cy="240.38" r="1.7" fill="url(#gBr)"/><circle cx="369.74" cy="240.38" r="1.7" fill="url(#gBr)"/><circle cx="381.76" cy="240.38" r="1.7" fill="url(#gBr)"/><circle cx="393.78" cy="240.38" r="1.7" fill="url(#gBr)"/><circle cx="405.8" cy="240.38" r="1.7" fill="url(#gBr)"/><circle cx="45.2" cy="252.44" r="2.8" fill="url(#gMn)"/><circle cx="57.22" cy="252.44" r="2.8" fill="url(#gMn)"/><circle cx="69.24" cy="252.44" r="2.8" fill="url(#gMn)"/><circle cx="81.26" cy="252.44" r="2.8" fill="url(#gMn)"/><circle cx="93.28" cy="252.44" r="2.8" fill="url(#gMn)"/><circle cx="105.3" cy="252.44" r="2.8" fill="url(#gMn)"/><circle cx="117.32" cy="252.44" r="2.8" fill="url(#gMn)"/><circle cx="129.34" cy="252.44" r="2.8" fill="url(#gMn)"/><circle cx="141.36" cy="252.44" r="2.8" fill="url(#gMn)"/><circle cx="153.38" cy="252.44" r="2.8" fill="url(#gMn)"/><circle cx="165.4" cy="252.44" r="2.8" fill="url(#gMn)"/><circle cx="177.42" cy="252.44" r="2.8" fill="url(#gMn)"/><circle cx="189.44" cy="252.44" r="2.8" fill="url(#gMn)"/><circle cx="201.46" cy="252.44" r="2.8" fill="url(#gMn)"/><circle cx="213.48" cy="252.44" r="2.8" fill="url(#gMn)"/><circle cx="225.5" cy="252.44" r="2.8" fill="url(#gMn)"/><circle cx="237.52" cy="252.44" r="2.8" fill="url(#gMn)"/><circle cx="249.54" cy="252.44" r="2.8" fill="url(#gMn)"/><circle cx="261.56" cy="252.44" r="2.8" fill="url(#gMn)"/><circle cx="273.58" cy="252.44" r="2.8" fill="url(#gMn)"/><circle cx="285.6" cy="252.44" r="2.8" fill="url(#gMn)"/><circle cx="297.62" cy="252.44" r="2.8" fill="url(#gMn)"/><circle cx="309.64" cy="252.44" r="2.8" fill="url(#gMn)"/><circle cx="321.66" cy="252.44" r="2.8" fill="url(#gMn)"/><circle cx="333.68" cy="252.44" r="2.8" fill="url(#gMn)"/><circle cx="345.7" cy="252.44" r="2.8" fill="url(#gMn)"/><circle cx="357.72" cy="252.44" r="2.8" fill="url(#gMn)"/><circle cx="369.74" cy="252.44" r="2.8" fill="url(#gMn)"/><circle cx="381.76" cy="252.44" r="2.8" fill="url(#gMn)"/><circle cx="393.78" cy="252.44" r="2.8" fill="url(#gMn)"/><circle cx="405.8" cy="252.44" r="2.8" fill="url(#gMn)"/><circle cx="45.2" cy="264.5" r="1.7" fill="url(#gBr)"/><circle cx="57.22" cy="264.5" r="1.7" fill="url(#gBr)"/><circle cx="69.24" cy="264.5" r="1.7" fill="url(#gBr)"/><circle cx="81.26" cy="264.5" r="1.7" fill="url(#gBr)"/><circle cx="93.28" cy="264.5" r="1.7" fill="url(#gBr)"/><circle cx="105.3" cy="264.5" r="1.7" fill="url(#gBr)"/><circle cx="117.32" cy="264.5" r="1.7" fill="url(#gBr)"/><circle cx="129.34" cy="264.5" r="1.7" fill="url(#gBr)"/><circle cx="141.36" cy="264.5" r="1.7" fill="url(#gBr)"/><circle cx="153.38" cy="264.5" r="1.7" fill="url(#gBr)"/><circle cx="165.4" cy="264.5" r="1.7" fill="url(#gBr)"/><circle cx="177.42" cy="264.5" r="1.7" fill="url(#gBr)"/><circle cx="189.44" cy="264.5" r="1.7" fill="url(#gBr)"/><circle cx="201.46" cy="264.5" r="1.7" fill="url(#gBr)"/><circle cx="213.48" cy="264.5" r="1.7" fill="url(#gBr)"/><circle cx="225.5" cy="264.5" r="1.7" fill="url(#gBr)"/><circle cx="237.52" cy="264.5" r="1.7" fill="url(#gBr)"/><circle cx="249.54" cy="264.5" r="1.7" fill="url(#gBr)"/><circle cx="261.56" cy="264.5" r="1.7" fill="url(#gBr)"/><circle cx="273.58" cy="264.5" r="1.7" fill="url(#gBr)"/><circle cx="285.6" cy="264.5" r="1.7" fill="url(#gBr)"/><circle cx="297.62" cy="264.5" r="1.7" fill="url(#gBr)"/><circle cx="309.64" cy="264.5" r="1.7" fill="url(#gBr)"/><circle cx="321.66" cy="264.5" r="1.7" fill="url(#gBr)"/><circle cx="333.68" cy="264.5" r="1.7" fill="url(#gBr)"/><circle cx="345.7" cy="264.5" r="1.7" fill="url(#gBr)"/><circle cx="357.72" cy="264.5" r="1.7" fill="url(#gBr)"/><circle cx="369.74" cy="264.5" r="1.7" fill="url(#gBr)"/><circle cx="381.76" cy="264.5" r="1.7" fill="url(#gBr)"/><circle cx="393.78" cy="264.5" r="1.7" fill="url(#gBr)"/><circle cx="405.8" cy="264.5" r="1.7" fill="url(#gBr)"/><circle cx="45.2" cy="276.56" r="2.8" fill="url(#gMn)"/><circle cx="57.22" cy="276.56" r="2.8" fill="url(#gMn)"/><circle cx="69.24" cy="276.56" r="2.8" fill="url(#gMn)"/><circle cx="81.26" cy="276.56" r="2.8" fill="url(#gMn)"/><circle cx="93.28" cy="276.56" r="2.8" fill="url(#gMn)"/><circle cx="105.3" cy="276.56" r="2.8" fill="url(#gMn)"/><circle cx="117.32" cy="276.56" r="2.8" fill="url(#gMn)"/><circle cx="129.34" cy="276.56" r="2.8" fill="url(#gMn)"/><circle cx="141.36" cy="276.56" r="2.8" fill="url(#gMn)"/><circle cx="153.38" cy="276.56" r="2.8" fill="url(#gMn)"/><circle cx="165.4" cy="276.56" r="2.8" fill="url(#gMn)"/><circle cx="177.42" cy="276.56" r="2.8" fill="url(#gMn)"/><circle cx="189.44" cy="276.56" r="2.8" fill="url(#gMn)"/><circle cx="201.46" cy="276.56" r="2.8" fill="url(#gMn)"/><circle cx="213.48" cy="276.56" r="2.8" fill="url(#gMn)"/><circle cx="225.5" cy="276.56" r="2.8" fill="url(#gMn)"/><circle cx="237.52" cy="276.56" r="2.8" fill="url(#gMn)"/><circle cx="249.54" cy="276.56" r="2.8" fill="url(#gMn)"/><circle cx="261.56" cy="276.56" r="2.8" fill="url(#gMn)"/><circle cx="273.58" cy="276.56" r="2.8" fill="url(#gMn)"/><circle cx="285.6" cy="276.56" r="2.8" fill="url(#gMn)"/><circle cx="297.62" cy="276.56" r="2.8" fill="url(#gMn)"/><circle cx="309.64" cy="276.56" r="2.8" fill="url(#gMn)"/><circle cx="321.66" cy="276.56" r="2.8" fill="url(#gMn)"/><circle cx="333.68" cy="276.56" r="2.8" fill="url(#gMn)"/><circle cx="345.7" cy="276.56" r="2.8" fill="url(#gMn)"/><circle cx="357.72" cy="276.56" r="2.8" fill="url(#gMn)"/><circle cx="369.74" cy="276.56" r="2.8" fill="url(#gMn)"/><circle cx="381.76" cy="276.56" r="2.8" fill="url(#gMn)"/><circle cx="393.78" cy="276.56" r="2.8" fill="url(#gMn)"/><circle cx="405.8" cy="276.56" r="2.8" fill="url(#gMn)"/><circle cx="45.2" cy="288.62" r="1.7" fill="url(#gBr)"/><circle cx="57.22" cy="288.62" r="1.7" fill="url(#gBr)"/><circle cx="69.24" cy="288.62" r="1.7" fill="url(#gBr)"/><circle cx="81.26" cy="288.62" r="1.7" fill="url(#gBr)"/><circle cx="93.28" cy="288.62" r="1.7" fill="url(#gBr)"/><circle cx="105.3" cy="288.62" r="1.7" fill="url(#gBr)"/><circle cx="117.32" cy="288.62" r="1.7" fill="url(#gBr)"/><circle cx="129.34" cy="288.62" r="1.7" fill="url(#gBr)"/><circle cx="141.36" cy="288.62" r="1.7" fill="url(#gBr)"/><circle cx="153.38" cy="288.62" r="1.7" fill="url(#gBr)"/><circle cx="165.4" cy="288.62" r="1.7" fill="url(#gBr)"/><circle cx="177.42" cy="288.62" r="1.7" fill="url(#gBr)"/><circle cx="189.44" cy="288.62" r="1.7" fill="url(#gBr)"/><circle cx="201.46" cy="288.62" r="1.7" fill="url(#gBr)"/><circle cx="213.48" cy="288.62" r="1.7" fill="url(#gBr)"/><circle cx="225.5" cy="288.62" r="1.7" fill="url(#gBr)"/><circle cx="237.52" cy="288.62" r="1.7" fill="url(#gBr)"/><circle cx="249.54" cy="288.62" r="1.7" fill="url(#gBr)"/><circle cx="261.56" cy="288.62" r="1.7" fill="url(#gBr)"/><circle cx="273.58" cy="288.62" r="1.7" fill="url(#gBr)"/><circle cx="285.6" cy="288.62" r="1.7" fill="url(#gBr)"/><circle cx="297.62" cy="288.62" r="1.7" fill="url(#gBr)"/><circle cx="309.64" cy="288.62" r="1.7" fill="url(#gBr)"/><circle cx="321.66" cy="288.62" r="1.7" fill="url(#gBr)"/><circle cx="333.68" cy="288.62" r="1.7" fill="url(#gBr)"/><circle cx="345.7" cy="288.62" r="1.7" fill="url(#gBr)"/><circle cx="357.72" cy="288.62" r="1.7" fill="url(#gBr)"/><circle cx="369.74" cy="288.62" r="1.7" fill="url(#gBr)"/><circle cx="381.76" cy="288.62" r="1.7" fill="url(#gBr)"/><circle cx="393.78" cy="288.62" r="1.7" fill="url(#gBr)"/><circle cx="405.8" cy="288.62" r="1.7" fill="url(#gBr)"/><circle cx="45.2" cy="300.68" r="2.8" fill="url(#gMn)"/><circle cx="57.22" cy="300.68" r="2.8" fill="url(#gMn)"/><circle cx="69.24" cy="300.68" r="2.8" fill="url(#gMn)"/><circle cx="81.26" cy="300.68" r="2.8" fill="url(#gMn)"/><circle cx="93.28" cy="300.68" r="2.8" fill="url(#gMn)"/><circle cx="105.3" cy="300.68" r="2.8" fill="url(#gMn)"/><circle cx="117.32" cy="300.68" r="2.8" fill="url(#gMn)"/><circle cx="129.34" cy="300.68" r="2.8" fill="url(#gMn)"/><circle cx="141.36" cy="300.68" r="2.8" fill="url(#gMn)"/><circle cx="153.38" cy="300.68" r="2.8" fill="url(#gMn)"/><circle cx="165.4" cy="300.68" r="2.8" fill="url(#gMn)"/><circle cx="177.42" cy="300.68" r="2.8" fill="url(#gMn)"/><circle cx="189.44" cy="300.68" r="2.8" fill="url(#gMn)"/><circle cx="201.46" cy="300.68" r="2.8" fill="url(#gMn)"/><circle cx="213.48" cy="300.68" r="2.8" fill="url(#gMn)"/><circle cx="225.5" cy="300.68" r="2.8" fill="url(#gMn)"/><circle cx="237.52" cy="300.68" r="2.8" fill="url(#gMn)"/><circle cx="249.54" cy="300.68" r="2.8" fill="url(#gMn)"/><circle cx="261.56" cy="300.68" r="2.8" fill="url(#gMn)"/><circle cx="273.58" cy="300.68" r="2.8" fill="url(#gMn)"/><circle cx="285.6" cy="300.68" r="2.8" fill="url(#gMn)"/><circle cx="297.62" cy="300.68" r="2.8" fill="url(#gMn)"/><circle cx="309.64" cy="300.68" r="2.8" fill="url(#gMn)"/><circle cx="321.66" cy="300.68" r="2.8" fill="url(#gMn)"/><circle cx="333.68" cy="300.68" r="2.8" fill="url(#gMn)"/><circle cx="345.7" cy="300.68" r="2.8" fill="url(#gMn)"/><circle cx="357.72" cy="300.68" r="2.8" fill="url(#gMn)"/><circle cx="369.74" cy="300.68" r="2.8" fill="url(#gMn)"/><circle cx="381.76" cy="300.68" r="2.8" fill="url(#gMn)"/><circle cx="393.78" cy="300.68" r="2.8" fill="url(#gMn)"/><circle cx="405.8" cy="300.68" r="2.8" fill="url(#gMn)"/><circle cx="45.2" cy="312.74" r="1.7" fill="url(#gBr)"/><circle cx="57.22" cy="312.74" r="1.7" fill="url(#gBr)"/><circle cx="69.24" cy="312.74" r="1.7" fill="url(#gBr)"/><circle cx="81.26" cy="312.74" r="1.7" fill="url(#gBr)"/><circle cx="93.28" cy="312.74" r="1.7" fill="url(#gBr)"/><circle cx="105.3" cy="312.74" r="1.7" fill="url(#gBr)"/><circle cx="117.32" cy="312.74" r="1.7" fill="url(#gBr)"/><circle cx="129.34" cy="312.74" r="1.7" fill="url(#gBr)"/><circle cx="141.36" cy="312.74" r="1.7" fill="url(#gBr)"/><circle cx="153.38" cy="312.74" r="1.7" fill="url(#gBr)"/><circle cx="165.4" cy="312.74" r="1.7" fill="url(#gBr)"/><circle cx="177.42" cy="312.74" r="1.7" fill="url(#gBr)"/><circle cx="189.44" cy="312.74" r="1.7" fill="url(#gBr)"/><circle cx="201.46" cy="312.74" r="1.7" fill="url(#gBr)"/><circle cx="213.48" cy="312.74" r="1.7" fill="url(#gBr)"/><circle cx="225.5" cy="312.74" r="1.7" fill="url(#gBr)"/><circle cx="237.52" cy="312.74" r="1.7" fill="url(#gBr)"/><circle cx="249.54" cy="312.74" r="1.7" fill="url(#gBr)"/><circle cx="261.56" cy="312.74" r="1.7" fill="url(#gBr)"/><circle cx="273.58" cy="312.74" r="1.7" fill="url(#gBr)"/><circle cx="285.6" cy="312.74" r="1.7" fill="url(#gBr)"/><circle cx="297.62" cy="312.74" r="1.7" fill="url(#gBr)"/><circle cx="309.64" cy="312.74" r="1.7" fill="url(#gBr)"/><circle cx="321.66" cy="312.74" r="1.7" fill="url(#gBr)"/><circle cx="333.68" cy="312.74" r="1.7" fill="url(#gBr)"/><circle cx="345.7" cy="312.74" r="1.7" fill="url(#gBr)"/><circle cx="357.72" cy="312.74" r="1.7" fill="url(#gBr)"/><circle cx="369.74" cy="312.74" r="1.7" fill="url(#gBr)"/><circle cx="381.76" cy="312.74" r="1.7" fill="url(#gBr)"/><circle cx="393.78" cy="312.74" r="1.7" fill="url(#gBr)"/><circle cx="405.8" cy="312.74" r="1.7" fill="url(#gBr)"/></g></g><g stroke="#555" stroke-width="1.1" fill="none"><path d="M45 75.6 L58.4 68.7 L418.4 68.7 L418.4 310.5"/><path d="M45 317.2 L45 75.6 M406.2 317.2 L406.2 75.2 L418.4 68.7"/><path d="M406.2 317.2 L418.4 310.5"/><path d="M45 316.9 L406.2 316.9" stroke="#a8a8a8" stroke-width="1.8"/></g><g fill="#ff0000"><circle cx="40.2" cy="193.1" r="1.65"/><circle cx="40.2" cy="218.6" r="1.65"/><circle cx="46.48" cy="193.1" r="1.65"/><circle cx="46.48" cy="218.6" r="1.65"/><circle cx="52.76" cy="193.1" r="1.65"/><circle cx="52.76" cy="218.6" r="1.65"/><circle cx="59.04" cy="193.1" r="1.65"/><circle cx="59.04" cy="218.6" r="1.65"/><circle cx="65.32" cy="193.1" r="1.65"/><circle cx="65.32" cy="218.6" r="1.65"/><circle cx="71.6" cy="193.1" r="1.65"/><circle cx="71.6" cy="218.6" r="1.65"/><circle cx="77.88" cy="193.1" r="1.65"/><circle cx="77.88" cy="218.6" r="1.65"/><circle cx="84.16" cy="193.1" r="1.65"/><circle cx="84.16" cy="218.6" r="1.65"/><circle cx="90.44" cy="193.1" r="1.65"/><circle cx="90.44" cy="218.6" r="1.65"/><circle cx="96.72" cy="193.1" r="1.65"/><circle cx="96.72" cy="218.6" r="1.65"/><circle cx="103" cy="193.1" r="1.65"/><circle cx="103" cy="218.6" r="1.65"/><circle cx="109.28" cy="193.1" r="1.65"/><circle cx="109.28" cy="218.6" r="1.65"/><circle cx="115.56" cy="193.1" r="1.65"/><circle cx="115.56" cy="218.6" r="1.65"/><circle cx="121.84" cy="193.1" r="1.65"/><circle cx="121.84" cy="218.6" r="1.65"/><circle cx="128.12" cy="193.1" r="1.65"/><circle cx="128.12" cy="218.6" r="1.65"/><circle cx="134.4" cy="193.1" r="1.65"/><circle cx="134.4" cy="218.6" r="1.65"/><circle cx="140.69" cy="193.1" r="1.65"/><circle cx="140.69" cy="218.6" r="1.65"/><circle cx="146.97" cy="193.1" r="1.65"/><circle cx="146.97" cy="218.6" r="1.65"/><circle cx="153.25" cy="193.1" r="1.65"/><circle cx="153.25" cy="218.6" r="1.65"/><circle cx="159.53" cy="193.1" r="1.65"/><circle cx="159.53" cy="218.6" r="1.65"/><circle cx="165.81" cy="193.1" r="1.65"/><circle cx="165.81" cy="218.6" r="1.65"/><circle cx="172.09" cy="193.1" r="1.65"/><circle cx="172.09" cy="218.6" r="1.65"/><circle cx="178.37" cy="193.1" r="1.65"/><circle cx="178.37" cy="218.6" r="1.65"/><circle cx="184.65" cy="193.1" r="1.65"/><circle cx="184.65" cy="218.6" r="1.65"/><circle cx="190.93" cy="193.1" r="1.65"/><circle cx="190.93" cy="218.6" r="1.65"/><circle cx="197.21" cy="193.1" r="1.65"/><circle cx="197.21" cy="218.6" r="1.65"/><circle cx="203.49" cy="193.1" r="1.65"/><circle cx="203.49" cy="218.6" r="1.65"/><circle cx="209.77" cy="193.1" r="1.65"/><circle cx="209.77" cy="218.6" r="1.65"/><circle cx="216.05" cy="193.1" r="1.65"/><circle cx="216.05" cy="218.6" r="1.65"/><circle cx="222.33" cy="193.1" r="1.65"/><circle cx="222.33" cy="218.6" r="1.65"/><circle cx="228.61" cy="193.1" r="1.65"/><circle cx="228.61" cy="218.6" r="1.65"/><circle cx="234.89" cy="193.1" r="1.65"/><circle cx="234.89" cy="218.6" r="1.65"/><circle cx="241.17" cy="193.1" r="1.65"/><circle cx="241.17" cy="218.6" r="1.65"/><circle cx="247.45" cy="193.1" r="1.65"/><circle cx="247.45" cy="218.6" r="1.65"/><circle cx="253.73" cy="193.1" r="1.65"/><circle cx="253.73" cy="218.6" r="1.65"/><circle cx="260.01" cy="193.1" r="1.65"/><circle cx="260.01" cy="218.6" r="1.65"/><circle cx="266.29" cy="193.1" r="1.65"/><circle cx="266.29" cy="218.6" r="1.65"/><circle cx="272.57" cy="193.1" r="1.65"/><circle cx="272.57" cy="218.6" r="1.65"/><circle cx="278.85" cy="193.1" r="1.65"/><circle cx="278.85" cy="218.6" r="1.65"/><circle cx="285.13" cy="193.1" r="1.65"/><circle cx="285.13" cy="218.6" r="1.65"/><circle cx="291.41" cy="193.1" r="1.65"/><circle cx="291.41" cy="218.6" r="1.65"/><circle cx="297.69" cy="193.1" r="1.65"/><circle cx="297.69" cy="218.6" r="1.65"/><circle cx="303.97" cy="193.1" r="1.65"/><circle cx="303.97" cy="218.6" r="1.65"/><circle cx="310.25" cy="193.1" r="1.65"/><circle cx="310.25" cy="218.6" r="1.65"/><circle cx="316.53" cy="193.1" r="1.65"/><circle cx="316.53" cy="218.6" r="1.65"/><circle cx="322.81" cy="193.1" r="1.65"/><circle cx="322.81" cy="218.6" r="1.65"/><circle cx="329.1" cy="193.1" r="1.65"/><circle cx="329.1" cy="218.6" r="1.65"/><circle cx="335.38" cy="193.1" r="1.65"/><circle cx="335.38" cy="218.6" r="1.65"/><circle cx="341.66" cy="193.1" r="1.65"/><circle cx="341.66" cy="218.6" r="1.65"/><circle cx="347.94" cy="193.1" r="1.65"/><circle cx="347.94" cy="218.6" r="1.65"/><circle cx="354.22" cy="193.1" r="1.65"/><circle cx="354.22" cy="218.6" r="1.65"/><circle cx="360.5" cy="193.1" r="1.65"/><circle cx="360.5" cy="218.6" r="1.65"/><circle cx="366.78" cy="193.1" r="1.65"/><circle cx="366.78" cy="218.6" r="1.65"/><circle cx="373.06" cy="193.1" r="1.65"/><circle cx="373.06" cy="218.6" r="1.65"/><circle cx="379.34" cy="193.1" r="1.65"/><circle cx="379.34" cy="218.6" r="1.65"/><circle cx="385.62" cy="193.1" r="1.65"/><circle cx="385.62" cy="218.6" r="1.65"/><circle cx="391.9" cy="193.1" r="1.65"/><circle cx="391.9" cy="218.6" r="1.65"/><circle cx="398.18" cy="193.1" r="1.65"/><circle cx="398.18" cy="218.6" r="1.65"/><circle cx="404.46" cy="193.1" r="1.65"/><circle cx="404.46" cy="218.6" r="1.65"/><circle cx="410.74" cy="193.1" r="1.65"/><circle cx="410.74" cy="218.6" r="1.65"/><circle cx="417.02" cy="193.1" r="1.65"/><circle cx="417.02" cy="218.6" r="1.65"/><circle cx="423.3" cy="193.1" r="1.65"/><circle cx="423.3" cy="218.6" r="1.65"/><circle cx="40.2" cy="199.47" r="1.65"/><circle cx="423.3" cy="199.47" r="1.65"/><circle cx="40.2" cy="205.85" r="1.65"/><circle cx="423.3" cy="205.85" r="1.65"/><circle cx="40.2" cy="212.22" r="1.65"/><circle cx="423.3" cy="212.22" r="1.65"/></g><line x1="428" y1="207.5" x2="456" y2="207.5" stroke="#ff0000" stroke-width="2.6"/><path d="M464.7 207.5 L453 202.6 L455.5 207.5 L453 212.4 Z" fill="#ff0000"/><g fill="url(#gCu)"><circle cx="469.1" cy="71.2" r="3.9"/><circle cx="487.95" cy="71.2" r="3.9"/><circle cx="506.8" cy="71.2" r="3.9"/><circle cx="525.65" cy="71.2" r="3.9"/><circle cx="544.5" cy="71.2" r="3.9"/><circle cx="563.35" cy="71.2" r="3.9"/><circle cx="582.2" cy="71.2" r="3.9"/><circle cx="601.05" cy="71.2" r="3.9"/><circle cx="619.9" cy="71.2" r="3.9"/><circle cx="638.75" cy="71.2" r="3.9"/><circle cx="657.6" cy="71.2" r="3.9"/><circle cx="676.45" cy="71.2" r="3.9"/><circle cx="695.3" cy="71.2" r="3.9"/><circle cx="714.15" cy="71.2" r="3.9"/><circle cx="733" cy="71.2" r="3.9"/><circle cx="751.85" cy="71.2" r="3.9"/><circle cx="469.1" cy="90.05" r="3.9"/><circle cx="487.95" cy="90.05" r="3.9"/><circle cx="506.8" cy="90.05" r="3.9"/><circle cx="525.65" cy="90.05" r="3.9"/><circle cx="544.5" cy="90.05" r="3.9"/><circle cx="563.35" cy="90.05" r="3.9"/><circle cx="582.2" cy="90.05" r="3.9"/><circle cx="601.05" cy="90.05" r="3.9"/><circle cx="619.9" cy="90.05" r="3.9"/><circle cx="638.75" cy="90.05" r="3.9"/><circle cx="657.6" cy="90.05" r="3.9"/><circle cx="676.45" cy="90.05" r="3.9"/><circle cx="695.3" cy="90.05" r="3.9"/><circle cx="714.15" cy="90.05" r="3.9"/><circle cx="733" cy="90.05" r="3.9"/><circle cx="751.85" cy="90.05" r="3.9"/><circle cx="469.1" cy="108.9" r="3.9"/><circle cx="487.95" cy="108.9" r="3.9"/><circle cx="506.8" cy="108.9" r="3.9"/><circle cx="525.65" cy="108.9" r="3.9"/><circle cx="544.5" cy="108.9" r="3.9"/><circle cx="563.35" cy="108.9" r="3.9"/><circle cx="582.2" cy="108.9" r="3.9"/><circle cx="601.05" cy="108.9" r="3.9"/><circle cx="619.9" cy="108.9" r="3.9"/><circle cx="638.75" cy="108.9" r="3.9"/><circle cx="657.6" cy="108.9" r="3.9"/><circle cx="676.45" cy="108.9" r="3.9"/><circle cx="695.3" cy="108.9" r="3.9"/><circle cx="714.15" cy="108.9" r="3.9"/><circle cx="733" cy="108.9" r="3.9"/><circle cx="751.85" cy="108.9" r="3.9"/><circle cx="469.1" cy="127.75" r="3.9"/><circle cx="487.95" cy="127.75" r="3.9"/><circle cx="506.8" cy="127.75" r="3.9"/><circle cx="525.65" cy="127.75" r="3.9"/><circle cx="544.5" cy="127.75" r="3.9"/><circle cx="563.35" cy="127.75" r="3.9"/><circle cx="582.2" cy="127.75" r="3.9"/><circle cx="601.05" cy="127.75" r="3.9"/><circle cx="619.9" cy="127.75" r="3.9"/><circle cx="638.75" cy="127.75" r="3.9"/><circle cx="657.6" cy="127.75" r="3.9"/><circle cx="676.45" cy="127.75" r="3.9"/><circle cx="695.3" cy="127.75" r="3.9"/><circle cx="714.15" cy="127.75" r="3.9"/><circle cx="733" cy="127.75" r="3.9"/><circle cx="751.85" cy="127.75" r="3.9"/><circle cx="469.1" cy="146.6" r="3.9"/><circle cx="487.95" cy="146.6" r="3.9"/><circle cx="506.8" cy="146.6" r="3.9"/><circle cx="525.65" cy="146.6" r="3.9"/><circle cx="544.5" cy="146.6" r="3.9"/><circle cx="563.35" cy="146.6" r="3.9"/><circle cx="582.2" cy="146.6" r="3.9"/><circle cx="601.05" cy="146.6" r="3.9"/><circle cx="619.9" cy="146.6" r="3.9"/><circle cx="638.75" cy="146.6" r="3.9"/><circle cx="657.6" cy="146.6" r="3.9"/><circle cx="676.45" cy="146.6" r="3.9"/><circle cx="695.3" cy="146.6" r="3.9"/><circle cx="714.15" cy="146.6" r="3.9"/><circle cx="733" cy="146.6" r="3.9"/><circle cx="751.85" cy="146.6" r="3.9"/><circle cx="469.1" cy="165.45" r="3.9"/><circle cx="487.95" cy="165.45" r="3.9"/><circle cx="506.8" cy="165.45" r="3.9"/><circle cx="525.65" cy="165.45" r="3.9"/><circle cx="544.5" cy="165.45" r="3.9"/><circle cx="563.35" cy="165.45" r="3.9"/><circle cx="582.2" cy="165.45" r="3.9"/><circle cx="601.05" cy="165.45" r="3.9"/><circle cx="619.9" cy="165.45" r="3.9"/><circle cx="638.75" cy="165.45" r="3.9"/><circle cx="657.6" cy="165.45" r="3.9"/><circle cx="676.45" cy="165.45" r="3.9"/><circle cx="695.3" cy="165.45" r="3.9"/><circle cx="714.15" cy="165.45" r="3.9"/><circle cx="733" cy="165.45" r="3.9"/><circle cx="751.85" cy="165.45" r="3.9"/><circle cx="469.1" cy="184.3" r="3.9"/><circle cx="487.95" cy="184.3" r="3.9"/><circle cx="506.8" cy="184.3" r="3.9"/><circle cx="525.65" cy="184.3" r="3.9"/><circle cx="544.5" cy="184.3" r="3.9"/><circle cx="563.35" cy="184.3" r="3.9"/><circle cx="582.2" cy="184.3" r="3.9"/><circle cx="601.05" cy="184.3" r="3.9"/><circle cx="619.9" cy="184.3" r="3.9"/><circle cx="638.75" cy="184.3" r="3.9"/><circle cx="657.6" cy="184.3" r="3.9"/><circle cx="676.45" cy="184.3" r="3.9"/><circle cx="695.3" cy="184.3" r="3.9"/><circle cx="714.15" cy="184.3" r="3.9"/><circle cx="733" cy="184.3" r="3.9"/><circle cx="751.85" cy="184.3" r="3.9"/><circle cx="469.1" cy="203.15" r="3.9"/><circle cx="487.95" cy="203.15" r="3.9"/><circle cx="506.8" cy="203.15" r="3.9"/><circle cx="525.65" cy="203.15" r="3.9"/><circle cx="544.5" cy="203.15" r="3.9"/><circle cx="563.35" cy="203.15" r="3.9"/><circle cx="582.2" cy="203.15" r="3.9"/><circle cx="601.05" cy="203.15" r="3.9"/><circle cx="619.9" cy="203.15" r="3.9"/><circle cx="638.75" cy="203.15" r="3.9"/><circle cx="657.6" cy="203.15" r="3.9"/><circle cx="676.45" cy="203.15" r="3.9"/><circle cx="695.3" cy="203.15" r="3.9"/><circle cx="714.15" cy="203.15" r="3.9"/><circle cx="733" cy="203.15" r="3.9"/><circle cx="751.85" cy="203.15" r="3.9"/><circle cx="469.1" cy="222" r="3.9"/><circle cx="487.95" cy="222" r="3.9"/><circle cx="506.8" cy="222" r="3.9"/><circle cx="525.65" cy="222" r="3.9"/><circle cx="544.5" cy="222" r="3.9"/><circle cx="563.35" cy="222" r="3.9"/><circle cx="582.2" cy="222" r="3.9"/><circle cx="601.05" cy="222" r="3.9"/><circle cx="619.9" cy="222" r="3.9"/><circle cx="638.75" cy="222" r="3.9"/><circle cx="657.6" cy="222" r="3.9"/><circle cx="676.45" cy="222" r="3.9"/><circle cx="695.3" cy="222" r="3.9"/><circle cx="714.15" cy="222" r="3.9"/><circle cx="733" cy="222" r="3.9"/><circle cx="751.85" cy="222" r="3.9"/><circle cx="469.1" cy="240.85" r="3.9"/><circle cx="487.95" cy="240.85" r="3.9"/><circle cx="506.8" cy="240.85" r="3.9"/><circle cx="525.65" cy="240.85" r="3.9"/><circle cx="544.5" cy="240.85" r="3.9"/><circle cx="563.35" cy="240.85" r="3.9"/><circle cx="582.2" cy="240.85" r="3.9"/><circle cx="601.05" cy="240.85" r="3.9"/><circle cx="619.9" cy="240.85" r="3.9"/><circle cx="638.75" cy="240.85" r="3.9"/><circle cx="657.6" cy="240.85" r="3.9"/><circle cx="676.45" cy="240.85" r="3.9"/><circle cx="695.3" cy="240.85" r="3.9"/><circle cx="714.15" cy="240.85" r="3.9"/><circle cx="733" cy="240.85" r="3.9"/><circle cx="751.85" cy="240.85" r="3.9"/><circle cx="469.1" cy="259.7" r="3.9"/><circle cx="487.95" cy="259.7" r="3.9"/><circle cx="506.8" cy="259.7" r="3.9"/><circle cx="525.65" cy="259.7" r="3.9"/><circle cx="544.5" cy="259.7" r="3.9"/><circle cx="563.35" cy="259.7" r="3.9"/><circle cx="582.2" cy="259.7" r="3.9"/><circle cx="601.05" cy="259.7" r="3.9"/><circle cx="619.9" cy="259.7" r="3.9"/><circle cx="638.75" cy="259.7" r="3.9"/><circle cx="657.6" cy="259.7" r="3.9"/><circle cx="676.45" cy="259.7" r="3.9"/><circle cx="695.3" cy="259.7" r="3.9"/><circle cx="714.15" cy="259.7" r="3.9"/><circle cx="733" cy="259.7" r="3.9"/><circle cx="751.85" cy="259.7" r="3.9"/><circle cx="469.1" cy="278.55" r="3.9"/><circle cx="487.95" cy="278.55" r="3.9"/><circle cx="506.8" cy="278.55" r="3.9"/><circle cx="525.65" cy="278.55" r="3.9"/><circle cx="544.5" cy="278.55" r="3.9"/><circle cx="563.35" cy="278.55" r="3.9"/><circle cx="582.2" cy="278.55" r="3.9"/><circle cx="601.05" cy="278.55" r="3.9"/><circle cx="619.9" cy="278.55" r="3.9"/><circle cx="638.75" cy="278.55" r="3.9"/><circle cx="657.6" cy="278.55" r="3.9"/><circle cx="676.45" cy="278.55" r="3.9"/><circle cx="695.3" cy="278.55" r="3.9"/><circle cx="714.15" cy="278.55" r="3.9"/><circle cx="733" cy="278.55" r="3.9"/><circle cx="751.85" cy="278.55" r="3.9"/><circle cx="469.1" cy="297.4" r="3.9"/><circle cx="487.95" cy="297.4" r="3.9"/><circle cx="506.8" cy="297.4" r="3.9"/><circle cx="525.65" cy="297.4" r="3.9"/><circle cx="544.5" cy="297.4" r="3.9"/><circle cx="563.35" cy="297.4" r="3.9"/><circle cx="582.2" cy="297.4" r="3.9"/><circle cx="601.05" cy="297.4" r="3.9"/><circle cx="619.9" cy="297.4" r="3.9"/><circle cx="638.75" cy="297.4" r="3.9"/><circle cx="657.6" cy="297.4" r="3.9"/><circle cx="676.45" cy="297.4" r="3.9"/><circle cx="695.3" cy="297.4" r="3.9"/><circle cx="714.15" cy="297.4" r="3.9"/><circle cx="733" cy="297.4" r="3.9"/><circle cx="751.85" cy="297.4" r="3.9"/><circle cx="469.1" cy="316.25" r="3.9"/><circle cx="487.95" cy="316.25" r="3.9"/><circle cx="506.8" cy="316.25" r="3.9"/><circle cx="525.65" cy="316.25" r="3.9"/><circle cx="544.5" cy="316.25" r="3.9"/><circle cx="563.35" cy="316.25" r="3.9"/><circle cx="582.2" cy="316.25" r="3.9"/><circle cx="601.05" cy="316.25" r="3.9"/><circle cx="619.9" cy="316.25" r="3.9"/><circle cx="638.75" cy="316.25" r="3.9"/><circle cx="657.6" cy="316.25" r="3.9"/><circle cx="676.45" cy="316.25" r="3.9"/><circle cx="695.3" cy="316.25" r="3.9"/><circle cx="714.15" cy="316.25" r="3.9"/><circle cx="733" cy="316.25" r="3.9"/><circle cx="751.85" cy="316.25" r="3.9"/><circle cx="469.1" cy="335.1" r="3.9"/><circle cx="487.95" cy="335.1" r="3.9"/><circle cx="506.8" cy="335.1" r="3.9"/><circle cx="525.65" cy="335.1" r="3.9"/><circle cx="544.5" cy="335.1" r="3.9"/><circle cx="563.35" cy="335.1" r="3.9"/><circle cx="582.2" cy="335.1" r="3.9"/><circle cx="601.05" cy="335.1" r="3.9"/><circle cx="619.9" cy="335.1" r="3.9"/><circle cx="638.75" cy="335.1" r="3.9"/><circle cx="657.6" cy="335.1" r="3.9"/><circle cx="676.45" cy="335.1" r="3.9"/><circle cx="695.3" cy="335.1" r="3.9"/><circle cx="714.15" cy="335.1" r="3.9"/><circle cx="733" cy="335.1" r="3.9"/><circle cx="751.85" cy="335.1" r="3.9"/><circle cx="469.1" cy="353.95" r="3.9"/><circle cx="487.95" cy="353.95" r="3.9"/><circle cx="506.8" cy="353.95" r="3.9"/><circle cx="525.65" cy="353.95" r="3.9"/><circle cx="544.5" cy="353.95" r="3.9"/><circle cx="563.35" cy="353.95" r="3.9"/><circle cx="582.2" cy="353.95" r="3.9"/><circle cx="601.05" cy="353.95" r="3.9"/><circle cx="619.9" cy="353.95" r="3.9"/><circle cx="638.75" cy="353.95" r="3.9"/><circle cx="657.6" cy="353.95" r="3.9"/><circle cx="676.45" cy="353.95" r="3.9"/><circle cx="695.3" cy="353.95" r="3.9"/><circle cx="714.15" cy="353.95" r="3.9"/><circle cx="733" cy="353.95" r="3.9"/><circle cx="751.85" cy="353.95" r="3.9"/><circle cx="478.53" cy="80.62" r="3.9"/><circle cx="497.38" cy="80.62" r="3.9"/><circle cx="516.23" cy="80.62" r="3.9"/><circle cx="535.08" cy="80.62" r="3.9"/><circle cx="553.93" cy="80.62" r="3.9"/><circle cx="572.78" cy="80.62" r="3.9"/><circle cx="591.62" cy="80.62" r="3.9"/><circle cx="610.48" cy="80.62" r="3.9"/><circle cx="629.33" cy="80.62" r="3.9"/><circle cx="648.18" cy="80.62" r="3.9"/><circle cx="667.03" cy="80.62" r="3.9"/><circle cx="685.88" cy="80.62" r="3.9"/><circle cx="704.73" cy="80.62" r="3.9"/><circle cx="723.58" cy="80.62" r="3.9"/><circle cx="742.43" cy="80.62" r="3.9"/><circle cx="478.53" cy="99.48" r="3.9"/><circle cx="497.38" cy="99.48" r="3.9"/><circle cx="516.23" cy="99.48" r="3.9"/><circle cx="535.08" cy="99.48" r="3.9"/><circle cx="553.93" cy="99.48" r="3.9"/><circle cx="572.78" cy="99.48" r="3.9"/><circle cx="591.62" cy="99.48" r="3.9"/><circle cx="610.48" cy="99.48" r="3.9"/><circle cx="629.33" cy="99.48" r="3.9"/><circle cx="648.18" cy="99.48" r="3.9"/><circle cx="667.03" cy="99.48" r="3.9"/><circle cx="685.88" cy="99.48" r="3.9"/><circle cx="704.73" cy="99.48" r="3.9"/><circle cx="723.58" cy="99.48" r="3.9"/><circle cx="742.43" cy="99.48" r="3.9"/><circle cx="478.53" cy="118.33" r="3.9"/><circle cx="497.38" cy="118.33" r="3.9"/><circle cx="535.08" cy="118.33" r="3.9"/><circle cx="553.93" cy="118.33" r="3.9"/><circle cx="572.78" cy="118.33" r="3.9"/><circle cx="591.62" cy="118.33" r="3.9"/><circle cx="629.33" cy="118.33" r="3.9"/><circle cx="648.18" cy="118.33" r="3.9"/><circle cx="667.03" cy="118.33" r="3.9"/><circle cx="685.88" cy="118.33" r="3.9"/><circle cx="723.58" cy="118.33" r="3.9"/><circle cx="742.43" cy="118.33" r="3.9"/><circle cx="478.53" cy="137.18" r="3.9"/><circle cx="497.38" cy="137.18" r="3.9"/><circle cx="516.23" cy="137.18" r="3.9"/><circle cx="535.08" cy="137.18" r="3.9"/><circle cx="553.93" cy="137.18" r="3.9"/><circle cx="572.78" cy="137.18" r="3.9"/><circle cx="591.62" cy="137.18" r="3.9"/><circle cx="610.48" cy="137.18" r="3.9"/><circle cx="629.33" cy="137.18" r="3.9"/><circle cx="648.18" cy="137.18" r="3.9"/><circle cx="667.03" cy="137.18" r="3.9"/><circle cx="685.88" cy="137.18" r="3.9"/><circle cx="704.73" cy="137.18" r="3.9"/><circle cx="723.58" cy="137.18" r="3.9"/><circle cx="742.43" cy="137.18" r="3.9"/><circle cx="478.53" cy="156.03" r="3.9"/><circle cx="497.38" cy="156.03" r="3.9"/><circle cx="516.23" cy="156.03" r="3.9"/><circle cx="535.08" cy="156.03" r="3.9"/><circle cx="553.93" cy="156.03" r="3.9"/><circle cx="572.78" cy="156.03" r="3.9"/><circle cx="591.62" cy="156.03" r="3.9"/><circle cx="610.48" cy="156.03" r="3.9"/><circle cx="629.33" cy="156.03" r="3.9"/><circle cx="648.18" cy="156.03" r="3.9"/><circle cx="667.03" cy="156.03" r="3.9"/><circle cx="685.88" cy="156.03" r="3.9"/><circle cx="704.73" cy="156.03" r="3.9"/><circle cx="723.58" cy="156.03" r="3.9"/><circle cx="742.43" cy="156.03" r="3.9"/><circle cx="478.53" cy="174.88" r="3.9"/><circle cx="497.38" cy="174.88" r="3.9"/><circle cx="516.23" cy="174.88" r="3.9"/><circle cx="535.08" cy="174.88" r="3.9"/><circle cx="553.93" cy="174.88" r="3.9"/><circle cx="572.78" cy="174.88" r="3.9"/><circle cx="591.62" cy="174.88" r="3.9"/><circle cx="610.48" cy="174.88" r="3.9"/><circle cx="629.33" cy="174.88" r="3.9"/><circle cx="648.18" cy="174.88" r="3.9"/><circle cx="667.03" cy="174.88" r="3.9"/><circle cx="685.88" cy="174.88" r="3.9"/><circle cx="704.73" cy="174.88" r="3.9"/><circle cx="723.58" cy="174.88" r="3.9"/><circle cx="742.43" cy="174.88" r="3.9"/><circle cx="478.53" cy="193.73" r="3.9"/><circle cx="497.38" cy="193.73" r="3.9"/><circle cx="516.23" cy="193.73" r="3.9"/><circle cx="535.08" cy="193.73" r="3.9"/><circle cx="553.93" cy="193.73" r="3.9"/><circle cx="572.78" cy="193.73" r="3.9"/><circle cx="591.62" cy="193.73" r="3.9"/><circle cx="610.48" cy="193.73" r="3.9"/><circle cx="629.33" cy="193.73" r="3.9"/><circle cx="648.18" cy="193.73" r="3.9"/><circle cx="667.03" cy="193.73" r="3.9"/><circle cx="685.88" cy="193.73" r="3.9"/><circle cx="704.73" cy="193.73" r="3.9"/><circle cx="723.58" cy="193.73" r="3.9"/><circle cx="742.43" cy="193.73" r="3.9"/><circle cx="478.53" cy="212.57" r="3.9"/><circle cx="497.38" cy="212.57" r="3.9"/><circle cx="535.08" cy="212.57" r="3.9"/><circle cx="553.93" cy="212.57" r="3.9"/><circle cx="572.78" cy="212.57" r="3.9"/><circle cx="591.62" cy="212.57" r="3.9"/><circle cx="629.33" cy="212.57" r="3.9"/><circle cx="648.18" cy="212.57" r="3.9"/><circle cx="667.03" cy="212.57" r="3.9"/><circle cx="685.88" cy="212.57" r="3.9"/><circle cx="723.58" cy="212.57" r="3.9"/><circle cx="742.43" cy="212.57" r="3.9"/><circle cx="478.53" cy="231.43" r="3.9"/><circle cx="497.38" cy="231.43" r="3.9"/><circle cx="516.23" cy="231.43" r="3.9"/><circle cx="535.08" cy="231.43" r="3.9"/><circle cx="553.93" cy="231.43" r="3.9"/><circle cx="572.78" cy="231.43" r="3.9"/><circle cx="591.62" cy="231.43" r="3.9"/><circle cx="610.48" cy="231.43" r="3.9"/><circle cx="629.33" cy="231.43" r="3.9"/><circle cx="648.18" cy="231.43" r="3.9"/><circle cx="667.03" cy="231.43" r="3.9"/><circle cx="685.88" cy="231.43" r="3.9"/><circle cx="704.73" cy="231.43" r="3.9"/><circle cx="723.58" cy="231.43" r="3.9"/><circle cx="742.43" cy="231.43" r="3.9"/><circle cx="478.53" cy="250.28" r="3.9"/><circle cx="497.38" cy="250.28" r="3.9"/><circle cx="516.23" cy="250.28" r="3.9"/><circle cx="535.08" cy="250.28" r="3.9"/><circle cx="553.93" cy="250.28" r="3.9"/><circle cx="572.78" cy="250.28" r="3.9"/><circle cx="591.62" cy="250.28" r="3.9"/><circle cx="610.48" cy="250.28" r="3.9"/><circle cx="629.33" cy="250.28" r="3.9"/><circle cx="648.18" cy="250.28" r="3.9"/><circle cx="667.03" cy="250.28" r="3.9"/><circle cx="685.88" cy="250.28" r="3.9"/><circle cx="704.73" cy="250.28" r="3.9"/><circle cx="723.58" cy="250.28" r="3.9"/><circle cx="742.43" cy="250.28" r="3.9"/><circle cx="478.53" cy="269.12" r="3.9"/><circle cx="497.38" cy="269.12" r="3.9"/><circle cx="516.23" cy="269.12" r="3.9"/><circle cx="535.08" cy="269.12" r="3.9"/><circle cx="553.93" cy="269.12" r="3.9"/><circle cx="572.78" cy="269.12" r="3.9"/><circle cx="591.62" cy="269.12" r="3.9"/><circle cx="610.48" cy="269.12" r="3.9"/><circle cx="629.33" cy="269.12" r="3.9"/><circle cx="648.18" cy="269.12" r="3.9"/><circle cx="667.03" cy="269.12" r="3.9"/><circle cx="685.88" cy="269.12" r="3.9"/><circle cx="704.73" cy="269.12" r="3.9"/><circle cx="723.58" cy="269.12" r="3.9"/><circle cx="742.43" cy="269.12" r="3.9"/><circle cx="478.53" cy="287.98" r="3.9"/><circle cx="497.38" cy="287.98" r="3.9"/><circle cx="516.23" cy="287.98" r="3.9"/><circle cx="535.08" cy="287.98" r="3.9"/><circle cx="553.93" cy="287.98" r="3.9"/><circle cx="572.78" cy="287.98" r="3.9"/><circle cx="591.62" cy="287.98" r="3.9"/><circle cx="610.48" cy="287.98" r="3.9"/><circle cx="629.33" cy="287.98" r="3.9"/><circle cx="648.18" cy="287.98" r="3.9"/><circle cx="667.03" cy="287.98" r="3.9"/><circle cx="685.88" cy="287.98" r="3.9"/><circle cx="704.73" cy="287.98" r="3.9"/><circle cx="723.58" cy="287.98" r="3.9"/><circle cx="742.43" cy="287.98" r="3.9"/><circle cx="478.53" cy="306.83" r="3.9"/><circle cx="497.38" cy="306.83" r="3.9"/><circle cx="516.23" cy="306.83" r="3.9"/><circle cx="535.08" cy="306.83" r="3.9"/><circle cx="553.93" cy="306.83" r="3.9"/><circle cx="572.78" cy="306.83" r="3.9"/><circle cx="591.62" cy="306.83" r="3.9"/><circle cx="610.48" cy="306.83" r="3.9"/><circle cx="629.33" cy="306.83" r="3.9"/><circle cx="648.18" cy="306.83" r="3.9"/><circle cx="667.03" cy="306.83" r="3.9"/><circle cx="685.88" cy="306.83" r="3.9"/><circle cx="723.58" cy="306.83" r="3.9"/><circle cx="742.43" cy="306.83" r="3.9"/><circle cx="478.53" cy="325.68" r="3.9"/><circle cx="497.38" cy="325.68" r="3.9"/><circle cx="516.23" cy="325.68" r="3.9"/><circle cx="535.08" cy="325.68" r="3.9"/><circle cx="553.93" cy="325.68" r="3.9"/><circle cx="572.78" cy="325.68" r="3.9"/><circle cx="591.62" cy="325.68" r="3.9"/><circle cx="629.33" cy="325.68" r="3.9"/><circle cx="648.18" cy="325.68" r="3.9"/><circle cx="667.03" cy="325.68" r="3.9"/><circle cx="685.88" cy="325.68" r="3.9"/><circle cx="704.73" cy="325.68" r="3.9"/><circle cx="723.58" cy="325.68" r="3.9"/><circle cx="742.43" cy="325.68" r="3.9"/><circle cx="478.53" cy="344.53" r="3.9"/><circle cx="497.38" cy="344.53" r="3.9"/><circle cx="516.23" cy="344.53" r="3.9"/><circle cx="535.08" cy="344.53" r="3.9"/><circle cx="553.93" cy="344.53" r="3.9"/><circle cx="572.78" cy="344.53" r="3.9"/><circle cx="591.62" cy="344.53" r="3.9"/><circle cx="610.48" cy="344.53" r="3.9"/><circle cx="629.33" cy="344.53" r="3.9"/><circle cx="648.18" cy="344.53" r="3.9"/><circle cx="667.03" cy="344.53" r="3.9"/><circle cx="685.88" cy="344.53" r="3.9"/><circle cx="704.73" cy="344.53" r="3.9"/><circle cx="723.58" cy="344.53" r="3.9"/><circle cx="742.43" cy="344.53" r="3.9"/></g><rect x="469.1" y="71.2" width="282.75" height="282.75" fill="none" stroke="#7a7a7a" stroke-width="1.3" stroke-opacity="0.9"/><circle cx="516.23" cy="118.33" r="5.6" fill="url(#gGr)"/><circle cx="610.48" cy="118.33" r="5.6" fill="url(#gGr)"/><circle cx="704.73" cy="118.33" r="5.6" fill="url(#gGr)"/><circle cx="516.23" cy="212.57" r="5.6" fill="url(#gGr)"/><circle cx="704.73" cy="212.57" r="5.6" fill="url(#gGr)"/><circle cx="704.73" cy="306.83" r="5.6" fill="url(#gGr)"/><circle cx="610.48" cy="325.68" r="5.6" fill="url(#gGr)"/><circle cx="610.48" cy="212.57" r="5.9" fill="url(#gPk)"/><circle cx="495.7" cy="398.6" r="10.4" fill="url(#gPkL)"/><circle cx="498" cy="434.5" r="10.2" fill="url(#gGr)"/><circle cx="498.4" cy="465.7" r="9.2" fill="url(#gCu)"/><text transform="matrix(1.057 0 0 1 515.3 404.8)" font-size="24">Irreversible Mn</text><text transform="matrix(1.057 0 0 1 515.3 440.3)" font-size="24">Reversible Mn</text><text transform="matrix(1.080 0 0 1 515.6 471.9)" font-size="23.5">Cu</text><line x1="110.2" y1="341.2" x2="133.29" y2="355.85" stroke="#2a06f0" stroke-width="2.8"/><path d="M139.2 359.6 L129.98 359.2 L133.29 355.85 L134.91 351.43 Z" fill="#2a06f0"/><circle cx="124.7" cy="350.6" r="7" fill="url(#gSp)"/><line x1="174.11" y1="342.2" x2="150.04" y2="355.43" stroke="#2a06f0" stroke-width="2.8"/><path d="M143.91 358.8 L148.7 350.92 L150.04 355.43 L153.14 358.98 Z" fill="#2a06f0"/><circle cx="158.91" cy="350.6" r="7" fill="url(#gSp)"/><line x1="178.62" y1="341.2" x2="201.71" y2="355.85" stroke="#2a06f0" stroke-width="2.8"/><path d="M207.62 359.6 L198.4 359.2 L201.71 355.85 L203.33 351.43 Z" fill="#2a06f0"/><circle cx="193.12" cy="350.6" r="7" fill="url(#gSp)"/><line x1="242.53" y1="342.2" x2="218.46" y2="355.43" stroke="#2a06f0" stroke-width="2.8"/><path d="M212.33 358.8 L217.12 350.92 L218.46 355.43 L221.56 358.98 Z" fill="#2a06f0"/><circle cx="227.33" cy="350.6" r="7" fill="url(#gSp)"/><line x1="247.04" y1="341.2" x2="270.13" y2="355.85" stroke="#2a06f0" stroke-width="2.8"/><path d="M276.04 359.6 L266.82 359.2 L270.13 355.85 L271.75 351.43 Z" fill="#2a06f0"/><circle cx="261.54" cy="350.6" r="7" fill="url(#gSp)"/><line x1="310.95" y1="342.2" x2="286.88" y2="355.43" stroke="#2a06f0" stroke-width="2.8"/><path d="M280.75 358.8 L285.54 350.92 L286.88 355.43 L289.98 358.98 Z" fill="#2a06f0"/><circle cx="295.75" cy="350.6" r="7" fill="url(#gSp)"/><line x1="315.46" y1="341.2" x2="338.55" y2="355.85" stroke="#2a06f0" stroke-width="2.8"/><path d="M344.46 359.6 L335.24 359.2 L338.55 355.85 L340.17 351.43 Z" fill="#2a06f0"/><circle cx="329.96" cy="350.6" r="7" fill="url(#gSp)"/><line x1="379.37" y1="342.2" x2="355.3" y2="355.43" stroke="#2a06f0" stroke-width="2.8"/><path d="M349.17 358.8 L353.96 350.92 L355.3 355.43 L358.4 358.98 Z" fill="#2a06f0"/><circle cx="364.17" cy="350.6" r="7" fill="url(#gSp)"/><line x1="383.88" y1="341.2" x2="406.97" y2="355.85" stroke="#2a06f0" stroke-width="2.8"/><path d="M412.88 359.6 L403.66 359.2 L406.97 355.85 L408.59 351.43 Z" fill="#2a06f0"/><circle cx="398.38" cy="350.6" r="7" fill="url(#gSp)"/><line x1="124.7" y1="402" x2="124.7" y2="375" stroke="#f01010" stroke-width="2.8"/><path d="M124.7 368.5 L128.9 376 L124.7 375 L120.5 376 Z" fill="#f01010"/><circle cx="124.7" cy="385.1" r="7" fill="url(#gSp)"/><line x1="193.12" y1="402" x2="193.12" y2="375" stroke="#f01010" stroke-width="2.8"/><path d="M193.12 368.5 L197.32 376 L193.12 375 L188.92 376 Z" fill="#f01010"/><circle cx="193.12" cy="385.1" r="7" fill="url(#gSp)"/><line x1="261.54" y1="402" x2="261.54" y2="375" stroke="#f01010" stroke-width="2.8"/><path d="M261.54 368.5 L265.74 376 L261.54 375 L257.34 376 Z" fill="#f01010"/><circle cx="261.54" cy="385.1" r="7" fill="url(#gSp)"/><line x1="329.96" y1="402" x2="329.96" y2="375" stroke="#f01010" stroke-width="2.8"/><path d="M329.96 368.5 L334.16 376 L329.96 375 L325.76 376 Z" fill="#f01010"/><circle cx="329.96" cy="385.1" r="7" fill="url(#gSp)"/><line x1="398.38" y1="402" x2="398.38" y2="375" stroke="#f01010" stroke-width="2.8"/><path d="M398.38 368.5 L402.58 376 L398.38 375 L394.18 376 Z" fill="#f01010"/><circle cx="398.38" cy="385.1" r="7" fill="url(#gSp)"/><line x1="124.7" y1="405.7" x2="124.7" y2="432.3" stroke="#2a06f0" stroke-width="2.8"/><path d="M124.7 438.8 L120.5 431.3 L124.7 432.3 L128.9 431.3 Z" fill="#2a06f0"/><circle cx="124.7" cy="422.6" r="5.4" fill="url(#gGr)"/><line x1="261.54" y1="405.7" x2="261.54" y2="432.3" stroke="#2a06f0" stroke-width="2.8"/><path d="M261.54 438.8 L257.34 431.3 L261.54 432.3 L265.74 431.3 Z" fill="#2a06f0"/><circle cx="261.54" cy="422.1" r="7.5" fill="url(#gSpk)"/><line x1="398.38" y1="405.7" x2="398.38" y2="432.3" stroke="#2a06f0" stroke-width="2.8"/><path d="M398.38 438.8 L394.18 431.3 L398.38 432.3 L402.58 431.3 Z" fill="#2a06f0"/><circle cx="398.38" cy="422.6" r="5.4" fill="url(#gGr)"/><line x1="124.7" y1="474.3" x2="124.7" y2="501" stroke="#2a06f0" stroke-width="2.8"/><path d="M124.7 507.5 L120.5 500 L124.7 501 L128.9 500 Z" fill="#2a06f0"/><circle cx="124.7" cy="491.3" r="7" fill="url(#gSp)"/><line x1="158.91" y1="508" x2="158.91" y2="480.8" stroke="#f01010" stroke-width="2.8"/><path d="M158.91 474.3 L163.11 481.8 L158.91 480.8 L154.71 481.8 Z" fill="#f01010"/><circle cx="158.91" cy="491.3" r="7" fill="url(#gSp)"/><line x1="193.12" y1="474.3" x2="193.12" y2="501" stroke="#2a06f0" stroke-width="2.8"/><path d="M193.12 507.5 L188.92 500 L193.12 501 L197.32 500 Z" fill="#2a06f0"/><circle cx="193.12" cy="491.3" r="7" fill="url(#gSp)"/><line x1="227.33" y1="508" x2="227.33" y2="480.8" stroke="#f01010" stroke-width="2.8"/><path d="M227.33 474.3 L231.53 481.8 L227.33 480.8 L223.13 481.8 Z" fill="#f01010"/><circle cx="227.33" cy="491.3" r="7" fill="url(#gSp)"/><line x1="261.54" y1="474.3" x2="261.54" y2="501" stroke="#2a06f0" stroke-width="2.8"/><path d="M261.54 507.5 L257.34 500 L261.54 501 L265.74 500 Z" fill="#2a06f0"/><circle cx="261.54" cy="491.3" r="7" fill="url(#gSp)"/><line x1="295.75" y1="508" x2="295.75" y2="480.8" stroke="#f01010" stroke-width="2.8"/><path d="M295.75 474.3 L299.95 481.8 L295.75 480.8 L291.55 481.8 Z" fill="#f01010"/><circle cx="295.75" cy="491.3" r="7" fill="url(#gSp)"/><line x1="329.96" y1="474.3" x2="329.96" y2="501" stroke="#2a06f0" stroke-width="2.8"/><path d="M329.96 507.5 L325.76 500 L329.96 501 L334.16 500 Z" fill="#2a06f0"/><circle cx="329.96" cy="491.3" r="7" fill="url(#gSp)"/><line x1="364.17" y1="508" x2="364.17" y2="480.8" stroke="#f01010" stroke-width="2.8"/><path d="M364.17 474.3 L368.37 481.8 L364.17 480.8 L359.97 481.8 Z" fill="#f01010"/><circle cx="364.17" cy="491.3" r="7" fill="url(#gSp)"/><line x1="398.38" y1="474.3" x2="398.38" y2="501" stroke="#2a06f0" stroke-width="2.8"/><path d="M398.38 507.5 L394.18 500 L398.38 501 L402.58 500 Z" fill="#2a06f0"/><circle cx="398.38" cy="491.3" r="7" fill="url(#gSp)"/><line x1="135.8" y1="428.2" x2="135.8" y2="477.9" stroke="#1e1e1e" stroke-width="2.6"/><path d="M135.8 420.2 L141.4 433.2 L135.8 429.7 L130.2 433.2 Z" fill="#1e1e1e"/><path d="M135.8 485.9 L141.4 472.9 L135.8 476.4 L130.2 472.9 Z" fill="#1e1e1e"/><line x1="275.6" y1="389.7" x2="275.6" y2="421.5" stroke="#1e1e1e" stroke-width="2.6"/><path d="M275.6 381.7 L281.2 394.7 L275.6 391.2 L270 394.7 Z" fill="#1e1e1e"/><path d="M275.6 429.5 L281.2 416.5 L275.6 420 L270 416.5 Z" fill="#1e1e1e"/><text transform="matrix(1 0 0 1 144.3 458.6)" font-size="25" font-style="italic">J</text><text transform="matrix(1 0 0 1 155.8 464.4)" font-size="17.5">2</text><text transform="matrix(1 0 0 1 287 415.2)" font-size="23.5" font-style="italic">J</text><text transform="matrix(1 0 0 1 298.5 421.3)" font-size="17">int</text><text transform="matrix(1.030 0 0 1 28.8 384.8)" font-size="24">Mn<tspan font-size="17" dy="5">3</tspan><tspan dy="-5">Pt</tspan></text><text transform="matrix(1.080 0 0 1 29.6 500)" font-size="23.5">MnPt</text><g stroke="#555" stroke-width="1.3" stroke-dasharray="5.5 4.5"><line x1="1033.2" y1="66" x2="1033.2" y2="432.4"/><line x1="1123" y1="66" x2="1123" y2="432.4"/></g><rect x="872.2" y="66" width="497.4" height="366.4" fill="none" stroke="#444" stroke-width="1.4"/><path d="M955.1 432.4 V422.4 M955.1 66 V76 M1038 432.4 V422.4 M1038 66 V76 M1120.9 432.4 V422.4 M1120.9 66 V76 M1203.8 432.4 V422.4 M1203.8 66 V76 M1286.7 432.4 V422.4 M1286.7 66 V76 M872.2 157.6 H882.2 M1369.6 157.6 H1359.6 M872.2 249.2 H882.2 M1369.6 249.2 H1359.6 M872.2 340.8 H882.2 M1369.6 340.8 H1359.6" stroke="#444" stroke-width="1.4" fill="none"/><path d="M1361.1 66.97 L1356.75 66.98 L1352.4 66.99 L1348.05 67.01 L1343.69 67.02 L1339.34 67.03 L1334.99 67.04 L1330.64 67.06 L1326.28 67.07 L1321.93 67.09 L1317.58 67.1 L1313.23 67.12 L1308.88 67.13 L1304.52 67.15 L1300.17 67.16 L1295.82 67.18 L1291.47 67.2 L1287.11 67.21 L1282.76 67.23 L1278.41 67.25 L1274.06 67.27 L1269.71 67.29 L1265.35 67.31 L1261 67.33 L1256.65 67.35 L1252.3 67.38 L1247.94 67.4 L1243.59 67.42 L1239.24 67.45 L1234.89 67.48 L1230.54 67.5 L1226.18 67.53 L1221.83 67.56 L1217.48 67.59 L1213.13 67.62 L1208.77 67.65 L1204.42 67.69 L1200.07 67.72 L1195.72 67.76 L1191.37 67.8 L1187.01 67.84 L1182.66 67.88 L1178.31 67.92 L1173.96 67.97 L1169.6 68.02 L1165.25 68.07 L1160.9 68.12 L1156.55 68.18 L1152.19 68.24 L1147.84 68.3 L1143.49 68.37 L1139.14 68.44 L1134.79 68.51 L1130.43 68.59 L1126.08 68.67 L1121.73 68.76 L1117.38 68.86 L1113.02 68.96 L1108.67 69.07 L1104.32 69.19 L1099.97 69.32 L1095.62 69.46 L1091.26 69.61 L1086.91 69.78 L1082.56 69.96 L1078.21 70.16 L1073.85 70.38 L1069.5 70.62 L1065.15 70.9 L1060.8 71.21 L1056.45 71.56 L1052.09 71.96 L1047.74 72.43 L1043.39 72.97 L1039.04 73.62 L1034.68 74.4 L1030.33 75.35 L1025.98 76.55 L1021.63 78.09 L1017.28 80.18 L1012.92 83.12 L1008.57 87.62 L1004.22 95.31 L999.87 111.51 L997.5 424.52 L993.15 425.07 L988.8 425.58 L984.45 426.08 L980.09 426.55 L975.74 426.99 L971.39 427.42 L967.04 427.82 L962.69 428.19 L958.33 428.54 L953.98 428.87 L949.63 429.18 L945.28 429.47 L940.92 429.74 L936.57 429.98 L932.22 430.2 L927.87 430.41 L923.52 430.59 L919.16 430.76 L914.81 430.9 L910.46 431.03 L906.11 431.14 L901.75 431.23 L897.4 431.31 L893.05 431.37 L888.7 431.42 L884.34 431.45 L879.99 431.47" fill="none" stroke="#f04040" stroke-width="1.3"/><path d="M878.33 431.78 L882.36 431.68 L886.38 431.59 L890.4 431.49 L894.42 431.38 L898.44 431.28 L902.46 431.17 L906.48 431.06 L910.5 430.94 L914.52 430.83 L918.54 430.7 L922.56 430.58 L926.58 430.45 L930.6 430.31 L934.62 430.17 L938.64 430.02 L942.66 429.87 L946.69 429.71 L950.71 429.54 L954.73 429.36 L958.75 429.17 L962.77 428.98 L966.79 428.77 L970.81 428.55 L974.83 428.31 L978.85 428.06 L982.87 427.79 L986.89 427.5 L990.91 427.18 L994.93 426.84 L998.95 426.46 L1002.97 426.05 L1007 425.59 L1011.02 425.09 L1015.04 424.51 L1019.06 423.86 L1023.08 423.12 L1027.1 422.26 L1031.12 421.24 L1035.14 420.03 L1039.16 418.55 L1043.18 416.71 L1047.2 414.33 L1051.22 411.15 L1055.24 406.67 L1059.26 399.86 L1063.28 388.24 L1067.02 76.9 L1071.04 76.1 L1075.06 75.36 L1079.08 74.67 L1083.1 74.04 L1087.12 73.46 L1091.14 72.92 L1095.16 72.43 L1099.18 71.97 L1103.2 71.55 L1107.22 71.16 L1111.24 70.8 L1115.26 70.47 L1119.28 70.17 L1123.3 69.89 L1127.32 69.63 L1131.35 69.39 L1135.37 69.17 L1139.39 68.97 L1143.41 68.78 L1147.43 68.6 L1151.45 68.45 L1155.47 68.3 L1159.49 68.16 L1163.51 68.04 L1167.53 67.92 L1171.55 67.82 L1175.57 67.72 L1179.59 67.63 L1183.61 67.54 L1187.63 67.47 L1191.66 67.39 L1195.68 67.33 L1199.7 67.27 L1203.72 67.21 L1207.74 67.16 L1211.76 67.11 L1215.78 67.07 L1219.8 67.03 L1223.82 66.99 L1227.84 66.96 L1231.86 66.93 L1235.88 66.9 L1239.9 66.87 L1243.92 66.84 L1247.94 66.82 L1251.96 66.8 L1255.99 66.78 L1260.01 66.76 L1264.03 66.75 L1268.05 66.73 L1272.07 66.72 L1276.09 66.7 L1280.11 66.69 L1284.13 66.68 L1288.15 66.67 L1292.17 66.66 L1296.19 66.65 L1300.21 66.64 L1304.23 66.64 L1308.25 66.63 L1312.27 66.62 L1316.3 66.62 L1320.32 66.61 L1324.34 66.61 L1328.36 66.6 L1332.38 66.6 L1336.4 66.6 L1340.42 66.59 L1344.44 66.59 L1348.46 66.59 L1352.48 66.58 L1356.5 66.58 L1360.52 66.58" fill="none" stroke="#f04040" stroke-width="1.3"/><g fill="#ea0000"><circle cx="1361.1" cy="66.97" r="3.3"/><circle cx="1356.75" cy="66.98" r="3.3"/><circle cx="1352.4" cy="66.99" r="3.3"/><circle cx="1348.05" cy="67.01" r="3.3"/><circle cx="1343.69" cy="67.02" r="3.3"/><circle cx="1339.34" cy="67.03" r="3.3"/><circle cx="1334.99" cy="67.04" r="3.3"/><circle cx="1330.64" cy="67.06" r="3.3"/><circle cx="1326.28" cy="67.07" r="3.3"/><circle cx="1321.93" cy="67.09" r="3.3"/><circle cx="1317.58" cy="67.1" r="3.3"/><circle cx="1313.23" cy="67.12" r="3.3"/><circle cx="1308.88" cy="67.13" r="3.3"/><circle cx="1304.52" cy="67.15" r="3.3"/><circle cx="1300.17" cy="67.16" r="3.3"/><circle cx="1295.82" cy="67.18" r="3.3"/><circle cx="1291.47" cy="67.2" r="3.3"/><circle cx="1287.11" cy="67.21" r="3.3"/><circle cx="1282.76" cy="67.23" r="3.3"/><circle cx="1278.41" cy="67.25" r="3.3"/><circle cx="1274.06" cy="67.27" r="3.3"/><circle cx="1269.71" cy="67.29" r="3.3"/><circle cx="1265.35" cy="67.31" r="3.3"/><circle cx="1261" cy="67.33" r="3.3"/><circle cx="1256.65" cy="67.35" r="3.3"/><circle cx="1252.3" cy="67.38" r="3.3"/><circle cx="1247.94" cy="67.4" r="3.3"/><circle cx="1243.59" cy="67.42" r="3.3"/><circle cx="1239.24" cy="67.45" r="3.3"/><circle cx="1234.89" cy="67.48" r="3.3"/><circle cx="1230.54" cy="67.5" r="3.3"/><circle cx="1226.18" cy="67.53" r="3.3"/><circle cx="1221.83" cy="67.56" r="3.3"/><circle cx="1217.48" cy="67.59" r="3.3"/><circle cx="1213.13" cy="67.62" r="3.3"/><circle cx="1208.77" cy="67.65" r="3.3"/><circle cx="1204.42" cy="67.69" r="3.3"/><circle cx="1200.07" cy="67.72" r="3.3"/><circle cx="1195.72" cy="67.76" r="3.3"/><circle cx="1191.37" cy="67.8" r="3.3"/><circle cx="1187.01" cy="67.84" r="3.3"/><circle cx="1182.66" cy="67.88" r="3.3"/><circle cx="1178.31" cy="67.92" r="3.3"/><circle cx="1173.96" cy="67.97" r="3.3"/><circle cx="1169.6" cy="68.02" r="3.3"/><circle cx="1165.25" cy="68.07" r="3.3"/><circle cx="1160.9" cy="68.12" r="3.3"/><circle cx="1156.55" cy="68.18" r="3.3"/><circle cx="1152.19" cy="68.24" r="3.3"/><circle cx="1147.84" cy="68.3" r="3.3"/><circle cx="1143.49" cy="68.37" r="3.3"/><circle cx="1139.14" cy="68.44" r="3.3"/><circle cx="1134.79" cy="68.51" r="3.3"/><circle cx="1130.43" cy="68.59" r="3.3"/><circle cx="1126.08" cy="68.67" r="3.3"/><circle cx="1121.73" cy="68.76" r="3.3"/><circle cx="1117.38" cy="68.86" r="3.3"/><circle cx="1113.02" cy="68.96" r="3.3"/><circle cx="1108.67" cy="69.07" r="3.3"/><circle cx="1104.32" cy="69.19" r="3.3"/><circle cx="1099.97" cy="69.32" r="3.3"/><circle cx="1095.62" cy="69.46" r="3.3"/><circle cx="1091.26" cy="69.61" r="3.3"/><circle cx="1086.91" cy="69.78" r="3.3"/><circle cx="1082.56" cy="69.96" r="3.3"/><circle cx="1078.21" cy="70.16" r="3.3"/><circle cx="1073.85" cy="70.38" r="3.3"/><circle cx="1069.5" cy="70.62" r="3.3"/><circle cx="1065.15" cy="70.9" r="3.3"/><circle cx="1060.8" cy="71.21" r="3.3"/><circle cx="1056.45" cy="71.56" r="3.3"/><circle cx="1052.09" cy="71.96" r="3.3"/><circle cx="1047.74" cy="72.43" r="3.3"/><circle cx="1043.39" cy="72.97" r="3.3"/><circle cx="1039.04" cy="73.62" r="3.3"/><circle cx="1034.68" cy="74.4" r="3.3"/><circle cx="1030.33" cy="75.35" r="3.3"/><circle cx="1025.98" cy="76.55" r="3.3"/><circle cx="1021.63" cy="78.09" r="3.3"/><circle cx="1017.28" cy="80.18" r="3.3"/><circle cx="1012.92" cy="83.12" r="3.3"/><circle cx="1008.57" cy="87.62" r="3.3"/><circle cx="1004.22" cy="95.31" r="3.3"/><circle cx="999.87" cy="111.51" r="3.3"/><circle cx="997.5" cy="424.52" r="3.3"/><circle cx="993.15" cy="425.07" r="3.3"/><circle cx="988.8" cy="425.58" r="3.3"/><circle cx="984.45" cy="426.08" r="3.3"/><circle cx="980.09" cy="426.55" r="3.3"/><circle cx="975.74" cy="426.99" r="3.3"/><circle cx="971.39" cy="427.42" r="3.3"/><circle cx="967.04" cy="427.82" r="3.3"/><circle cx="962.69" cy="428.19" r="3.3"/><circle cx="958.33" cy="428.54" r="3.3"/><circle cx="953.98" cy="428.87" r="3.3"/><circle cx="949.63" cy="429.18" r="3.3"/><circle cx="945.28" cy="429.47" r="3.3"/><circle cx="940.92" cy="429.74" r="3.3"/><circle cx="936.57" cy="429.98" r="3.3"/><circle cx="932.22" cy="430.2" r="3.3"/><circle cx="927.87" cy="430.41" r="3.3"/><circle cx="923.52" cy="430.59" r="3.3"/><circle cx="919.16" cy="430.76" r="3.3"/><circle cx="914.81" cy="430.9" r="3.3"/><circle cx="910.46" cy="431.03" r="3.3"/><circle cx="906.11" cy="431.14" r="3.3"/><circle cx="901.75" cy="431.23" r="3.3"/><circle cx="897.4" cy="431.31" r="3.3"/><circle cx="893.05" cy="431.37" r="3.3"/><circle cx="888.7" cy="431.42" r="3.3"/><circle cx="884.34" cy="431.45" r="3.3"/><circle cx="879.99" cy="431.47" r="3.3"/><circle cx="878.33" cy="431.78" r="3.3"/><circle cx="882.36" cy="431.68" r="3.3"/><circle cx="886.38" cy="431.59" r="3.3"/><circle cx="890.4" cy="431.49" r="3.3"/><circle cx="894.42" cy="431.38" r="3.3"/><circle cx="898.44" cy="431.28" r="3.3"/><circle cx="902.46" cy="431.17" r="3.3"/><circle cx="906.48" cy="431.06" r="3.3"/><circle cx="910.5" cy="430.94" r="3.3"/><circle cx="914.52" cy="430.83" r="3.3"/><circle cx="918.54" cy="430.7" r="3.3"/><circle cx="922.56" cy="430.58" r="3.3"/><circle cx="926.58" cy="430.45" r="3.3"/><circle cx="930.6" cy="430.31" r="3.3"/><circle cx="934.62" cy="430.17" r="3.3"/><circle cx="938.64" cy="430.02" r="3.3"/><circle cx="942.66" cy="429.87" r="3.3"/><circle cx="946.69" cy="429.71" r="3.3"/><circle cx="950.71" cy="429.54" r="3.3"/><circle cx="954.73" cy="429.36" r="3.3"/><circle cx="958.75" cy="429.17" r="3.3"/><circle cx="962.77" cy="428.98" r="3.3"/><circle cx="966.79" cy="428.77" r="3.3"/><circle cx="970.81" cy="428.55" r="3.3"/><circle cx="974.83" cy="428.31" r="3.3"/><circle cx="978.85" cy="428.06" r="3.3"/><circle cx="982.87" cy="427.79" r="3.3"/><circle cx="986.89" cy="427.5" r="3.3"/><circle cx="990.91" cy="427.18" r="3.3"/><circle cx="994.93" cy="426.84" r="3.3"/><circle cx="998.95" cy="426.46" r="3.3"/><circle cx="1002.97" cy="426.05" r="3.3"/><circle cx="1007" cy="425.59" r="3.3"/><circle cx="1011.02" cy="425.09" r="3.3"/><circle cx="1015.04" cy="424.51" r="3.3"/><circle cx="1019.06" cy="423.86" r="3.3"/><circle cx="1023.08" cy="423.12" r="3.3"/><circle cx="1027.1" cy="422.26" r="3.3"/><circle cx="1031.12" cy="421.24" r="3.3"/><circle cx="1035.14" cy="420.03" r="3.3"/><circle cx="1039.16" cy="418.55" r="3.3"/><circle cx="1043.18" cy="416.71" r="3.3"/><circle cx="1047.2" cy="414.33" r="3.3"/><circle cx="1051.22" cy="411.15" r="3.3"/><circle cx="1055.24" cy="406.67" r="3.3"/><circle cx="1059.26" cy="399.86" r="3.3"/><circle cx="1063.28" cy="388.24" r="3.3"/><circle cx="1067.02" cy="76.9" r="3.3"/><circle cx="1071.04" cy="76.1" r="3.3"/><circle cx="1075.06" cy="75.36" r="3.3"/><circle cx="1079.08" cy="74.67" r="3.3"/><circle cx="1083.1" cy="74.04" r="3.3"/><circle cx="1087.12" cy="73.46" r="3.3"/><circle cx="1091.14" cy="72.92" r="3.3"/><circle cx="1095.16" cy="72.43" r="3.3"/><circle cx="1099.18" cy="71.97" r="3.3"/><circle cx="1103.2" cy="71.55" r="3.3"/><circle cx="1107.22" cy="71.16" r="3.3"/><circle cx="1111.24" cy="70.8" r="3.3"/><circle cx="1115.26" cy="70.47" r="3.3"/><circle cx="1119.28" cy="70.17" r="3.3"/><circle cx="1123.3" cy="69.89" r="3.3"/><circle cx="1127.32" cy="69.63" r="3.3"/><circle cx="1131.35" cy="69.39" r="3.3"/><circle cx="1135.37" cy="69.17" r="3.3"/><circle cx="1139.39" cy="68.97" r="3.3"/><circle cx="1143.41" cy="68.78" r="3.3"/><circle cx="1147.43" cy="68.6" r="3.3"/><circle cx="1151.45" cy="68.45" r="3.3"/><circle cx="1155.47" cy="68.3" r="3.3"/><circle cx="1159.49" cy="68.16" r="3.3"/><circle cx="1163.51" cy="68.04" r="3.3"/><circle cx="1167.53" cy="67.92" r="3.3"/><circle cx="1171.55" cy="67.82" r="3.3"/><circle cx="1175.57" cy="67.72" r="3.3"/><circle cx="1179.59" cy="67.63" r="3.3"/><circle cx="1183.61" cy="67.54" r="3.3"/><circle cx="1187.63" cy="67.47" r="3.3"/><circle cx="1191.66" cy="67.39" r="3.3"/><circle cx="1195.68" cy="67.33" r="3.3"/><circle cx="1199.7" cy="67.27" r="3.3"/><circle cx="1203.72" cy="67.21" r="3.3"/><circle cx="1207.74" cy="67.16" r="3.3"/><circle cx="1211.76" cy="67.11" r="3.3"/><circle cx="1215.78" cy="67.07" r="3.3"/><circle cx="1219.8" cy="67.03" r="3.3"/><circle cx="1223.82" cy="66.99" r="3.3"/><circle cx="1227.84" cy="66.96" r="3.3"/><circle cx="1231.86" cy="66.93" r="3.3"/><circle cx="1235.88" cy="66.9" r="3.3"/><circle cx="1239.9" cy="66.87" r="3.3"/><circle cx="1243.92" cy="66.84" r="3.3"/><circle cx="1247.94" cy="66.82" r="3.3"/><circle cx="1251.96" cy="66.8" r="3.3"/><circle cx="1255.99" cy="66.78" r="3.3"/><circle cx="1260.01" cy="66.76" r="3.3"/><circle cx="1264.03" cy="66.75" r="3.3"/><circle cx="1268.05" cy="66.73" r="3.3"/><circle cx="1272.07" cy="66.72" r="3.3"/><circle cx="1276.09" cy="66.7" r="3.3"/><circle cx="1280.11" cy="66.69" r="3.3"/><circle cx="1284.13" cy="66.68" r="3.3"/><circle cx="1288.15" cy="66.67" r="3.3"/><circle cx="1292.17" cy="66.66" r="3.3"/><circle cx="1296.19" cy="66.65" r="3.3"/><circle cx="1300.21" cy="66.64" r="3.3"/><circle cx="1304.23" cy="66.64" r="3.3"/><circle cx="1308.25" cy="66.63" r="3.3"/><circle cx="1312.27" cy="66.62" r="3.3"/><circle cx="1316.3" cy="66.62" r="3.3"/><circle cx="1320.32" cy="66.61" r="3.3"/><circle cx="1324.34" cy="66.61" r="3.3"/><circle cx="1328.36" cy="66.6" r="3.3"/><circle cx="1332.38" cy="66.6" r="3.3"/><circle cx="1336.4" cy="66.6" r="3.3"/><circle cx="1340.42" cy="66.59" r="3.3"/><circle cx="1344.44" cy="66.59" r="3.3"/><circle cx="1348.46" cy="66.59" r="3.3"/><circle cx="1352.48" cy="66.58" r="3.3"/><circle cx="1356.5" cy="66.58" r="3.3"/><circle cx="1360.52" cy="66.58" r="3.3"/></g><path d="M1360.52 66.11 L1354.39 66.19 L1348.25 66.28 L1342.12 66.36 L1335.98 66.45 L1329.85 66.54 L1323.71 66.64 L1317.58 66.73 L1311.45 66.83 L1305.31 66.94 L1299.18 67.04 L1293.04 67.16 L1286.91 67.27 L1280.77 67.4 L1274.64 67.52 L1268.5 67.66 L1262.37 67.8 L1256.23 67.95 L1250.1 68.11 L1243.97 68.28 L1237.83 68.46 L1231.7 68.65 L1225.56 68.86 L1219.43 69.09 L1213.29 69.34 L1207.16 69.61 L1201.02 69.91 L1194.89 70.24 L1188.75 70.61 L1182.62 71.04 L1176.48 71.53 L1170.35 72.09 L1164.22 72.76 L1158.08 73.56 L1151.95 74.55 L1145.81 75.79 L1139.68 77.42 L1133.54 79.63 L1127.41 82.86 L1121.27 87.99 L1115.14 97.5 L1109 121.24 L1102.21 417.58 L1096.07 421.52 L1089.94 423.82 L1083.8 425.34 L1077.67 426.42 L1071.53 427.23 L1065.4 427.86 L1059.26 428.37 L1053.13 428.79 L1046.99 429.14 L1040.86 429.44 L1034.73 429.7 L1028.59 429.93 L1022.46 430.14 L1016.32 430.32 L1010.19 430.49 L1004.05 430.64 L997.92 430.78 L991.78 430.9 L985.65 431.02 L979.51 431.13 L973.38 431.24 L967.24 431.33 L961.11 431.43 L954.98 431.51 L948.84 431.6 L942.71 431.68 L936.57 431.75 L930.44 431.82 L924.3 431.89 L918.17 431.96 L912.03 432.02 L905.9 432.09 L899.76 432.15 L893.63 432.21 L887.5 432.26 L881.36 432.32 L875.23 432.37" fill="none" stroke="#38a838" stroke-width="1.3"/><path d="M875.76 432.35 L881.9 432.27 L888.03 432.18 L894.17 432.1 L900.3 432.01 L906.44 431.92 L912.57 431.82 L918.71 431.73 L924.84 431.62 L930.98 431.52 L937.11 431.41 L943.25 431.3 L949.38 431.19 L955.51 431.06 L961.65 430.94 L967.78 430.81 L973.92 430.67 L980.05 430.52 L986.19 430.36 L992.32 430.2 L998.46 430.02 L1004.59 429.84 L1010.73 429.64 L1016.86 429.42 L1023 429.19 L1029.13 428.93 L1035.26 428.65 L1041.4 428.34 L1047.53 428 L1053.67 427.61 L1059.8 427.17 L1065.94 426.67 L1072.07 426.08 L1078.21 425.4 L1084.34 424.57 L1090.48 423.56 L1096.61 422.28 L1102.74 420.62 L1108.88 418.36 L1115.01 415.09 L1121.15 409.91 L1127.28 400.44 L1133.42 377.46 L1140.46 78.61 L1146.6 76.45 L1152.73 74.69 L1158.87 73.26 L1165 72.09 L1171.14 71.14 L1177.27 70.36 L1183.41 69.73 L1189.54 69.2 L1195.68 68.77 L1201.81 68.42 L1207.94 68.12 L1214.08 67.88 L1220.21 67.67 L1226.35 67.49 L1232.48 67.34 L1238.62 67.22 L1244.75 67.1 L1250.89 67.01 L1257.02 66.92 L1263.16 66.84 L1269.29 66.77 L1275.43 66.71 L1281.56 66.65 L1287.69 66.59 L1293.83 66.54 L1299.96 66.49 L1306.1 66.44 L1312.23 66.4 L1318.37 66.35 L1324.5 66.31 L1330.64 66.26 L1336.77 66.22 L1342.91 66.18 L1349.04 66.14 L1355.18 66.1 L1361.31 66.06 L1364.42 66" fill="none" stroke="#38a838" stroke-width="1.3"/><g fill="#008400"><rect x="1357.22" y="62.81" width="6.6" height="6.6"/><rect x="1351.09" y="62.89" width="6.6" height="6.6"/><rect x="1344.95" y="62.98" width="6.6" height="6.6"/><rect x="1338.82" y="63.06" width="6.6" height="6.6"/><rect x="1332.68" y="63.15" width="6.6" height="6.6"/><rect x="1326.55" y="63.24" width="6.6" height="6.6"/><rect x="1320.41" y="63.34" width="6.6" height="6.6"/><rect x="1314.28" y="63.43" width="6.6" height="6.6"/><rect x="1308.15" y="63.53" width="6.6" height="6.6"/><rect x="1302.01" y="63.64" width="6.6" height="6.6"/><rect x="1295.88" y="63.74" width="6.6" height="6.6"/><rect x="1289.74" y="63.86" width="6.6" height="6.6"/><rect x="1283.61" y="63.97" width="6.6" height="6.6"/><rect x="1277.47" y="64.1" width="6.6" height="6.6"/><rect x="1271.34" y="64.22" width="6.6" height="6.6"/><rect x="1265.2" y="64.36" width="6.6" height="6.6"/><rect x="1259.07" y="64.5" width="6.6" height="6.6"/><rect x="1252.93" y="64.65" width="6.6" height="6.6"/><rect x="1246.8" y="64.81" width="6.6" height="6.6"/><rect x="1240.67" y="64.98" width="6.6" height="6.6"/><rect x="1234.53" y="65.16" width="6.6" height="6.6"/><rect x="1228.4" y="65.35" width="6.6" height="6.6"/><rect x="1222.26" y="65.56" width="6.6" height="6.6"/><rect x="1216.13" y="65.79" width="6.6" height="6.6"/><rect x="1209.99" y="66.04" width="6.6" height="6.6"/><rect x="1203.86" y="66.31" width="6.6" height="6.6"/><rect x="1197.72" y="66.61" width="6.6" height="6.6"/><rect x="1191.59" y="66.94" width="6.6" height="6.6"/><rect x="1185.45" y="67.31" width="6.6" height="6.6"/><rect x="1179.32" y="67.74" width="6.6" height="6.6"/><rect x="1173.18" y="68.23" width="6.6" height="6.6"/><rect x="1167.05" y="68.79" width="6.6" height="6.6"/><rect x="1160.92" y="69.46" width="6.6" height="6.6"/><rect x="1154.78" y="70.26" width="6.6" height="6.6"/><rect x="1148.65" y="71.25" width="6.6" height="6.6"/><rect x="1142.51" y="72.49" width="6.6" height="6.6"/><rect x="1136.38" y="74.12" width="6.6" height="6.6"/><rect x="1130.24" y="76.33" width="6.6" height="6.6"/><rect x="1124.11" y="79.56" width="6.6" height="6.6"/><rect x="1117.97" y="84.69" width="6.6" height="6.6"/><rect x="1111.84" y="94.2" width="6.6" height="6.6"/><rect x="1105.7" y="117.94" width="6.6" height="6.6"/><rect x="1098.91" y="414.28" width="6.6" height="6.6"/><rect x="1092.77" y="418.22" width="6.6" height="6.6"/><rect x="1086.64" y="420.52" width="6.6" height="6.6"/><rect x="1080.5" y="422.04" width="6.6" height="6.6"/><rect x="1074.37" y="423.12" width="6.6" height="6.6"/><rect x="1068.23" y="423.93" width="6.6" height="6.6"/><rect x="1062.1" y="424.56" width="6.6" height="6.6"/><rect x="1055.96" y="425.07" width="6.6" height="6.6"/><rect x="1049.83" y="425.49" width="6.6" height="6.6"/><rect x="1043.69" y="425.84" width="6.6" height="6.6"/><rect x="1037.56" y="426.14" width="6.6" height="6.6"/><rect x="1031.43" y="426.4" width="6.6" height="6.6"/><rect x="1025.29" y="426.63" width="6.6" height="6.6"/><rect x="1019.16" y="426.84" width="6.6" height="6.6"/><rect x="1013.02" y="427.02" width="6.6" height="6.6"/><rect x="1006.89" y="427.19" width="6.6" height="6.6"/><rect x="1000.75" y="427.34" width="6.6" height="6.6"/><rect x="994.62" y="427.48" width="6.6" height="6.6"/><rect x="988.48" y="427.6" width="6.6" height="6.6"/><rect x="982.35" y="427.72" width="6.6" height="6.6"/><rect x="976.21" y="427.83" width="6.6" height="6.6"/><rect x="970.08" y="427.94" width="6.6" height="6.6"/><rect x="963.94" y="428.03" width="6.6" height="6.6"/><rect x="957.81" y="428.13" width="6.6" height="6.6"/><rect x="951.68" y="428.21" width="6.6" height="6.6"/><rect x="945.54" y="428.3" width="6.6" height="6.6"/><rect x="939.41" y="428.38" width="6.6" height="6.6"/><rect x="933.27" y="428.45" width="6.6" height="6.6"/><rect x="927.14" y="428.52" width="6.6" height="6.6"/><rect x="921" y="428.59" width="6.6" height="6.6"/><rect x="914.87" y="428.66" width="6.6" height="6.6"/><rect x="908.73" y="428.72" width="6.6" height="6.6"/><rect x="902.6" y="428.79" width="6.6" height="6.6"/><rect x="896.46" y="428.85" width="6.6" height="6.6"/><rect x="890.33" y="428.91" width="6.6" height="6.6"/><rect x="884.2" y="428.96" width="6.6" height="6.6"/><rect x="878.06" y="429.02" width="6.6" height="6.6"/><rect x="871.93" y="429.07" width="6.6" height="6.6"/><rect x="872.46" y="429.05" width="6.6" height="6.6"/><rect x="878.6" y="428.97" width="6.6" height="6.6"/><rect x="884.73" y="428.88" width="6.6" height="6.6"/><rect x="890.87" y="428.8" width="6.6" height="6.6"/><rect x="897" y="428.71" width="6.6" height="6.6"/><rect x="903.14" y="428.62" width="6.6" height="6.6"/><rect x="909.27" y="428.52" width="6.6" height="6.6"/><rect x="915.41" y="428.43" width="6.6" height="6.6"/><rect x="921.54" y="428.32" width="6.6" height="6.6"/><rect x="927.68" y="428.22" width="6.6" height="6.6"/><rect x="933.81" y="428.11" width="6.6" height="6.6"/><rect x="939.95" y="428" width="6.6" height="6.6"/><rect x="946.08" y="427.89" width="6.6" height="6.6"/><rect x="952.21" y="427.76" width="6.6" height="6.6"/><rect x="958.35" y="427.64" width="6.6" height="6.6"/><rect x="964.48" y="427.51" width="6.6" height="6.6"/><rect x="970.62" y="427.37" width="6.6" height="6.6"/><rect x="976.75" y="427.22" width="6.6" height="6.6"/><rect x="982.89" y="427.06" width="6.6" height="6.6"/><rect x="989.02" y="426.9" width="6.6" height="6.6"/><rect x="995.16" y="426.72" width="6.6" height="6.6"/><rect x="1001.29" y="426.54" width="6.6" height="6.6"/><rect x="1007.43" y="426.34" width="6.6" height="6.6"/><rect x="1013.56" y="426.12" width="6.6" height="6.6"/><rect x="1019.7" y="425.89" width="6.6" height="6.6"/><rect x="1025.83" y="425.63" width="6.6" height="6.6"/><rect x="1031.96" y="425.35" width="6.6" height="6.6"/><rect x="1038.1" y="425.04" width="6.6" height="6.6"/><rect x="1044.23" y="424.7" width="6.6" height="6.6"/><rect x="1050.37" y="424.31" width="6.6" height="6.6"/><rect x="1056.5" y="423.87" width="6.6" height="6.6"/><rect x="1062.64" y="423.37" width="6.6" height="6.6"/><rect x="1068.77" y="422.78" width="6.6" height="6.6"/><rect x="1074.91" y="422.1" width="6.6" height="6.6"/><rect x="1081.04" y="421.27" width="6.6" height="6.6"/><rect x="1087.18" y="420.26" width="6.6" height="6.6"/><rect x="1093.31" y="418.98" width="6.6" height="6.6"/><rect x="1099.44" y="417.32" width="6.6" height="6.6"/><rect x="1105.58" y="415.06" width="6.6" height="6.6"/><rect x="1111.71" y="411.79" width="6.6" height="6.6"/><rect x="1117.85" y="406.61" width="6.6" height="6.6"/><rect x="1123.98" y="397.14" width="6.6" height="6.6"/><rect x="1130.12" y="374.16" width="6.6" height="6.6"/><rect x="1137.16" y="75.31" width="6.6" height="6.6"/><rect x="1143.3" y="73.15" width="6.6" height="6.6"/><rect x="1149.43" y="71.39" width="6.6" height="6.6"/><rect x="1155.57" y="69.96" width="6.6" height="6.6"/><rect x="1161.7" y="68.79" width="6.6" height="6.6"/><rect x="1167.84" y="67.84" width="6.6" height="6.6"/><rect x="1173.97" y="67.06" width="6.6" height="6.6"/><rect x="1180.11" y="66.43" width="6.6" height="6.6"/><rect x="1186.24" y="65.9" width="6.6" height="6.6"/><rect x="1192.38" y="65.47" width="6.6" height="6.6"/><rect x="1198.51" y="65.12" width="6.6" height="6.6"/><rect x="1204.64" y="64.82" width="6.6" height="6.6"/><rect x="1210.78" y="64.58" width="6.6" height="6.6"/><rect x="1216.91" y="64.37" width="6.6" height="6.6"/><rect x="1223.05" y="64.19" width="6.6" height="6.6"/><rect x="1229.18" y="64.04" width="6.6" height="6.6"/><rect x="1235.32" y="63.92" width="6.6" height="6.6"/><rect x="1241.45" y="63.8" width="6.6" height="6.6"/><rect x="1247.59" y="63.71" width="6.6" height="6.6"/><rect x="1253.72" y="63.62" width="6.6" height="6.6"/><rect x="1259.86" y="63.54" width="6.6" height="6.6"/><rect x="1265.99" y="63.47" width="6.6" height="6.6"/><rect x="1272.13" y="63.41" width="6.6" height="6.6"/><rect x="1278.26" y="63.35" width="6.6" height="6.6"/><rect x="1284.39" y="63.29" width="6.6" height="6.6"/><rect x="1290.53" y="63.24" width="6.6" height="6.6"/><rect x="1296.66" y="63.19" width="6.6" height="6.6"/><rect x="1302.8" y="63.14" width="6.6" height="6.6"/><rect x="1308.93" y="63.1" width="6.6" height="6.6"/><rect x="1315.07" y="63.05" width="6.6" height="6.6"/><rect x="1321.2" y="63.01" width="6.6" height="6.6"/><rect x="1327.34" y="62.96" width="6.6" height="6.6"/><rect x="1333.47" y="62.92" width="6.6" height="6.6"/><rect x="1339.61" y="62.88" width="6.6" height="6.6"/><rect x="1345.74" y="62.84" width="6.6" height="6.6"/><rect x="1351.88" y="62.8" width="6.6" height="6.6"/><rect x="1358.01" y="62.76" width="6.6" height="6.6"/><rect x="1361.12" y="62.7" width="6.6" height="6.6"/></g><rect x="872.2" y="66" width="497.4" height="366.4" fill="none" stroke="#222" stroke-width="1.2" stroke-opacity="0.35"/><text transform="matrix(1 0 0 1 873.7 474.1)" font-size="29.5" text-anchor="middle">-0.6</text><text transform="matrix(1 0 0 1 958.8 474.1)" font-size="29.5" text-anchor="middle">-0.4</text><text transform="matrix(1 0 0 1 1035.3 474.1)" font-size="29.5" text-anchor="middle">-0.2</text><text transform="matrix(1 0 0 1 1122.4 474.1)" font-size="29.5" text-anchor="middle">0</text><text transform="matrix(1 0 0 1 1206.1 474.1)" font-size="29.5" text-anchor="middle">0.2</text><text transform="matrix(1 0 0 1 1288.6 474.1)" font-size="29.5" text-anchor="middle">0.4</text><text transform="matrix(1 0 0 1 1371.6 474.1)" font-size="29.5" text-anchor="middle">0.6</text><text transform="matrix(1 0 0 1 864 87.5)" font-size="29.5" text-anchor="end">1</text><text transform="matrix(1 0 0 1 864 175.7)" font-size="29.5" text-anchor="end">0.5</text><text transform="matrix(1 0 0 1 864 264.3)" font-size="29.5" text-anchor="end">0</text><text transform="matrix(1 0 0 1 865.5 354.1)" font-size="29.5" text-anchor="end">-0.5</text><text transform="matrix(1 0 0 1 864 439.4)" font-size="29.5" text-anchor="end">-1</text><text transform="matrix(1.035 0 0 1 1076.3 513.9)" font-size="28"><tspan font-style="italic">μ</tspan><tspan font-size="19.6" dy="6.7">0</tspan><tspan font-style="italic" dy="-6.7">H</tspan> (T)</text><text transform="translate(801 393) rotate(-90) scale(1.022 1)" font-size="28">Normalized <tspan font-style="italic">M</tspan> (<tspan font-style="italic">M</tspan>/<tspan font-style="italic">M</tspan><tspan font-size="19.6" dy="5">S</tspan><tspan dy="-5">)</tspan></text><text transform="matrix(1.070 0 0 1 1056.8 238.6)" font-size="24">0.2 T</text><line x1="1121" y1="247.9" x2="1044" y2="247.9" stroke="#222" stroke-width="1.3"/><path d="M1036.5 247.9 L1047 243.9 L1044.5 247.9 L1047 251.9 Z" fill="#222"/><text transform="matrix(0.985 0 0 1 879.2 278.2)" font-size="22.6">Δ<tspan font-style="italic">μ</tspan><tspan font-size="16" dy="5">0</tspan><tspan font-style="italic" dy="-5">H</tspan><tspan font-size="16" dy="5">C</tspan><tspan dy="-5"> = 0.1 T</tspan></text><text transform="matrix(1.031 0 0 1 1285.5 245.2)" font-size="21.5" text-anchor="end">Mn<tspan font-size="15" dy="4.6">3</tspan><tspan dy="-4.6">Pt / MnPt</tspan></text><text transform="matrix(1.040 0 0 1 1281 270.1)" font-size="21.5" text-anchor="end">Mn<tspan font-size="15" dy="4.6">3</tspan><tspan dy="-4.6">Pt only</tspan></text><line x1="1297.8" y1="238.2" x2="1348.5" y2="238.2" stroke="#f03030" stroke-width="1.3"/><circle cx="1323.2" cy="238.2" r="3.3" fill="#e80000"/><line x1="1297.8" y1="260.2" x2="1348.5" y2="260.2" stroke="#30a030" stroke-width="1.3"/><rect x="1319.9" y="256.9" width="6.6" height="6.6" fill="#008a00"/><path d="M1393.5 521.4 L1398 517.8 L1398 525 Z" fill="#999"/></svg></body></html>
